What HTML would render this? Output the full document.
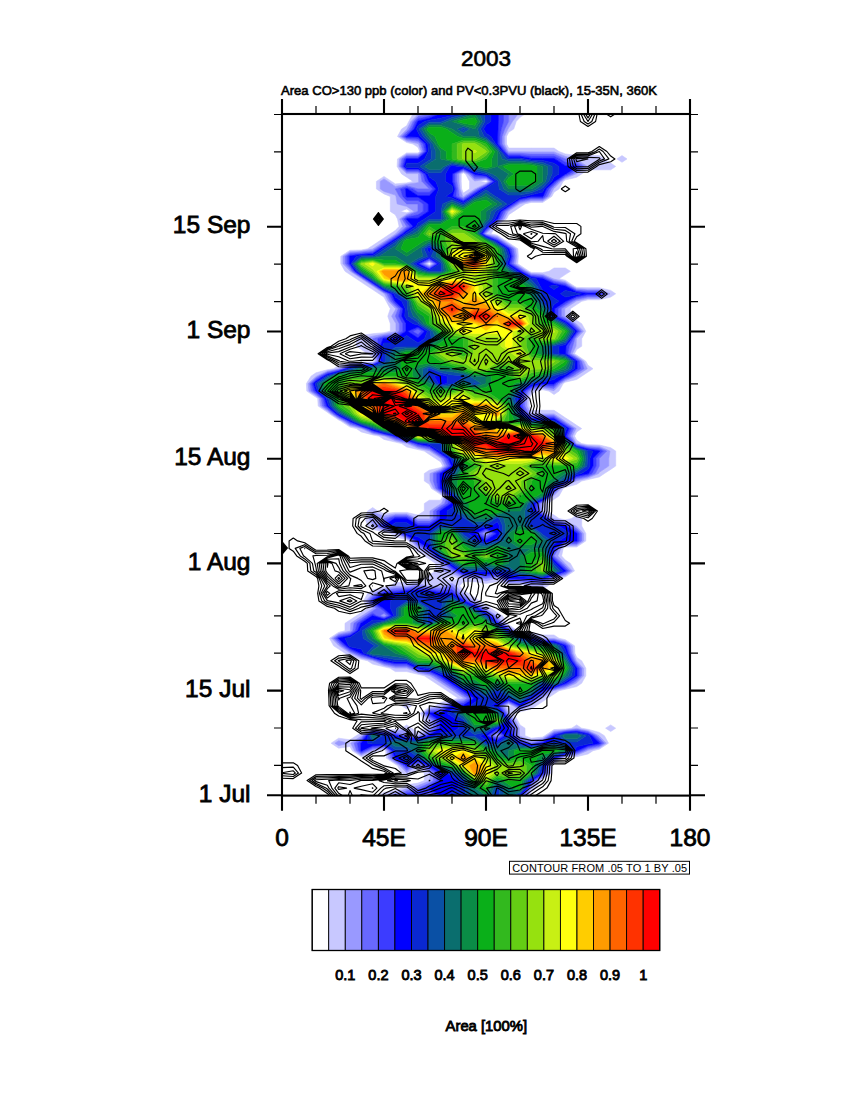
<!DOCTYPE html>
<html><head><meta charset="utf-8"><title>2003</title>
<style>
html,body{margin:0;padding:0;background:#fff;}
body{width:850px;height:1100px;overflow:hidden;font-family:"Liberation Sans",sans-serif;}
svg{display:block;}
text{font-family:"Liberation Sans",sans-serif;fill:#000;}
.big{font-size:24.5px;stroke:#000;stroke-width:0.8px;}
.ttl{font-size:22.5px;stroke:#000;stroke-width:0.65px;}
.sm{font-size:13px;stroke:#000;stroke-width:0.6px;}
.cb{font-size:14.5px;stroke:#000;stroke-width:0.85px;}
.cbt{font-size:14.8px;stroke:#000;stroke-width:0.85px;}
.info{font-size:11px;}
</style></head><body>
<svg width="850" height="1100" viewBox="0 0 850 1100">
<rect width="850" height="1100" fill="#fff"/>

<defs><clipPath id="c"><rect x="282" y="114" width="408" height="681.6"/></clipPath></defs>
<g clip-path="url(#c)">
<path fill="#c8c8ff" stroke="#c8c8ff" stroke-width="0.6" fill-rule="evenodd" d="M379 795.6L384 795.6L385.9 795.6L395.3 793.1L406.7 788.6L408.6 788.1L418 785.6L429.3 781.1L430 780.6L430 773.1L429.3 772.7L418.7 765.6L418 765.3L417.3 765.6L406.7 772.7L399.7 765.6L395.3 762.8L388.4 758.1L387.4 750.7L384 748.4L372.7 750.3L372 750.7L361.3 755.3L354.4 750.7L350.7 743.2L361.3 736.1L361.6 735.7L372.7 729.9L384 730.5L395.3 731.1L406.7 729.4L416.1 735.7L418 735.9L418.7 735.7L429.3 728.6L430 728.2L430 720.7L429.3 720.3L422.4 713.2L429.3 708.6L440.7 706.2L441.3 705.7L452 701.1L463.3 698.7L464 698.2L463.3 697.8L452.7 690.7L452 690.3L441.3 683.2L440.7 682.8L430 675.8L429.3 675.4L418 672.9L407.3 668.3L406.7 668L395.3 668L384 665.4L373.3 660.8L372.7 660.6L361.3 657.9L350.7 653.3L350 653L339.1 645.8L338.7 645.4L331.7 638.3L338.7 633.7L350 631.1L350.5 630.8L350.7 623.3L361.3 616.3L362 615.8L372.7 608.8L373.3 608.3L372.7 607.9L365.7 600.9L372.7 593.8L373.3 593.4L384 588.8L395.3 586.3L406.7 586.2L408.6 585.9L418 583.4L427.4 585.9L429.3 586.2L440.7 586.3L442.6 585.9L452 583.4L455.8 585.9L462.7 593.4L463.3 593.8L474 600.9L474.7 601.2L485.5 608.3L486 608.7L496.9 615.8L497.3 616.3L504.3 623.3L508.7 626.2L515.6 630.8L520 633.1L531.3 633.7L542 638.3L542.7 638.5L554 638.5L565.3 641.2L572.3 645.8L573.2 653.3L576.4 660.8L576.7 661.2L583.6 668.3L583.6 675.8L576.7 682.8L576 683.2L565.3 687.9L554 690.5L553.3 690.7L542.7 697.8L542 698.2L531.3 705.3L530.7 705.7L520 710.3L513 705.7L508.7 703.4L504.3 705.7L508.4 713.2L508.7 713.6L515.6 720.7L519.3 728.2L519.5 735.7L520 736.1L531.3 740.7L542.7 738.6L547 735.7L554 731.1L565.3 729.9L576.7 728.4L588 730.5L598.9 735.7L599.3 736.1L606.3 743.2L599.3 747.8L588 750.3L587.3 750.7L576.7 755.3L565.3 756.5L561 758.1L554 762.8L550.6 765.6L549.6 773.1L542.7 777.7L538.3 780.6L531.3 787.7L531.1 788.1L527 795.6L529.2 795.6L531.3 791.4L536.4 788.1L540.5 780.6L542.7 779.2L551.8 773.1L552.3 765.6L554 764.2L563.2 758.1L565.3 757.3L576.7 756.7L588 754L593 750.7L599.3 749.2L608.5 743.2L604.4 735.7L599.3 732.4L588 729.3L581.7 728.2L576.7 724.9L571.6 728.2L565.3 729L554 729.6L544.8 735.7L542.7 737.1L531.3 738.2L525 735.7L525 728.2L520 724.9L517.8 720.7L513.7 713.2L520 711.8L531.3 709L536.4 705.7L542.7 701.6L547.7 698.2L554 694.1L559 690.7L565.3 689.3L576.7 686.6L581.7 683.2L585.8 675.8L585.8 668.3L581.7 660.8L576.7 657.4L574.9 653.3L574.5 645.8L565.3 639.7L559 638.3L554 635L542.7 635L531.3 632.3L520 632L517.8 630.8L508.7 624.8L506.5 623.3L502.4 615.8L497.3 612.5L491 608.3L486 605L479.7 600.9L474.7 597.5L468.4 593.4L463.3 590L459.6 585.9L463.3 581.7L474.7 581.7L486 583.4L497.3 581.7L508.7 584.4L520 584.4L526.3 585.9L531.3 589.2L542.7 589.2L547.7 585.9L554 581.7L559 578.4L565.3 576.9L574.5 570.9L570.4 563.4L565.3 560.1L561.6 555.9L563.2 548.4L565.3 547L576.7 547L585.8 540.9L585.8 533.4L581.7 526L581.7 518.5L576.7 515.1L571.6 518.5L565.3 519.9L559 518.5L554 515.1L547.7 511L547.7 503.5L554 499.3L559 496L563.2 488.5L565.3 487.4L576.7 484.3L581.7 481L588 479.6L599.3 476.9L604.4 473.5L610.7 469.4L615.7 466L615.7 458.5L615.7 451.1L610.7 447.7L599.3 445L588 444.7L581.7 443.6L576.7 440.2L574.5 436.1L576.7 431.9L581.7 428.6L576.7 425.3L570.4 421.1L565.3 417.8L559 413.6L554 410.3L542.7 410.3L531.3 410.3L529.2 406.1L529.2 398.6L531.3 394.5L536.4 391.1L542.7 389.7L549 391.1L554 394.5L559 391.1L563.2 383.6L565.3 382.2L576.7 379.5L581.7 376.2L588 372L593 368.7L588 365.3L585.8 361.2L576.7 355.1L574.5 353.7L576.7 349.5L581.7 346.2L581.7 338.7L585.8 331.2L581.7 323.7L576.7 320.4L570.4 316.2L570.4 308.7L576.7 304.6L581.7 301.3L588 299.8L599.3 299.8L610.7 297.1L615.7 293.8L610.7 290.4L599.3 287.7L588 287.7L576.7 287.4L574.5 286.3L565.3 280.2L559 278.8L565.3 274.6L570.4 271.3L565.3 268L554 268L549 271.3L542.7 272.7L531.3 272.4L529.2 271.3L520 265.2L517.8 263.8L518.3 256.3L517.8 248.8L508.7 242.8L506.5 241.3L497.3 235.3L491 233.8L495.6 226.4L497.3 224.9L506.5 218.9L508.7 214.7L513.7 211.4L520 207.2L525 203.9L531.3 202.4L542.7 202.4L551.8 196.4L554 192.2L559 188.9L563.2 181.4L565.3 180L576.7 177.2L581.7 173.9L588 169.8L599.3 169.8L610.7 169.8L615.7 166.4L610.7 163.1L604.4 158.9L599.3 155.6L588 155.6L576.7 155.6L565.3 153.9L559 151.5L554 148.1L542.7 148.1L531.3 148.1L520 148.1L508.7 148.1L506.5 144L506.5 136.5L508.7 132.3L513.7 129L516.2 121.5L520 117.3L525 114L520 114L518.1 114L512.4 121.5L508.7 127.7L508 129L504.3 136.5L504.3 144L508.4 151.5L508.7 151.8L520 151.8L531.3 151.9L542.7 151.9L554 151.9L565.3 156.4L574.8 158.9L576.7 159.4L587.3 166.4L576.7 173.5L576 173.9L565.3 178.5L561 181.4L554 188.5L553.5 188.9L549.6 196.4L542.7 201L531.3 201L520 203.6L519.5 203.9L508.7 211.1L508.2 211.4L504.3 218.9L497.3 223.5L493.9 226.4L486 233.5L485.8 233.8L486 234L497.3 236.7L504.3 241.3L508.7 244.2L515.6 248.8L516.6 256.3L515.6 263.8L520 266.7L527 271.3L531.3 273.6L542.7 274.2L553.3 278.8L554 279.1L565.3 281.7L572.3 286.3L576.7 288.5L588 289.2L599.3 289.2L610 293.8L599.3 298.4L588 298.4L576.7 300.9L576 301.3L565.3 308.3L564.7 308.7L564.7 316.2L565.3 316.5L576.2 323.7L576.7 324.2L583.6 331.2L576.7 338.3L576.4 338.7L576 346.2L572.3 353.7L576.7 356.6L583.6 361.2L587.3 368.7L576.7 375.7L576 376.2L565.3 380.8L561 383.6L554 390.7L542.7 388.3L531.3 390.8L530.9 391.1L527 398.6L527 406.1L530.9 413.6L531.3 413.9L542.7 413.9L554 413.9L564.9 421.1L565.3 421.4L576.2 428.6L572.3 436.1L576.4 443.6L576.7 443.7L588 445.8L599.3 446.4L610 451.1L608.8 458.5L608.8 466L599.3 472.3L598.7 473.5L588 478.1L576.7 480.7L576.2 481L565.3 486.2L561 488.5L554 495.6L553.7 496L542.7 503.3L542.2 503.5L542.2 511L542.7 511.3L553.5 518.5L554 518.8L565.3 521.3L576 526L576.7 526.4L583.6 533.4L583.6 540.9L576.7 545.5L565.3 545.5L561 548.4L557.8 555.9L564.9 563.4L565.3 563.8L572.3 570.9L565.3 575.5L554 578.2L553.3 578.4L542.7 585.4L531.3 585.4L520 583L508.7 583L498 578.4L497.3 578.1L495.4 578.4L486 580.9L476.6 578.4L474.7 578.1L463.3 578.1L452 573.4L442.6 570.9L441.1 563.4L440.7 563.1L429.8 555.9L429.3 555.5L418.7 548.4L418 548L411 540.9L406.7 538.7L395.8 533.4L395.3 533.1L384 530.6L373.3 526L372.7 524.7L368.9 518.5L372.7 512.2L384 516L395.3 513.9L406.7 513.9L417.3 518.5L418 518.9L429.3 518.9L430 518.5L430 511L440.7 503.9L441.3 503.5L445 496L440.7 493.1L433.7 488.5L430 481L430 473.5L440.7 468.9L445 466L441.1 458.5L440.7 458.2L429.8 451.1L429.3 450.7L418 448.2L407.3 443.6L406.7 443.4L395.3 440.7L384.7 436.1L384 435.9L372.7 433.8L361.8 428.6L361.3 428.4L350 425.7L343 421.1L338.7 418.8L330.8 413.6L327.3 410.7L320.4 406.1L319.4 398.6L316 395.7L309 391.1L308.1 383.6L316 376.5L316.5 376.2L327.3 370.9L338.7 368.8L339.1 368.7L350 363.4L361.3 362.8L372.7 362.8L376.1 361.2L373.1 353.7L373.1 346.2L372.7 344.9L363.2 338.7L372.7 336.2L384 334.1L395.3 331.7L396 331.2L396 323.7L395.3 322.5L391.6 316.2L395.3 310L395.8 308.7L395.3 308.3L388.4 301.3L384.5 293.8L384 293.6L373 286.3L372.7 286.1L361.6 278.8L361.3 278.6L350.3 271.3L350 270.9L343 263.8L343 256.3L350 251.7L361.3 251.1L372.7 249.1L373.1 248.8L384 241.6L384.5 241.3L395.3 234.2L395.8 233.8L402.9 226.4L399.7 218.9L406.7 214.3L414.2 211.4L406.7 206.4L397.2 203.9L396 196.4L395.3 195.1L384 191.4L380.2 188.9L380.2 181.4L384 178.9L387.8 181.4L395.3 186.4L406.7 184.3L418 182.7L418.7 181.4L418.5 173.9L418 173.6L406.7 173.6L398.8 166.4L399.7 158.9L406.7 154.3L418 154.3L421.4 151.5L418.5 144L418 143.5L406.7 141.1L399.7 136.5L406.7 129.4L407.1 129L411 121.5L418 114.4L419.9 114L418 114L413 114L408.8 121.5L406.7 125.7L401.6 129L397.5 136.5L406.7 142.5L413 144L418 147.3L419.7 151.5L418 152.9L406.7 152.9L397.5 158.9L397.1 166.4L401.6 173.9L406.7 177.2L413 181.4L406.7 182.9L395.3 183.9L391.6 181.4L384 176.4L376.4 181.4L376.4 188.9L384 193.9L390.3 196.4L390.3 203.9L390.3 211.4L395.3 214.7L397.5 218.9L399.1 226.4L395.3 230.5L390.3 233.8L384 238L379 241.3L372.7 245.5L367.6 248.8L361.3 250L350 250.3L340.8 256.3L340.8 263.8L345 271.3L350 274.6L356.3 278.8L361.3 282.1L367.6 286.3L372.7 289.6L379 293.8L384 297.1L386.2 301.3L390.3 308.7L387.8 316.2L390.3 323.7L390.3 331.2L384 332.7L372.7 333.7L361.3 335.4L356.3 338.7L356.3 346.2L361.3 349.5L367.6 353.7L372.7 357L374.4 361.2L372.7 362L361.3 362L350 362.3L338.7 365.3L333.6 368.7L327.3 369.8L316 372.8L311 376.2L306.4 383.6L306.8 391.1L316 397.2L317.7 398.6L318.2 406.1L327.3 412.2L329.1 413.6L338.7 420L340.8 421.1L350 427.1L356.3 428.6L361.3 431.9L372.7 434.9L379 436.1L384 439.4L395.3 442.1L401.6 443.6L406.7 446.9L418 449.6L424.3 451.1L429.3 454.4L435.6 458.5L440.7 461.9L442.8 466L440.7 467.5L429.3 470.2L424.3 473.5L424.3 481L429.3 484.3L431.5 488.5L440.7 494.6L442.8 496L440.7 500.2L429.3 500.2L424.3 503.5L424.3 511L418 515.1L406.7 512.4L395.3 512.4L384 513.5L377.7 511L372.7 507.6L367.6 511L365.1 518.5L367.6 526L372.7 529.3L384 532L390.3 533.4L395.3 536.8L406.7 539.8L408.8 540.9L413 548.4L418 551.8L424.3 555.9L429.3 559.2L435.6 563.4L435.6 570.9L429.3 575.1L424.3 578.4L418 580.9L406.7 582.5L395.3 582.5L390.3 585.9L384 587.3L372.7 590L367.6 593.4L363.5 600.9L367.6 608.3L361.3 612.5L356.3 615.8L350 620L345 623.3L345 630.8L338.7 632.3L329.5 638.3L333.6 645.8L338.7 649.1L345 653.3L350 656.6L361.3 659.3L367.6 660.8L372.7 664.1L384 666.8L390.3 668.3L395.3 671.6L406.7 671.6L418 674.3L424.3 675.8L429.3 679.1L435.6 683.2L440.7 686.6L447 690.7L452 694.1L458.3 698.2L452 699.7L440.7 702.4L435.6 705.7L429.3 707.2L420.2 713.2L424.3 720.7L424.3 728.2L418 732.4L411.7 728.2L406.7 724.9L401.6 728.2L395.3 729.6L384 729.3L372.7 729L361.3 732.4L356.3 735.7L350 739.8L338.7 738.2L331.1 743.2L338.7 748.2L350 746.5L352.2 750.7L361.3 756.7L372.7 754L377.7 750.7L384 749.5L385.7 750.7L386.2 758.1L395.3 764.2L397.5 765.6L401.6 773.1L406.7 776.5L411.7 773.1L418 769L424.3 773.1L424.3 780.6L418 783.1L406.7 784.8L401.6 788.1L395.3 790.6L384 792.3ZM452 580.9L445.7 578.4L452 575.9L458.3 578.4ZM508.7 709.9L506.5 705.7L508.7 704.6L510.8 705.7ZM406.7 212.8L400.4 211.4L406.7 208.9L410.4 211.4ZM338.7 745.7L334.9 743.2L338.7 740.7L348.1 743.2ZM496.7 735.7L497.3 736L497.8 735.7L497.3 735.2ZM605.6 728.2L610.7 731.5L615.7 728.2L610.7 724.9ZM401.6 705.7L406.7 709L411.7 705.7L406.7 702.4ZM383.3 615.8L384 616L384.5 615.8L384 615.4ZM485.3 533.4L486 533.9L486.7 533.4L486 533.1ZM425 263.8L429.3 266.1L432.8 263.8L429.3 261.5ZM429.3 264.9L427.2 263.8L429.3 262.7L431.1 263.8ZM462.7 196.4L463.3 196.7L463.8 196.4L474.7 189.2L475.1 188.9L486 183.7L489.4 181.4L486 179.1L474.7 181L467.7 173.9L463.3 171.7L459 173.9L459 181.4L459.9 188.9ZM463.3 193.1L461.6 188.9L461.2 181.4L461.2 173.9L463.3 172.8L465.5 173.9L469.6 181.4L469.6 188.9ZM486 182.5L479.7 181.4L486 180.3L487.7 181.4ZM617 158.9L622 162.3L627 158.9L622 155.6Z"/>
<path fill="#9999ff" stroke="#9999ff" stroke-width="0.6" fill-rule="evenodd" d="M385.9 795.6L395.3 795.6L395.3 795.6L406.7 790.8L418 788.1L418 788.1L429.3 783.3L433.3 780.6L433.3 773.1L429.3 770.5L422 765.6L418 763.8L414 765.6L406.7 770.5L401.9 765.6L395.3 761.3L390.5 758.1L389.2 750.7L384 747.3L372.7 748.8L368.7 750.7L361.3 753.8L356.5 750.7L354 743.2L361.3 738.3L363.2 735.7L372.7 730.7L384 731.6L395.3 732.5L406.7 735.7L406.7 735.7L418 736.9L422 735.7L429.3 730.8L433.3 728.2L433.3 720.7L429.3 718.1L424.5 713.2L429.3 710L440.7 708.4L444.7 705.7L452 702.5L463.3 700.9L467.3 698.2L463.3 695.6L456 690.7L452 688.1L444.7 683.2L440.7 680.6L433.3 675.8L429.3 673.9L418 671.4L410.7 668.3L406.7 666.4L395.3 666.4L384 663.9L376.7 660.8L372.7 659.5L361.3 656.5L354 653.3L350 651.4L341.5 645.8L338.7 643.2L333.9 638.3L338.7 635.1L350 632.7L352.8 630.8L354 623.3L361.3 618.5L365.3 615.8L372.7 611L376.7 608.3L372.7 605.7L367.9 600.9L372.7 596L376.7 593.4L384 590.2L395.3 588.5L406.7 587.7L418 585.9L429.3 587.7L440.7 588.5L452 585.9L459.3 593.4L463.3 596L470.7 600.9L474.7 602.7L483.2 608.3L486 610.2L494.5 615.8L497.3 618.5L502.1 623.3L508.7 627.6L513.5 630.8L520 634.2L531.3 635.1L538.7 638.3L542.7 639.6L554 639.6L565.3 642.6L570.1 645.8L571.5 653.3L574.8 660.8L576.7 663.4L581.5 668.3L581.5 675.8L576.7 680.6L572.7 683.2L565.3 686.4L554 689.5L550 690.7L542.7 695.6L538.7 698.2L531.3 703.1L527.3 705.7L520 708.9L515.2 705.7L508.7 702.3L502.1 705.7L506.8 713.2L508.7 715.9L513.5 720.7L516 728.2L517.2 735.7L520 738.3L531.3 743.2L531.3 743.2L531.3 743.2L542.7 740L549.2 735.7L554 732.5L565.3 730.7L576.7 729.4L588 731.6L596.5 735.7L599.3 738.3L604.1 743.2L599.3 746.3L588 748.8L584 750.7L576.7 753.8L565.3 755.7L558.8 758.1L554 761.3L548.8 765.6L547.5 773.1L542.7 776.3L536.1 780.6L531.3 785.5L529.9 788.1L524.8 795.6L527 795.6L531.1 788.1L531.3 787.7L538.3 780.6L542.7 777.7L549.6 773.1L550.6 765.6L554 762.8L561 758.1L565.3 756.5L576.7 755.3L587.3 750.7L588 750.3L599.3 747.8L606.3 743.2L599.3 736.1L598.9 735.7L588 730.5L576.7 728.4L565.3 729.9L554 731.1L547 735.7L542.7 738.6L531.3 740.7L520 736.1L519.5 735.7L519.3 728.2L515.6 720.7L508.7 713.6L508.4 713.2L504.3 705.7L508.7 703.4L513 705.7L520 710.3L530.7 705.7L531.3 705.3L542 698.2L542.7 697.8L553.3 690.7L554 690.5L565.3 687.9L576 683.2L576.7 682.8L583.6 675.8L583.6 668.3L576.7 661.2L576.4 660.8L573.2 653.3L572.3 645.8L565.3 641.2L554 638.5L542.7 638.5L542 638.3L531.3 633.7L520 633.1L515.6 630.8L508.7 626.2L504.3 623.3L497.3 616.3L496.9 615.8L486 608.7L485.5 608.3L474.7 601.2L474 600.9L463.3 593.8L462.7 593.4L455.8 585.9L452 583.4L442.6 585.9L440.7 586.3L429.3 586.2L427.4 585.9L418 583.4L408.6 585.9L406.7 586.2L395.3 586.3L384 588.8L373.3 593.4L372.7 593.8L365.7 600.9L372.7 607.9L373.3 608.3L372.7 608.8L362 615.8L361.3 616.3L350.7 623.3L350.5 630.8L350 631.1L338.7 633.7L331.7 638.3L338.7 645.4L339.1 645.8L350 653L350.7 653.3L361.3 657.9L372.7 660.6L373.3 660.8L384 665.4L395.3 668L406.7 668L407.3 668.3L418 672.9L429.3 675.4L430 675.8L440.7 682.8L441.3 683.2L452 690.3L452.7 690.7L463.3 697.8L464 698.2L463.3 698.7L452 701.1L441.3 705.7L440.7 706.2L429.3 708.6L422.4 713.2L429.3 720.3L430 720.7L430 728.2L429.3 728.6L418.7 735.7L418 735.9L416.1 735.7L406.7 729.4L395.3 731.1L384 730.5L372.7 729.9L361.6 735.7L361.3 736.1L350.7 743.2L354.4 750.7L361.3 755.3L372 750.7L372.7 750.3L384 748.4L387.4 750.7L388.4 758.1L395.3 762.8L399.7 765.6L406.7 772.7L417.3 765.6L418 765.3L418.7 765.6L429.3 772.7L430 773.1L430 780.6L429.3 781.1L418 785.6L408.6 788.1L406.7 788.6L395.3 793.1ZM429.3 795.6L429.3 795.6L429.3 795.6L429.3 795.6ZM334.9 743.2L338.7 745.7L348.1 743.2L338.7 740.7ZM493.3 735.7L497.3 737.6L500.2 735.7L497.3 733ZM497.3 736L496.7 735.7L497.3 735.2L497.8 735.7ZM380 615.8L384 617.1L386.8 615.8L384 613.2ZM384 616L383.3 615.8L384 615.4L384.5 615.8ZM476.6 578.4L486 580.9L495.4 578.4L497.3 578.1L498 578.4L508.7 583L520 583L531.3 585.4L542.7 585.4L553.3 578.4L554 578.2L565.3 575.5L572.3 570.9L565.3 563.8L564.9 563.4L557.8 555.9L561 548.4L565.3 545.5L576.7 545.5L583.6 540.9L583.6 533.4L576.7 526.4L576 526L565.3 521.3L554 518.8L553.5 518.5L542.7 511.3L542.2 511L542.2 503.5L542.7 503.3L553.7 496L554 495.6L561 488.5L565.3 486.2L576.2 481L576.7 480.7L588 478.1L598.7 473.5L599.3 472.3L608.8 466L608.8 458.5L610 451.1L599.3 446.4L588 445.8L576.7 443.7L576.4 443.6L572.3 436.1L576.2 428.6L565.3 421.4L564.9 421.1L554 413.9L542.7 413.9L531.3 413.9L530.9 413.6L527 406.1L527 398.6L530.9 391.1L531.3 390.8L542.7 388.3L554 390.7L561 383.6L565.3 380.8L576 376.2L576.7 375.7L587.3 368.7L583.6 361.2L576.7 356.6L572.3 353.7L576 346.2L576.4 338.7L576.7 338.3L583.6 331.2L576.7 324.2L576.2 323.7L565.3 316.5L564.7 316.2L564.7 308.7L565.3 308.3L576 301.3L576.7 300.9L588 298.4L599.3 298.4L610 293.8L599.3 289.2L588 289.2L576.7 288.5L572.3 286.3L565.3 281.7L554 279.1L553.3 278.8L542.7 274.2L531.3 273.6L527 271.3L520 266.7L515.6 263.8L516.6 256.3L515.6 248.8L508.7 244.2L504.3 241.3L497.3 236.7L486 234L485.8 233.8L486 233.5L493.9 226.4L497.3 223.5L504.3 218.9L508.2 211.4L508.7 211.1L519.5 203.9L520 203.6L531.3 201L542.7 201L549.6 196.4L553.5 188.9L554 188.5L561 181.4L565.3 178.5L576 173.9L576.7 173.5L587.3 166.4L576.7 159.4L574.8 158.9L565.3 156.4L554 151.9L542.7 151.9L531.3 151.9L520 151.8L508.7 151.8L508.4 151.5L504.3 144L504.3 136.5L508 129L508.7 127.7L512.4 121.5L518.1 114L508.7 114L508.7 114L508.7 121.5L504.7 129L502.1 136.5L502.1 144L506.8 151.5L508.7 153.3L520 153.3L531.3 154.1L542.7 154.1L554 154.1L565.3 158.9L565.3 158.9L576.7 161.6L584 166.4L576.7 171.3L572.7 173.9L565.3 177.1L558.8 181.4L554 186.3L551.2 188.9L547.5 196.4L542.7 199.6L531.3 199.6L520 202L517.2 203.9L508.7 209.5L505.8 211.4L502.1 218.9L497.3 222L492.2 226.4L486 232L484.5 233.8L486 234.8L497.3 238.2L502.1 241.3L508.7 245.7L513.5 248.8L514.8 256.3L513.5 263.8L520 268.1L524.8 271.3L531.3 274.7L542.7 275.6L550 278.8L554 280.7L565.3 283.1L570.1 286.3L576.7 289.7L588 290.6L599.3 290.6L606.7 293.8L599.3 296.9L588 296.9L576.7 299.4L572.7 301.3L565.3 306.1L561.3 308.7L561.3 316.2L565.3 318.1L573.8 323.7L576.7 326.4L581.5 331.2L576.7 336.1L574.8 338.7L572.7 346.2L570.1 353.7L576.7 358L581.5 361.2L584 368.7L576.7 373.5L572.7 376.2L565.3 379.3L558.8 383.6L554 388.5L542.7 386.8L531.3 389.3L528.5 391.1L524.8 398.6L524.8 406.1L528.5 413.6L531.3 415.5L542.7 415.5L554 415.5L562.5 421.1L565.3 423L573.8 428.6L570.1 436.1L575.2 443.6L576.7 444.5L588 447L599.3 447.9L606.7 451.1L599.3 458.5L599.3 458.5L599.3 466L595.3 473.5L588 476.7L576.7 479.1L573.8 481L565.3 485.1L558.8 488.5L554 493.4L552.1 496L542.7 502.2L539.8 503.5L539.8 511L542.7 512.8L551.2 518.5L554 520.3L565.3 522.8L572.7 526L576.7 528.6L581.5 533.4L581.5 540.9L576.7 544.1L565.3 544.1L558.8 548.4L554 555.9L554 555.9L554 555.9L562.5 563.4L565.3 566.1L570.1 570.9L565.3 574.1L554 577.1L550 578.4L542.7 583.2L531.3 583.2L520 581.6L508.7 581.6L501.3 578.4L497.3 576.5L486 578.4L474.7 576.5L463.3 576.5L452 570.9L452 570.9L443.5 563.4L440.7 561.5L432.2 555.9L429.3 553.3L422 548.4L418 545.8L413.2 540.9L406.7 537.5L398.2 533.4L395.3 531.6L384 529.1L376.7 526L384 518.5L384 518.5L395.3 515.3L406.7 515.3L414 518.5L418 521.1L429.3 521.1L433.3 518.5L433.3 511L440.7 506.1L444.7 503.5L447.2 496L440.7 491.7L435.9 488.5L433.3 481L433.3 473.5L440.7 470.4L447.2 466L443.5 458.5L440.7 456.7L432.2 451.1L429.3 449.2L418 446.7L410.7 443.6L406.7 442.3L395.3 439.2L388 436.1L384 435.1L372.7 432.7L364.2 428.6L361.3 427.6L350 424.3L345.2 421.1L338.7 417.7L332.5 413.6L327.3 409.3L322.5 406.1L321.2 398.6L316 394.3L311.2 391.1L309.8 383.6L316 378L318.8 376.2L327.3 372.1L338.7 369.6L341.5 368.7L350 364.6L361.3 363.7L372.7 363.7L377.8 361.2L375.5 353.7L375.5 346.2L372.7 338.7L384 335.5L395.3 333.9L399.3 331.2L399.3 323.7L395.3 316.2L398.2 308.7L395.3 306.1L390.5 301.3L386.8 293.8L384 292.5L374.6 286.3L372.7 285L363.2 278.8L361.3 277.5L351.9 271.3L350 268.6L345.2 263.8L345.2 256.3L350 253.1L361.3 252.2L372.7 250.7L375.5 248.8L384 243.2L386.8 241.3L395.3 235.7L398.2 233.8L406.7 226.4L406.7 226.4L406.7 226.4L401.9 218.9L406.7 215.7L418 211.4L418 211.4L418 203.9L418 203.9L406.7 203.9L399.3 196.4L395.3 188.9L406.7 185.7L418 188.9L418 188.9L429.3 188.9L429.3 188.9L429.3 188.9L422 181.4L420.8 173.9L418 172L406.7 172L400.5 166.4L401.9 158.9L406.7 155.8L418 155.8L423.2 151.5L420.8 144L418 141.3L406.7 139.6L401.9 136.5L406.7 131.6L409.5 129L413.2 121.5L418 116.6L429.3 114L429.3 114L429.3 114L419.9 114L418 114.4L411 121.5L407.1 129L406.7 129.4L399.7 136.5L406.7 141.1L418 143.5L418.5 144L421.4 151.5L418 154.3L406.7 154.3L399.7 158.9L398.8 166.4L406.7 173.6L418 173.6L418.5 173.9L418.7 181.4L418 182.7L406.7 184.3L395.3 186.4L387.8 181.4L384 178.9L380.2 181.4L380.2 188.9L384 191.4L395.3 195.1L396 196.4L397.2 203.9L406.7 206.4L414.2 211.4L406.7 214.3L399.7 218.9L402.9 226.4L395.8 233.8L395.3 234.2L384.5 241.3L384 241.6L373.1 248.8L372.7 249.1L361.3 251.1L350 251.7L343 256.3L343 263.8L350 270.9L350.3 271.3L361.3 278.6L361.6 278.8L372.7 286.1L373 286.3L384 293.6L384.5 293.8L388.4 301.3L395.3 308.3L395.8 308.7L395.3 310L391.6 316.2L395.3 322.5L396 323.7L396 331.2L395.3 331.7L384 334.1L372.7 336.2L363.2 338.7L372.7 344.9L373.1 346.2L373.1 353.7L376.1 361.2L372.7 362.8L361.3 362.8L350 363.4L339.1 368.7L338.7 368.8L327.3 370.9L316.5 376.2L316 376.5L308.1 383.6L309 391.1L316 395.7L319.4 398.6L320.4 406.1L327.3 410.7L330.8 413.6L338.7 418.8L343 421.1L350 425.7L361.3 428.4L361.8 428.6L372.7 433.8L384 435.9L384.7 436.1L395.3 440.7L406.7 443.4L407.3 443.6L418 448.2L429.3 450.7L429.8 451.1L440.7 458.2L441.1 458.5L445 466L440.7 468.9L430 473.5L430 481L433.7 488.5L440.7 493.1L445 496L441.3 503.5L440.7 503.9L430 511L430 518.5L429.3 518.9L418 518.9L417.3 518.5L406.7 513.9L395.3 513.9L384 516L372.7 512.2L368.9 518.5L372.7 524.7L373.3 526L384 530.6L395.3 533.1L395.8 533.4L406.7 538.7L411 540.9L418 548L418.7 548.4L429.3 555.5L429.8 555.9L440.7 563.1L441.1 563.4L442.6 570.9L452 573.4L463.3 578.1L474.7 578.1ZM482 533.4L486 536.1L490 533.4L486 531.6ZM486 533.9L485.3 533.4L486 533.1L486.7 533.4ZM418 331.2L418 331.2L418 331.2L418 331.2ZM422.8 263.8L429.3 267.2L434.5 263.8L429.3 260.4ZM429.3 266.1L425 263.8L429.3 261.5L432.8 263.8ZM459.3 196.4L463.3 198.3L466.2 196.4L474.7 190.8L477.5 188.9L486 184.8L491.2 181.4L486 178L474.7 178.8L469.9 173.9L463.3 170.5L456.8 173.9L456.8 181.4L458.2 188.9ZM463.3 196.7L462.7 196.4L459.9 188.9L459 181.4L459 173.9L463.3 171.7L467.7 173.9L474.7 181L486 179.1L489.4 181.4L486 183.7L475.1 188.9L474.7 189.2L463.8 196.4Z"/>
<path fill="#6868ff" stroke="#6868ff" stroke-width="0.6" fill-rule="evenodd" d="M395.3 795.6L400.5 795.6L406.7 793L418 791.5L423.2 788.1L429.3 785.5L436.7 780.6L436.7 773.1L429.3 768.3L425.3 765.6L418 762.2L410.7 765.6L406.7 768.3L404.1 765.6L395.3 759.9L392.7 758.1L390.9 750.7L384 746.1L372.7 747.2L365.3 750.7L361.3 752.4L358.7 750.7L357.3 743.2L361.3 740.5L364.8 735.7L372.7 731.5L384 732.7L395.3 734L401.5 735.7L406.7 736.9L418 738L425.3 735.7L429.3 733L436.7 728.2L436.7 720.7L429.3 715.9L426.7 713.2L429.3 711.5L440.7 710.6L448 705.7L452 704L463.3 703.1L470.7 698.2L463.3 693.4L459.3 690.7L452 685.9L448 683.2L440.7 678.4L436.7 675.8L429.3 672.3L418 670L414 668.3L406.7 664.8L395.3 664.8L384 662.5L380 660.8L372.7 658.5L361.3 655L357.3 653.3L350 649.9L343.9 645.8L338.7 641L336.1 638.3L338.7 636.6L350 634.3L355.2 630.8L357.3 623.3L361.3 620.7L368.7 615.8L372.7 613.2L376.7 615.8L384 618.1L389.2 615.8L384 611L380 608.3L372.7 603.5L370.1 600.9L372.7 598.2L380 593.4L384 591.6L395.3 590.7L406.7 589.3L418 588L429.3 589.3L440.7 590.7L452 589.3L456 593.4L463.3 598.2L467.3 600.9L474.7 604.3L480.8 608.3L486 611.8L492.1 615.8L497.3 620.7L499.9 623.3L508.7 629.1L511.3 630.8L520 635.4L531.3 636.6L535.3 638.3L542.7 640.6L554 640.6L565.3 644.1L567.9 645.8L569.8 653.3L573.2 660.8L576.7 665.6L579.3 668.3L579.3 675.8L576.7 678.4L569.3 683.2L565.3 685L554 688.4L546.7 690.7L542.7 693.4L535.3 698.2L531.3 700.9L524 705.7L520 707.4L517.4 705.7L508.7 701.2L499.9 705.7L505.2 713.2L508.7 718.1L511.3 720.7L512.7 728.2L514.8 735.7L520 740.5L526.2 743.2L531.3 744.1L536.5 743.2L542.7 741.4L551.4 735.7L554 734L565.3 731.5L576.7 730.5L588 732.7L594.1 735.7L599.3 740.5L601.9 743.2L599.3 744.9L588 747.2L580.7 750.7L576.7 752.4L565.3 754.8L556.6 758.1L554 759.9L547.1 765.6L545.3 773.1L542.7 774.9L533.9 780.6L531.3 783.3L528.6 788.1L522.6 795.6L524.8 795.6L529.9 788.1L531.3 785.5L536.1 780.6L542.7 776.3L547.5 773.1L548.8 765.6L554 761.3L558.8 758.1L565.3 755.7L576.7 753.8L584 750.7L588 748.8L599.3 746.3L604.1 743.2L599.3 738.3L596.5 735.7L588 731.6L576.7 729.4L565.3 730.7L554 732.5L549.2 735.7L542.7 740L531.3 743.2L531.3 743.2L531.3 743.2L520 738.3L517.2 735.7L516 728.2L513.5 720.7L508.7 715.9L506.8 713.2L502.1 705.7L508.7 702.3L515.2 705.7L520 708.9L527.3 705.7L531.3 703.1L538.7 698.2L542.7 695.6L550 690.7L554 689.5L565.3 686.4L572.7 683.2L576.7 680.6L581.5 675.8L581.5 668.3L576.7 663.4L574.8 660.8L571.5 653.3L570.1 645.8L565.3 642.6L554 639.6L542.7 639.6L538.7 638.3L531.3 635.1L520 634.2L513.5 630.8L508.7 627.6L502.1 623.3L497.3 618.5L494.5 615.8L486 610.2L483.2 608.3L474.7 602.7L470.7 600.9L463.3 596L459.3 593.4L452 585.9L440.7 588.5L429.3 587.7L418 585.9L406.7 587.7L395.3 588.5L384 590.2L376.7 593.4L372.7 596L367.9 600.9L372.7 605.7L376.7 608.3L372.7 611L365.3 615.8L361.3 618.5L354 623.3L352.8 630.8L350 632.7L338.7 635.1L333.9 638.3L338.7 643.2L341.5 645.8L350 651.4L354 653.3L361.3 656.5L372.7 659.5L376.7 660.8L384 663.9L395.3 666.4L406.7 666.4L410.7 668.3L418 671.4L429.3 673.9L433.3 675.8L440.7 680.6L444.7 683.2L452 688.1L456 690.7L463.3 695.6L467.3 698.2L463.3 700.9L452 702.5L444.7 705.7L440.7 708.4L429.3 710L424.5 713.2L429.3 718.1L433.3 720.7L433.3 728.2L429.3 730.8L422 735.7L418 736.9L406.7 735.7L406.7 735.7L395.3 732.5L384 731.6L372.7 730.7L363.2 735.7L361.3 738.3L354 743.2L356.5 750.7L361.3 753.8L368.7 750.7L372.7 748.8L384 747.3L389.2 750.7L390.5 758.1L395.3 761.3L401.9 765.6L406.7 770.5L414 765.6L418 763.8L422 765.6L429.3 770.5L433.3 773.1L433.3 780.6L429.3 783.3L418 788.1L418 788.1L406.7 790.8ZM384 617.1L380 615.8L384 613.2L386.8 615.8ZM424.2 795.6L429.3 795.6L429.3 795.6L429.3 795.6L434.5 795.6L429.3 792.2ZM490 735.7L497.3 739.1L502.5 735.7L497.3 730.8ZM497.3 737.6L493.3 735.7L497.3 733L500.2 735.7ZM501.3 578.4L508.7 581.6L520 581.6L531.3 583.2L542.7 583.2L550 578.4L554 577.1L565.3 574.1L570.1 570.9L565.3 566.1L562.5 563.4L554 555.9L554 555.9L554 555.9L558.8 548.4L565.3 544.1L576.7 544.1L581.5 540.9L581.5 533.4L576.7 528.6L572.7 526L565.3 522.8L554 520.3L551.2 518.5L542.7 512.8L539.8 511L539.8 503.5L542.7 502.2L552.1 496L554 493.4L558.8 488.5L565.3 485.1L573.8 481L576.7 479.1L588 476.7L595.3 473.5L599.3 466L599.3 458.5L599.3 458.5L606.7 451.1L599.3 447.9L588 447L576.7 444.5L575.2 443.6L570.1 436.1L573.8 428.6L565.3 423L562.5 421.1L554 415.5L542.7 415.5L531.3 415.5L528.5 413.6L524.8 406.1L524.8 398.6L528.5 391.1L531.3 389.3L542.7 386.8L554 388.5L558.8 383.6L565.3 379.3L572.7 376.2L576.7 373.5L584 368.7L581.5 361.2L576.7 358L570.1 353.7L572.7 346.2L574.8 338.7L576.7 336.1L581.5 331.2L576.7 326.4L573.8 323.7L565.3 318.1L561.3 316.2L561.3 308.7L565.3 306.1L572.7 301.3L576.7 299.4L588 296.9L599.3 296.9L606.7 293.8L599.3 290.6L588 290.6L576.7 289.7L570.1 286.3L565.3 283.1L554 280.7L550 278.8L542.7 275.6L531.3 274.7L524.8 271.3L520 268.1L513.5 263.8L514.8 256.3L513.5 248.8L508.7 245.7L502.1 241.3L497.3 238.2L486 234.8L484.5 233.8L486 232L492.2 226.4L497.3 222L502.1 218.9L505.8 211.4L508.7 209.5L517.2 203.9L520 202L531.3 199.6L542.7 199.6L547.5 196.4L551.2 188.9L554 186.3L558.8 181.4L565.3 177.1L572.7 173.9L576.7 171.3L584 166.4L576.7 161.6L565.3 158.9L565.3 158.9L554 154.1L542.7 154.1L531.3 154.1L520 153.3L508.7 153.3L506.8 151.5L502.1 144L502.1 136.5L504.7 129L508.7 121.5L508.7 114L503.5 114L503.5 121.5L501.3 129L499.9 136.5L499.9 144L505.2 151.5L508.7 154.9L520 154.9L531.3 156.3L542.7 156.3L554 156.3L560.2 158.9L565.3 162.3L576.7 163.8L580.7 166.4L576.7 169.1L569.3 173.9L565.3 175.6L556.6 181.4L554 184.1L548.8 188.9L545.3 196.4L542.7 198.1L531.3 198.1L520 200.4L514.8 203.9L508.7 207.9L503.5 211.4L499.9 218.9L497.3 220.6L490.5 226.4L486 230.4L483.3 233.8L486 235.6L497.3 239.6L499.9 241.3L508.7 247.1L511.3 248.8L513.1 256.3L511.3 263.8L520 269.6L522.6 271.3L531.3 275.8L542.7 277.1L546.7 278.8L554 282.2L565.3 284.5L567.9 286.3L576.7 290.8L588 292L599.3 292L603.3 293.8L599.3 295.5L588 295.5L576.7 297.8L569.3 301.3L565.3 303.9L558 308.7L558 316.2L565.3 319.7L571.5 323.7L576.7 328.6L579.3 331.2L576.7 333.9L573.2 338.7L569.3 346.2L567.9 353.7L576.7 359.4L579.3 361.2L580.7 368.7L576.7 371.3L569.3 376.2L565.3 377.9L556.6 383.6L554 386.3L542.7 385.4L531.3 387.7L526.1 391.1L522.6 398.6L522.6 406.1L526.1 413.6L531.3 417L542.7 417L554 417L560.1 421.1L565.3 424.5L571.5 428.6L567.9 436.1L574 443.6L576.7 445.4L588 448.1L599.3 449.3L603.3 451.1L599.3 455.1L596.2 458.5L596.2 466L592 473.5L588 475.3L576.7 477.6L571.5 481L565.3 484L556.6 488.5L554 491.1L550.5 496L542.7 501.2L537.5 503.5L537.5 511L542.7 514.4L548.8 518.5L554 521.9L565.3 524.2L569.3 526L576.7 530.8L579.3 533.4L579.3 540.9L576.7 542.7L565.3 542.7L556.6 548.4L554 552.5L552.6 555.9L554 558L560.1 563.4L565.3 568.3L567.9 570.9L565.3 572.6L554 576.1L546.7 578.4L542.7 581L531.3 581L520 580.1L508.7 580.1L504.7 578.4L497.3 575L486 576.3L474.7 575L463.3 575L455.1 570.9L452 568.8L445.9 563.4L440.7 560L434.5 555.9L429.3 551.1L425.3 548.4L418 543.6L415.4 540.9L406.7 536.4L400.5 533.4L395.3 530L384 527.7L380 526L384 521.9L389.2 518.5L395.3 516.7L406.7 516.7L410.7 518.5L418 523.3L429.3 523.3L436.7 518.5L436.7 511L440.7 508.3L448 503.5L449.4 496L440.7 490.2L438.1 488.5L436.7 481L436.7 473.5L440.7 471.8L449.4 466L445.9 458.5L440.7 455.1L434.5 451.1L429.3 447.6L418 445.3L414 443.6L406.7 441.3L395.3 437.8L391.3 436.1L384 434.3L372.7 431.5L366.5 428.6L361.3 426.8L350 422.8L347.4 421.1L338.7 416.6L334.2 413.6L327.3 407.8L324.7 406.1L322.9 398.6L316 392.9L313.4 391.1L311.5 383.6L316 379.6L321.2 376.2L327.3 373.2L338.7 370.5L343.9 368.7L350 365.7L361.3 364.5L372.7 364.5L379.5 361.2L377.9 353.7L377.9 346.2L377.8 338.7L384 337L395.3 336.1L402.7 331.2L402.7 323.7L398.5 316.2L400.5 308.7L395.3 303.9L392.7 301.3L389.2 293.8L384 291.5L376.1 286.3L372.7 284L364.8 278.8L361.3 276.5L353.5 271.3L350 266.4L347.4 263.8L347.4 256.3L350 254.6L361.3 253.4L372.7 252.3L377.9 248.8L384 244.8L389.2 241.3L395.3 237.3L400.5 233.8L406.7 228.4L409.8 226.4L406.7 222.9L404.1 218.9L406.7 217.1L418 214.8L423.2 211.4L423.2 203.9L418 200.5L406.7 200.5L402.7 196.4L400.5 188.9L406.7 187.2L412.8 188.9L418 192.3L429.3 192.3L432.5 188.9L429.3 185.5L425.3 181.4L423.2 173.9L418 170.5L406.7 170.5L402.2 166.4L404.1 158.9L406.7 157.2L418 157.2L424.9 151.5L423.2 144L418 139.1L406.7 138.2L404.1 136.5L406.7 133.8L411.9 129L415.4 121.5L418 118.8L429.3 116.1L434.5 114L429.3 114L429.3 114L418 116.6L413.2 121.5L409.5 129L406.7 131.6L401.9 136.5L406.7 139.6L418 141.3L420.8 144L423.2 151.5L418 155.8L406.7 155.8L401.9 158.9L400.5 166.4L406.7 172L418 172L420.8 173.9L422 181.4L429.3 188.9L429.3 188.9L429.3 188.9L418 188.9L418 188.9L406.7 185.7L395.3 188.9L399.3 196.4L406.7 203.9L418 203.9L418 203.9L418 211.4L418 211.4L406.7 215.7L401.9 218.9L406.7 226.4L406.7 226.4L406.7 226.4L398.2 233.8L395.3 235.7L386.8 241.3L384 243.2L375.5 248.8L372.7 250.7L361.3 252.2L350 253.1L345.2 256.3L345.2 263.8L350 268.6L351.9 271.3L361.3 277.5L363.2 278.8L372.7 285L374.6 286.3L384 292.5L386.8 293.8L390.5 301.3L395.3 306.1L398.2 308.7L395.3 316.2L399.3 323.7L399.3 331.2L395.3 333.9L384 335.5L372.7 338.7L375.5 346.2L375.5 353.7L377.8 361.2L372.7 363.7L361.3 363.7L350 364.6L341.5 368.7L338.7 369.6L327.3 372.1L318.8 376.2L316 378L309.8 383.6L311.2 391.1L316 394.3L321.2 398.6L322.5 406.1L327.3 409.3L332.5 413.6L338.7 417.7L345.2 421.1L350 424.3L361.3 427.6L364.2 428.6L372.7 432.7L384 435.1L388 436.1L395.3 439.2L406.7 442.3L410.7 443.6L418 446.7L429.3 449.2L432.2 451.1L440.7 456.7L443.5 458.5L447.2 466L440.7 470.4L433.3 473.5L433.3 481L435.9 488.5L440.7 491.7L447.2 496L444.7 503.5L440.7 506.1L433.3 511L433.3 518.5L429.3 521.1L418 521.1L414 518.5L406.7 515.3L395.3 515.3L384 518.5L384 518.5L376.7 526L384 529.1L395.3 531.6L398.2 533.4L406.7 537.5L413.2 540.9L418 545.8L422 548.4L429.3 553.3L432.2 555.9L440.7 561.5L443.5 563.4L452 570.9L452 570.9L463.3 576.5L474.7 576.5L486 578.4L497.3 576.5ZM478.7 533.4L486 538.3L493.3 533.4L486 530ZM486 536.1L482 533.4L486 531.6L490 533.4ZM412.8 331.2L418 334.6L421.1 331.2L418 329.1ZM418 331.2L418 331.2L418 331.2L418 331.2ZM420.6 263.8L429.3 268.3L436.2 263.8L429.3 259.3ZM429.3 267.2L422.8 263.8L429.3 260.4L434.5 263.8ZM456 196.4L463.3 199.8L468.5 196.4L474.7 192.3L479.9 188.9L486 186L492.9 181.4L486 176.9L474.7 176.6L472.1 173.9L463.3 169.4L454.6 173.9L454.6 181.4L456.5 188.9ZM463.3 198.3L459.3 196.4L458.2 188.9L456.8 181.4L456.8 173.9L463.3 170.5L469.9 173.9L474.7 178.8L486 178L491.2 181.4L486 184.8L477.5 188.9L474.7 190.8L466.2 196.4Z"/>
<path fill="#3c3cff" stroke="#3c3cff" stroke-width="0.6" fill-rule="evenodd" d="M400.5 795.6L405.6 795.6L406.7 795.2L418 794.9L419 795.6L424.2 795.6L429.3 792.2L434.5 795.6L439.6 795.6L429.3 788.8L428.3 788.1L429.3 787.7L440 780.6L440 773.1L429.3 766.1L428.7 765.6L418 760.6L407.3 765.6L406.7 766.1L406.2 765.6L395.3 758.4L394.9 758.1L392.6 750.7L384 745L372.7 745.7L362 750.7L361.3 750.9L360.9 750.7L360.7 743.2L361.3 742.7L366.4 735.7L372.7 732.4L384 733.9L395.3 735.4L396.4 735.7L406.7 738.2L418 739L428.7 735.7L429.3 735.2L440 728.2L440 720.7L429.3 713.6L428.9 713.2L429.3 712.9L440.7 712.8L451.3 705.7L452 705.4L463.3 705.3L474 698.2L463.3 691.2L462.7 690.7L452 683.7L451.3 683.2L440.7 676.2L440 675.8L429.3 670.8L418 668.6L417.3 668.3L406.7 663.3L395.3 663.3L384 661.1L383.3 660.8L372.7 657.4L361.3 653.6L360.7 653.3L350 648.3L346.2 645.8L338.7 638.7L338.2 638.3L338.7 638L350 635.8L357.6 630.8L360.7 623.3L361.3 622.9L372 615.8L372.7 615.4L373.3 615.8L384 619.2L391.6 615.8L384 608.8L383.3 608.3L372.7 601.3L372.2 600.9L372.7 600.4L383.3 593.4L384 593.1L395.3 592.9L406.7 590.9L418 590L429.3 590.9L440.7 592.9L452 592.7L452.7 593.4L463.3 600.4L464 600.9L474.7 605.9L478.4 608.3L486 613.3L489.8 615.8L497.3 622.9L497.8 623.3L508.7 630.5L509.1 630.8L520 636.5L531.3 638L532 638.3L542.7 641.6L554 641.6L565.3 645.5L565.8 645.8L568.1 653.3L571.6 660.8L576.7 667.8L577.1 668.3L577.1 675.8L576.7 676.2L566 683.2L565.3 683.5L554 687.4L543.3 690.7L542.7 691.2L532 698.2L531.3 698.7L520.7 705.7L520 706L519.6 705.7L508.7 700L497.8 705.7L503.6 713.2L508.7 720.3L509.1 720.7L509.3 728.2L512.4 735.7L520 742.7L521 743.2L531.3 745L541.6 743.2L542.7 742.9L553.6 735.7L554 735.4L565.3 732.4L576.7 731.5L588 733.9L591.8 735.7L599.3 742.7L599.8 743.2L599.3 743.5L588 745.7L577.3 750.7L576.7 750.9L565.3 754L554.4 758.1L554 758.4L545.4 765.6L543.1 773.1L542.7 773.4L531.8 780.6L531.3 781.1L527.4 788.1L520.4 795.6L522.6 795.6L528.6 788.1L531.3 783.3L533.9 780.6L542.7 774.9L545.3 773.1L547.1 765.6L554 759.9L556.6 758.1L565.3 754.8L576.7 752.4L580.7 750.7L588 747.2L599.3 744.9L601.9 743.2L599.3 740.5L594.1 735.7L588 732.7L576.7 730.5L565.3 731.5L554 734L551.4 735.7L542.7 741.4L536.5 743.2L531.3 744.1L526.2 743.2L520 740.5L514.8 735.7L512.7 728.2L511.3 720.7L508.7 718.1L505.2 713.2L499.9 705.7L508.7 701.2L517.4 705.7L520 707.4L524 705.7L531.3 700.9L535.3 698.2L542.7 693.4L546.7 690.7L554 688.4L565.3 685L569.3 683.2L576.7 678.4L579.3 675.8L579.3 668.3L576.7 665.6L573.2 660.8L569.8 653.3L567.9 645.8L565.3 644.1L554 640.6L542.7 640.6L535.3 638.3L531.3 636.6L520 635.4L511.3 630.8L508.7 629.1L499.9 623.3L497.3 620.7L492.1 615.8L486 611.8L480.8 608.3L474.7 604.3L467.3 600.9L463.3 598.2L456 593.4L452 589.3L440.7 590.7L429.3 589.3L418 588L406.7 589.3L395.3 590.7L384 591.6L380 593.4L372.7 598.2L370.1 600.9L372.7 603.5L380 608.3L384 611L389.2 615.8L384 618.1L376.7 615.8L372.7 613.2L368.7 615.8L361.3 620.7L357.3 623.3L355.2 630.8L350 634.3L338.7 636.6L336.1 638.3L338.7 641L343.9 645.8L350 649.9L357.3 653.3L361.3 655L372.7 658.5L380 660.8L384 662.5L395.3 664.8L406.7 664.8L414 668.3L418 670L429.3 672.3L436.7 675.8L440.7 678.4L448 683.2L452 685.9L459.3 690.7L463.3 693.4L470.7 698.2L463.3 703.1L452 704L448 705.7L440.7 710.6L429.3 711.5L426.7 713.2L429.3 715.9L436.7 720.7L436.7 728.2L429.3 733L425.3 735.7L418 738L406.7 736.9L401.5 735.7L395.3 734L384 732.7L372.7 731.5L364.8 735.7L361.3 740.5L357.3 743.2L358.7 750.7L361.3 752.4L365.3 750.7L372.7 747.2L384 746.1L390.9 750.7L392.7 758.1L395.3 759.9L404.1 765.6L406.7 768.3L410.7 765.6L418 762.2L425.3 765.6L429.3 768.3L436.7 773.1L436.7 780.6L429.3 785.5L423.2 788.1L418 791.5L406.7 793ZM486.7 735.7L497.3 740.7L504.9 735.7L497.3 728.6ZM497.3 739.1L490 735.7L497.3 730.8L502.5 735.7ZM504.7 578.4L508.7 580.1L520 580.1L531.3 581L542.7 581L546.7 578.4L554 576.1L565.3 572.6L567.9 570.9L565.3 568.3L560.1 563.4L554 558L552.6 555.9L554 552.5L556.6 548.4L565.3 542.7L576.7 542.7L579.3 540.9L579.3 533.4L576.7 530.8L569.3 526L565.3 524.2L554 521.9L548.8 518.5L542.7 514.4L537.5 511L537.5 503.5L542.7 501.2L550.5 496L554 491.1L556.6 488.5L565.3 484L571.5 481L576.7 477.6L588 475.3L592 473.5L596.2 466L596.2 458.5L599.3 455.1L603.3 451.1L599.3 449.3L588 448.1L576.7 445.4L574 443.6L567.9 436.1L571.5 428.6L565.3 424.5L560.1 421.1L554 417L542.7 417L531.3 417L526.1 413.6L522.6 406.1L522.6 398.6L526.1 391.1L531.3 387.7L542.7 385.4L554 386.3L556.6 383.6L565.3 377.9L569.3 376.2L576.7 371.3L580.7 368.7L579.3 361.2L576.7 359.4L567.9 353.7L569.3 346.2L573.2 338.7L576.7 333.9L579.3 331.2L576.7 328.6L571.5 323.7L565.3 319.7L558 316.2L558 308.7L565.3 303.9L569.3 301.3L576.7 297.8L588 295.5L599.3 295.5L603.3 293.8L599.3 292L588 292L576.7 290.8L567.9 286.3L565.3 284.5L554 282.2L546.7 278.8L542.7 277.1L531.3 275.8L522.6 271.3L520 269.6L511.3 263.8L513.1 256.3L511.3 248.8L508.7 247.1L499.9 241.3L497.3 239.6L486 235.6L483.3 233.8L486 230.4L490.5 226.4L497.3 220.6L499.9 218.9L503.5 211.4L508.7 207.9L514.8 203.9L520 200.4L531.3 198.1L542.7 198.1L545.3 196.4L548.8 188.9L554 184.1L556.6 181.4L565.3 175.6L569.3 173.9L576.7 169.1L580.7 166.4L576.7 163.8L565.3 162.3L560.2 158.9L554 156.3L542.7 156.3L531.3 156.3L520 154.9L508.7 154.9L505.2 151.5L499.9 144L499.9 136.5L501.3 129L503.5 121.5L503.5 114L498.4 114L498.4 121.5L498 129L497.8 136.5L497.8 144L503.6 151.5L508.7 156.4L520 156.4L531.3 158.5L542.7 158.5L554 158.5L555 158.9L565.3 165.7L576.7 166L577.3 166.4L576.7 166.9L566 173.9L565.3 174.2L554.4 181.4L554 181.9L546.4 188.9L543.1 196.4L542.7 196.7L531.3 196.7L520 198.9L512.4 203.9L508.7 206.4L501.1 211.4L497.8 218.9L497.3 219.1L488.7 226.4L486 228.8L482.1 233.8L486 236.4L497.3 241L497.8 241.3L508.7 248.5L509.1 248.8L511.4 256.3L509.1 263.8L520 271L520.4 271.3L531.3 277L542.7 278.5L543.3 278.8L554 283.8L565.3 286L565.8 286.3L576.7 291.9L588 293.5L599.3 293.5L600 293.8L599.3 294.1L588 294.1L576.7 296.3L566 301.3L565.3 301.7L554.7 308.7L554.7 316.2L565.3 321.2L569.1 323.7L576.7 330.8L577.1 331.2L576.7 331.7L571.6 338.7L566 346.2L565.8 353.7L576.7 360.9L577.1 361.2L577.3 368.7L576.7 369.1L566 376.2L565.3 376.4L554.4 383.6L554 384.1L542.7 383.9L531.3 386.1L523.8 391.1L520.4 398.6L520.4 406.1L523.8 413.6L531.3 418.6L542.7 418.6L554 418.6L557.8 421.1L565.3 426.1L569.1 428.6L565.8 436.1L572.7 443.6L576.7 446.2L588 449.2L599.3 450.8L600 451.1L599.3 451.7L593 458.5L593 466L588.7 473.5L588 473.8L576.7 476L569.1 481L565.3 482.8L554.4 488.5L554 488.9L549 496L542.7 500.2L535.1 503.5L535.1 511L542.7 516L546.4 518.5L554 523.5L565.3 525.7L566 526L576.7 533L577.1 533.4L577.1 540.9L576.7 541.2L565.3 541.2L554.4 548.4L554 549.1L551.2 555.9L554 560.1L557.8 563.4L565.3 570.5L565.8 570.9L565.3 571.2L554 575.1L543.3 578.4L542.7 578.8L531.3 578.8L520 578.7L508.7 578.7L508 578.4L497.3 573.4L486 574.2L474.7 573.4L463.3 573.4L458.3 570.9L452 566.7L448.2 563.4L440.7 558.4L436.9 555.9L429.3 548.9L428.7 548.4L418 541.4L417.6 540.9L406.7 535.3L402.9 533.4L395.3 528.5L384 526.2L383.3 526L384 525.3L394.3 518.5L395.3 518.2L406.7 518.2L407.3 518.5L418 525.5L429.3 525.5L440 518.5L440 511L440.7 510.5L451.3 503.5L451.6 496L440.7 488.8L440.2 488.5L440 481L440 473.5L440.7 473.2L451.6 466L448.2 458.5L440.7 453.6L436.9 451.1L429.3 446.1L418 443.9L417.3 443.6L406.7 440.2L395.3 436.4L394.7 436.1L384 433.5L372.7 430.4L368.9 428.6L361.3 426L350 421.4L349.6 421.1L338.7 415.4L335.9 413.6L327.3 406.4L326.9 406.1L324.6 398.6L316 391.4L315.6 391.1L313.3 383.6L316 381.1L323.6 376.2L327.3 374.3L338.7 371.3L346.2 368.7L350 366.8L361.3 365.3L372.7 365.3L381.3 361.2L380.2 353.7L380.2 346.2L383 338.7L384 338.4L395.3 338.3L406 331.2L406 323.7L401.6 316.2L402.9 308.7L395.3 301.7L394.9 301.3L391.6 293.8L384 290.4L377.7 286.3L372.7 282.9L366.4 278.8L361.3 275.5L355 271.3L350 264.2L349.6 263.8L349.6 256.3L350 256L361.3 254.5L372.7 253.8L380.2 248.8L384 246.3L391.6 241.3L395.3 238.8L402.9 233.8L406.7 230.5L413 226.4L406.7 219.5L406.2 218.9L406.7 218.6L418 218.2L428.3 211.4L428.3 203.9L418 197.1L406.7 197.1L406 196.4L405.6 188.9L406.7 188.6L407.7 188.9L418 195.7L429.3 195.7L435.6 188.9L429.3 182.1L428.7 181.4L425.6 173.9L418 168.9L406.7 168.9L403.9 166.4L406.2 158.9L406.7 158.7L418 158.7L426.6 151.5L425.6 144L418 136.9L406.7 136.8L406.2 136.5L406.7 136L414.2 129L417.6 121.5L418 121L429.3 118.2L439.6 114L434.5 114L429.3 116.1L418 118.8L415.4 121.5L411.9 129L406.7 133.8L404.1 136.5L406.7 138.2L418 139.1L423.2 144L424.9 151.5L418 157.2L406.7 157.2L404.1 158.9L402.2 166.4L406.7 170.5L418 170.5L423.2 173.9L425.3 181.4L429.3 185.5L432.5 188.9L429.3 192.3L418 192.3L412.8 188.9L406.7 187.2L400.5 188.9L402.7 196.4L406.7 200.5L418 200.5L423.2 203.9L423.2 211.4L418 214.8L406.7 217.1L404.1 218.9L406.7 222.9L409.8 226.4L406.7 228.4L400.5 233.8L395.3 237.3L389.2 241.3L384 244.8L377.9 248.8L372.7 252.3L361.3 253.4L350 254.6L347.4 256.3L347.4 263.8L350 266.4L353.5 271.3L361.3 276.5L364.8 278.8L372.7 284L376.1 286.3L384 291.5L389.2 293.8L392.7 301.3L395.3 303.9L400.5 308.7L398.5 316.2L402.7 323.7L402.7 331.2L395.3 336.1L384 337L377.8 338.7L377.9 346.2L377.9 353.7L379.5 361.2L372.7 364.5L361.3 364.5L350 365.7L343.9 368.7L338.7 370.5L327.3 373.2L321.2 376.2L316 379.6L311.5 383.6L313.4 391.1L316 392.9L322.9 398.6L324.7 406.1L327.3 407.8L334.2 413.6L338.7 416.6L347.4 421.1L350 422.8L361.3 426.8L366.5 428.6L372.7 431.5L384 434.3L391.3 436.1L395.3 437.8L406.7 441.3L414 443.6L418 445.3L429.3 447.6L434.5 451.1L440.7 455.1L445.9 458.5L449.4 466L440.7 471.8L436.7 473.5L436.7 481L438.1 488.5L440.7 490.2L449.4 496L448 503.5L440.7 508.3L436.7 511L436.7 518.5L429.3 523.3L418 523.3L410.7 518.5L406.7 516.7L395.3 516.7L389.2 518.5L384 521.9L380 526L384 527.7L395.3 530L400.5 533.4L406.7 536.4L415.4 540.9L418 543.6L425.3 548.4L429.3 551.1L434.5 555.9L440.7 560L445.9 563.4L452 568.8L455.1 570.9L463.3 575L474.7 575L486 576.3L497.3 575ZM475.3 533.4L486 540.5L496.7 533.4L486 528.5ZM486 538.3L478.7 533.4L486 530L493.3 533.4ZM407.7 331.2L418 338L424.3 331.2L418 327.1ZM418 334.6L412.8 331.2L418 329.1L421.1 331.2ZM418.4 263.8L429.3 269.5L437.9 263.8L429.3 258.1ZM429.3 268.3L420.6 263.8L429.3 259.3L436.2 263.8ZM452.7 196.4L463.3 201.4L470.9 196.4L474.7 193.9L482.2 188.9L486 187.1L494.6 181.4L486 175.7L474.7 174.4L474.2 173.9L463.3 168.2L452.4 173.9L452.4 181.4L454.7 188.9ZM463.3 199.8L456 196.4L456.5 188.9L454.6 181.4L454.6 173.9L463.3 169.4L472.1 173.9L474.7 176.6L486 176.9L492.9 181.4L486 186L479.9 188.9L474.7 192.3L468.5 196.4Z"/>
<path fill="#0000ff" stroke="#0000ff" stroke-width="0.6" fill-rule="evenodd" d="M405.6 795.6L406.7 795.6L418 795.6L419 795.6L418 794.9L406.7 795.2ZM428.3 788.1L429.3 788.8L439.6 795.6L440.7 795.6L447.1 795.6L452 792.4L458.5 788.1L458.5 780.6L452 776.3L447.1 773.1L440.7 771.6L431.7 765.6L429.3 764.6L418 759.1L406.7 761.4L401.8 758.1L395.3 753.9L394.3 750.7L384 743.9L372.7 744.1L367.8 743.2L367.9 735.7L372.7 733.2L384 735L388.9 735.7L395.3 737.3L406.7 739.4L418 740L429.3 736.7L435.8 735.7L440.7 732.5L452 732.5L458.5 728.2L458.5 720.7L452 716.4L447.1 713.2L452 710L463.3 707.3L469.8 705.7L474.7 702.5L481.1 698.2L474.7 693.9L469.8 690.7L463.3 689.2L454.4 683.2L452 679L447.1 675.8L440.7 674.2L429.3 669.2L424.5 668.3L418 667.2L406.7 661.7L395.3 661.7L390.5 660.8L384 659.2L372.7 656.4L363.7 653.3L361.3 649L350 646.7L348.6 645.8L345.1 638.3L350 637.4L359.9 630.8L361.3 627.6L367.8 623.3L372.7 620.1L384 620.2L393.9 615.8L390.5 608.3L390.5 600.9L395.3 597.6L401.8 593.4L406.7 592.4L418 592.1L429.3 592.4L434.2 593.4L440.7 597.6L452 594.9L460.9 600.9L463.3 601.9L474.7 607.4L476.1 608.3L486 614.9L487.4 615.8L495.8 623.3L497.3 624.4L507.1 630.8L508.7 631.9L520 637.6L524.9 638.3L531.3 639.9L542.7 642.7L554 642.7L562.9 645.8L565.3 650.1L566.4 653.3L570.1 660.8L575.1 668.3L574.3 675.8L565.3 681.7L562.9 683.2L554 686.4L542.7 686.5L540.3 690.7L531.3 696.7L528.9 698.2L520 704.1L508.7 698.9L497.3 701.4L490.9 705.7L497.3 707.3L502.1 713.2L507.5 720.7L497.3 727.4L494.9 728.2L486 734.1L479.5 735.7L486 740L497.3 742.2L507.3 735.7L508.7 732.5L510.1 735.7L517.6 743.2L520 744.2L531.3 746L542.7 744.2L549.1 743.2L554 740L556.4 735.7L565.3 733.2L576.7 732.6L588 735L589.4 735.7L592.9 743.2L588 744.1L576.7 746.4L574.3 750.7L565.3 753.2L554 757.1L551.6 758.1L543.7 765.6L542.7 768.8L541.1 773.1L531.3 779.6L529.8 780.6L526.2 788.1L520 794.6L517.6 795.6L520 795.6L520.4 795.6L527.4 788.1L531.3 781.1L531.8 780.6L542.7 773.4L543.1 773.1L545.4 765.6L554 758.4L554.4 758.1L565.3 754L576.7 750.9L577.3 750.7L588 745.7L599.3 743.5L599.8 743.2L599.3 742.7L591.8 735.7L588 733.9L576.7 731.5L565.3 732.4L554 735.4L553.6 735.7L542.7 742.9L541.6 743.2L531.3 745L521 743.2L520 742.7L512.4 735.7L509.3 728.2L509.1 720.7L508.7 720.3L503.6 713.2L497.8 705.7L508.7 700L519.6 705.7L520 706L520.7 705.7L531.3 698.7L532 698.2L542.7 691.2L543.3 690.7L554 687.4L565.3 683.5L566 683.2L576.7 676.2L577.1 675.8L577.1 668.3L576.7 667.8L571.6 660.8L568.1 653.3L565.8 645.8L565.3 645.5L554 641.6L542.7 641.6L532 638.3L531.3 638L520 636.5L509.1 630.8L508.7 630.5L497.8 623.3L497.3 622.9L489.8 615.8L486 613.3L478.4 608.3L474.7 605.9L464 600.9L463.3 600.4L452.7 593.4L452 592.7L440.7 592.9L429.3 590.9L418 590L406.7 590.9L395.3 592.9L384 593.1L383.3 593.4L372.7 600.4L372.2 600.9L372.7 601.3L383.3 608.3L384 608.8L391.6 615.8L384 619.2L373.3 615.8L372.7 615.4L372 615.8L361.3 622.9L360.7 623.3L357.6 630.8L350 635.8L338.7 638L338.2 638.3L338.7 638.7L346.2 645.8L350 648.3L360.7 653.3L361.3 653.6L372.7 657.4L383.3 660.8L384 661.1L395.3 663.3L406.7 663.3L417.3 668.3L418 668.6L429.3 670.8L440 675.8L440.7 676.2L451.3 683.2L452 683.7L462.7 690.7L463.3 691.2L474 698.2L463.3 705.3L452 705.4L451.3 705.7L440.7 712.8L429.3 712.9L428.9 713.2L429.3 713.6L440 720.7L440 728.2L429.3 735.2L428.7 735.7L418 739L406.7 738.2L396.4 735.7L395.3 735.4L384 733.9L372.7 732.4L366.4 735.7L361.3 742.7L360.7 743.2L360.9 750.7L361.3 750.9L362 750.7L372.7 745.7L384 745L392.6 750.7L394.9 758.1L395.3 758.4L406.2 765.6L406.7 766.1L407.3 765.6L418 760.6L428.7 765.6L429.3 766.1L440 773.1L440 780.6L429.3 787.7ZM497.3 740.7L486.7 735.7L497.3 728.6L504.9 735.7ZM508 578.4L508.7 578.7L520 578.7L531.3 578.8L542.7 578.8L543.3 578.4L554 575.1L565.3 571.2L565.8 570.9L565.3 570.5L557.8 563.4L554 560.1L551.2 555.9L554 549.1L554.4 548.4L565.3 541.2L576.7 541.2L577.1 540.9L577.1 533.4L576.7 533L566 526L565.3 525.7L554 523.5L546.4 518.5L542.7 516L535.1 511L535.1 503.5L542.7 500.2L549 496L554 488.9L554.4 488.5L565.3 482.8L569.1 481L576.7 476L588 473.8L588.7 473.5L593 466L593 458.5L599.3 451.7L600 451.1L599.3 450.8L588 449.2L576.7 446.2L572.7 443.6L565.8 436.1L569.1 428.6L565.3 426.1L557.8 421.1L554 418.6L542.7 418.6L531.3 418.6L523.8 413.6L520.4 406.1L520.4 398.6L523.8 391.1L531.3 386.1L542.7 383.9L554 384.1L554.4 383.6L565.3 376.4L566 376.2L576.7 369.1L577.3 368.7L577.1 361.2L576.7 360.9L565.8 353.7L566 346.2L571.6 338.7L576.7 331.7L577.1 331.2L576.7 330.8L569.1 323.7L565.3 321.2L554.7 316.2L554.7 308.7L565.3 301.7L566 301.3L576.7 296.3L588 294.1L599.3 294.1L600 293.8L599.3 293.5L588 293.5L576.7 291.9L565.8 286.3L565.3 286L554 283.8L543.3 278.8L542.7 278.5L531.3 277L520.4 271.3L520 271L509.1 263.8L511.4 256.3L509.1 248.8L508.7 248.5L497.8 241.3L497.3 241L486 236.4L482.1 233.8L486 228.8L488.7 226.4L497.3 219.1L497.8 218.9L501.1 211.4L508.7 206.4L512.4 203.9L520 198.9L531.3 196.7L542.7 196.7L543.1 196.4L546.4 188.9L554 181.9L554.4 181.4L565.3 174.2L566 173.9L576.7 166.9L577.3 166.4L576.7 166L565.3 165.7L555 158.9L554 158.5L542.7 158.5L531.3 158.5L520 156.4L508.7 156.4L503.6 151.5L497.8 144L497.8 136.5L498 129L498.4 121.5L498.4 114L497.3 114L490.9 114L490.9 121.5L486 124.7L483.6 129L486 133.3L490.9 136.5L495.8 144L497.3 145.5L502.1 151.5L508.7 158L520 158L524.9 158.9L531.3 160L542.7 160.5L554 163.2L558.9 166.4L558.9 173.9L554 177.1L551.6 181.4L544.1 188.9L542.7 192.1L531.3 194.8L524.9 196.4L520 197.3L510.1 203.9L508.7 204.8L498.8 211.4L497.3 214.6L494.9 218.9L487 226.4L486 227.3L480.8 233.8L486 237.3L495.8 241.3L497.3 242.4L507.1 248.8L508.7 253.1L509.7 256.3L508.7 259.5L507.1 263.8L508.7 265.4L517.6 271.3L520 272.9L531.3 278.1L536.2 278.8L540.3 286.3L542.7 290.6L547.5 293.8L554 298L558.9 301.3L554 304.5L551.6 308.7L552.4 316.2L554 317.3L565.3 322.8L566.8 323.7L575.1 331.2L570.1 338.7L565.3 344.6L558.9 346.2L558.9 353.7L565.3 354.7L575.1 361.2L574.3 368.7L565.3 374.6L558.9 376.2L554 379.4L542.7 382.1L536.2 383.6L531.3 384.6L521.4 391.1L520 394.3L517.6 398.6L518.4 406.1L520 410.4L521.4 413.6L531.3 420.2L542.7 420.2L554 420.2L555.4 421.1L565.3 427.6L566.8 428.6L565.3 431.8L564.2 436.1L565.3 437.1L571.5 443.6L576.7 447L588 450.4L592.9 451.1L589.9 458.5L589.9 466L588 469.2L581.5 473.5L576.7 474.5L566.8 481L565.3 481.7L554 486.9L552.4 488.5L547.4 496L542.7 499.1L532.8 503.5L532.8 511L542.7 517.5L544.1 518.5L554 525L558.9 526L565.3 530.2L570.2 533.4L565.3 536.7L558.9 540.9L554 544.1L551.6 548.4L549.8 555.9L554 562.2L555.4 563.4L562.9 570.9L554 574L542.7 577.6L531.3 577.4L520 576.8L508.7 574.1L497.3 571.8L486 572.1L474.7 571.8L463.3 571.8L461.4 570.9L452 564.7L450.6 563.4L440.7 556.9L439.2 555.9L430.9 548.4L429.3 544.1L424.5 540.9L418 536.7L406.7 534.1L405.2 533.4L395.3 526.9L390.5 526L395.3 522.7L406.7 522.7L411.5 526L418 530.2L429.3 530.2L435.8 526L440.7 522.7L447.1 518.5L447.1 511L452 507.8L454.4 503.5L453.6 496L452 494.4L443.1 488.5L443.1 481L447.1 473.5L452 470.3L454.4 466L452 461.8L450.6 458.5L440.7 452L439.2 451.1L429.3 444.5L424.5 443.6L418 443L406.7 439.2L397.7 436.1L395.3 435.3L384 432.7L372.7 429.3L371.2 428.6L361.3 425.2L351.6 421.1L350 420.1L338.7 414.3L337.6 413.6L328.9 406.1L327.3 401.8L326.3 398.6L317.6 391.1L316 386.9L315 383.6L316 382.7L325.9 376.2L327.3 375.5L338.7 372.1L348.6 368.7L350 368L361.3 366.2L372.7 366.2L383 361.2L382.6 353.7L382.6 346.2L384 343L395.3 343L401.8 338.7L406.7 335.5L411.5 338.7L418 343L424.5 338.7L427.4 331.2L418 325L413.1 323.7L406.7 319.4L404.8 316.2L405.2 308.7L401.8 301.3L395.3 297L393.9 293.8L384 289.4L379.3 286.3L372.7 281.9L367.9 278.8L361.3 274.4L356.6 271.3L351.1 263.8L356.5 256.3L361.3 255.6L372.7 255.4L382.6 248.8L384 247.9L393.9 241.3L395.3 240.4L405.2 233.8L406.7 232.6L416.1 226.4L418 223.1L424.5 218.9L429.3 215.7L435.8 211.4L435.8 203.9L435.8 196.4L438.8 188.9L435.8 181.4L429.3 177.1L427.9 173.9L418 167.4L406.7 167.4L405.6 166.4L406.7 163.2L418 163.2L424.5 158.9L428.3 151.5L427.9 144L420.4 136.5L418 132.2L416.6 129L418 125.8L424.5 121.5L429.3 120.2L440.7 118.3L452 115.6L458.5 114L452 114L440.7 114L439.6 114L429.3 118.2L418 121L417.6 121.5L414.2 129L406.7 136L406.2 136.5L406.7 136.8L418 136.9L425.6 144L426.6 151.5L418 158.7L406.7 158.7L406.2 158.9L403.9 166.4L406.7 168.9L418 168.9L425.6 173.9L428.7 181.4L429.3 182.1L435.6 188.9L429.3 195.7L418 195.7L407.7 188.9L406.7 188.6L405.6 188.9L406 196.4L406.7 197.1L418 197.1L428.3 203.9L428.3 211.4L418 218.2L406.7 218.6L406.2 218.9L406.7 219.5L413 226.4L406.7 230.5L402.9 233.8L395.3 238.8L391.6 241.3L384 246.3L380.2 248.8L372.7 253.8L361.3 254.5L350 256L349.6 256.3L349.6 263.8L350 264.2L355 271.3L361.3 275.5L366.4 278.8L372.7 282.9L377.7 286.3L384 290.4L391.6 293.8L394.9 301.3L395.3 301.7L402.9 308.7L401.6 316.2L406 323.7L406 331.2L395.3 338.3L384 338.4L383 338.7L380.2 346.2L380.2 353.7L381.3 361.2L372.7 365.3L361.3 365.3L350 366.8L346.2 368.7L338.7 371.3L327.3 374.3L323.6 376.2L316 381.1L313.3 383.6L315.6 391.1L316 391.4L324.6 398.6L326.9 406.1L327.3 406.4L335.9 413.6L338.7 415.4L349.6 421.1L350 421.4L361.3 426L368.9 428.6L372.7 430.4L384 433.5L394.7 436.1L395.3 436.4L406.7 440.2L417.3 443.6L418 443.9L429.3 446.1L436.9 451.1L440.7 453.6L448.2 458.5L451.6 466L440.7 473.2L440 473.5L440 481L440.2 488.5L440.7 488.8L451.6 496L451.3 503.5L440.7 510.5L440 511L440 518.5L429.3 525.5L418 525.5L407.3 518.5L406.7 518.2L395.3 518.2L394.3 518.5L384 525.3L383.3 526L384 526.2L395.3 528.5L402.9 533.4L406.7 535.3L417.6 540.9L418 541.4L428.7 548.4L429.3 548.9L436.9 555.9L440.7 558.4L448.2 563.4L452 566.7L458.3 570.9L463.3 573.4L474.7 573.4L486 574.2L497.3 573.4ZM565.3 297L560.5 293.8L565.3 290.6L576.7 293.1L581.5 293.8L576.7 294.7ZM554 289.5L549.1 286.3L554 285.3L558.9 286.3ZM418 338L407.7 331.2L418 327.1L424.3 331.2ZM479.5 540.9L486 542.5L492.5 540.9L497.3 537.7L499.7 533.4L499.7 526L497.3 521.7L490.9 526L486 526.9L474.7 529.2L468.2 533.4L474.7 537.7ZM486 540.5L475.3 533.4L486 528.5L496.7 533.4ZM438.3 383.6L440.7 384.7L447.1 383.6L447.1 376.2L440.7 374.6L434.2 376.2ZM415.6 263.8L418 265.4L429.3 270.6L439.6 263.8L429.3 257L418 262.2ZM429.3 269.5L418.4 263.8L429.3 258.1L437.9 263.8ZM426.9 248.8L429.3 253.1L431.7 248.8L429.3 247.2ZM445.5 196.4L452 198L463.3 202.9L473.3 196.4L474.7 195.5L484.6 188.9L486 188.2L496.3 181.4L486 174.6L481.1 173.9L474.7 172.3L463.3 167.1L458.5 166.4L452 165.4L449.6 166.4L445.5 173.9L445.5 181.4L452 185.7L453 188.9L452 192.1ZM463.3 201.4L452.7 196.4L454.7 188.9L452.4 181.4L452.4 173.9L463.3 168.2L474.2 173.9L474.7 174.4L486 175.7L494.6 181.4L486 187.1L482.2 188.9L474.7 193.9L470.9 196.4Z"/>
<path fill="#0a28d2" stroke="#0a28d2" stroke-width="0.6" fill-rule="evenodd" d="M447.1 795.6L452 795.6L463.3 795.6L465.2 795.6L465.2 788.1L464.4 780.6L463.3 779.4L453.9 773.1L452 772.4L440.7 769.6L434.7 765.6L429.3 763.3L419 758.1L418 756.9L408.6 750.7L406.7 749.4L395.3 749.4L385.9 743.2L395.3 739.2L406.7 740.7L418 741.1L429.3 738L440.7 736.4L452 736.4L463.3 736.4L474.7 736.4L485 743.2L486 743.9L497.3 744.4L499.2 743.2L508.7 736.9L514.6 743.2L520 745.5L531.3 746.9L542.7 745.5L554 743.9L565.3 744.4L571.3 750.7L565.3 752.3L554 755.8L548.6 758.1L542.7 764.4L541.6 765.6L539.1 773.1L531.3 778.3L527.8 780.6L524.9 788.1L520 793.3L514.6 795.6L517.6 795.6L520 794.6L526.2 788.1L529.8 780.6L531.3 779.6L541.1 773.1L542.7 768.8L543.7 765.6L551.6 758.1L554 757.1L565.3 753.2L574.3 750.7L576.7 746.4L588 744.1L592.9 743.2L589.4 735.7L588 735L576.7 732.6L565.3 733.2L556.4 735.7L554 740L549.1 743.2L542.7 744.2L531.3 746L520 744.2L517.6 743.2L510.1 735.7L508.7 732.5L507.3 735.7L497.3 742.2L486 740L479.5 735.7L486 734.1L494.9 728.2L497.3 727.4L507.5 720.7L502.1 713.2L497.3 707.3L490.9 705.7L497.3 701.4L508.7 698.9L520 704.1L528.9 698.2L531.3 696.7L540.3 690.7L542.7 686.5L554 686.4L562.9 683.2L565.3 681.7L574.3 675.8L575.1 668.3L570.1 660.8L566.4 653.3L565.3 650.1L562.9 645.8L554 642.7L542.7 642.7L531.3 639.9L524.9 638.3L520 637.6L508.7 631.9L507.1 630.8L497.3 624.4L495.8 623.3L487.4 615.8L486 614.9L476.1 608.3L474.7 607.4L463.3 601.9L460.9 600.9L452 594.9L440.7 597.6L434.2 593.4L429.3 592.4L418 592.1L406.7 592.4L401.8 593.4L395.3 597.6L390.5 600.9L390.5 608.3L393.9 615.8L384 620.2L372.7 620.1L367.8 623.3L361.3 627.6L359.9 630.8L350 637.4L345.1 638.3L348.6 645.8L350 646.7L361.3 649L363.7 653.3L372.7 656.4L384 659.2L390.5 660.8L395.3 661.7L406.7 661.7L418 667.2L424.5 668.3L429.3 669.2L440.7 674.2L447.1 675.8L452 679L454.4 683.2L463.3 689.2L469.8 690.7L474.7 693.9L481.1 698.2L474.7 702.5L469.8 705.7L463.3 707.3L452 710L447.1 713.2L452 716.4L458.5 720.7L458.5 728.2L452 732.5L440.7 732.5L435.8 735.7L429.3 736.7L418 740L406.7 739.4L395.3 737.3L388.9 735.7L384 735L372.7 733.2L367.9 735.7L367.8 743.2L372.7 744.1L384 743.9L394.3 750.7L395.3 753.9L401.8 758.1L406.7 761.4L418 759.1L429.3 764.6L431.7 765.6L440.7 771.6L447.1 773.1L452 776.3L458.5 780.6L458.5 788.1L452 792.4ZM474.7 734.4L465.2 728.2L464.4 720.7L463.3 719.5L453.9 713.2L463.3 709.3L474.7 706.4L486 706.4L497.3 709.3L500.5 713.2L506.1 720.7L497.3 726.5L492 728.2L486 732.1ZM565.3 741.9L559.4 735.7L565.3 734L576.7 733.6L586.1 735.7L576.7 741.9ZM520 702.2L510.6 698.2L508.7 697L499.2 690.7L497.3 689.5L495.4 690.7L486 697L476.6 690.7L474.7 689.5L463.3 687.2L457.4 683.2L453 675.8L452 675.1L440.7 672.2L431.2 668.3L429.3 667.6L418 665.9L407.7 660.8L406.7 660.1L395.3 659.5L384 657.2L372.7 655.4L366.7 653.3L372.7 647L374.6 645.8L372.7 644.5L363.2 638.3L362.4 630.8L372.7 624L374.6 623.3L384 621.2L395.3 616.5L396.4 615.8L396.4 608.3L406.7 601.5L418 601.5L428.3 608.3L427.4 615.8L427.4 623.3L429.3 623.7L430.4 623.3L440.7 616.5L442.6 615.8L441.7 608.3L442.6 600.9L452 596.9L458 600.9L463.3 603.2L473.6 608.3L474.7 609L485 615.8L486 616.5L493.8 623.3L497.3 625.7L505.1 630.8L508.7 633.1L519 638.3L520 639L531.3 641.9L542.7 643.7L554 643.7L560 645.8L564.3 653.3L565.3 654.5L568.5 660.8L573.1 668.3L571.3 675.8L565.3 679.7L560 683.2L554 685.3L544.6 683.2L542.7 682.8L541.6 683.2L537.3 690.7L531.3 694.7L526 698.2ZM372.7 741.9L369.5 735.7L372.7 734L382.1 735.7ZM495.4 795.6L497.3 795.6L499.2 795.6L499.2 788.1L497.3 786.9L496.3 788.1ZM461.4 570.9L463.3 571.8L474.7 571.8L486 572.1L497.3 571.8L508.7 574.1L520 576.8L531.3 577.4L542.7 577.6L554 574L562.9 570.9L555.4 563.4L554 562.2L549.8 555.9L551.6 548.4L554 544.1L558.9 540.9L565.3 536.7L570.2 533.4L565.3 530.2L558.9 526L554 525L544.1 518.5L542.7 517.5L532.8 511L532.8 503.5L542.7 499.1L547.4 496L552.4 488.5L554 486.9L565.3 481.7L566.8 481L576.7 474.5L581.5 473.5L588 469.2L589.9 466L589.9 458.5L592.9 451.1L588 450.4L576.7 447L571.5 443.6L565.3 437.1L564.2 436.1L565.3 431.8L566.8 428.6L565.3 427.6L555.4 421.1L554 420.2L542.7 420.2L531.3 420.2L521.4 413.6L520 410.4L518.4 406.1L517.6 398.6L520 394.3L521.4 391.1L531.3 384.6L536.2 383.6L542.7 382.1L554 379.4L558.9 376.2L565.3 374.6L574.3 368.7L575.1 361.2L565.3 354.7L558.9 353.7L558.9 346.2L565.3 344.6L570.1 338.7L575.1 331.2L566.8 323.7L565.3 322.8L554 317.3L552.4 316.2L551.6 308.7L554 304.5L558.9 301.3L554 298L547.5 293.8L542.7 290.6L540.3 286.3L536.2 278.8L531.3 278.1L520 272.9L517.6 271.3L508.7 265.4L507.1 263.8L508.7 259.5L509.7 256.3L508.7 253.1L507.1 248.8L497.3 242.4L495.8 241.3L486 237.3L480.8 233.8L486 227.3L487 226.4L494.9 218.9L497.3 214.6L498.8 211.4L508.7 204.8L510.1 203.9L520 197.3L524.9 196.4L531.3 194.8L542.7 192.1L544.1 188.9L551.6 181.4L554 177.1L558.9 173.9L558.9 166.4L554 163.2L542.7 160.5L531.3 160L524.9 158.9L520 158L508.7 158L502.1 151.5L497.3 145.5L495.8 144L490.9 136.5L486 133.3L483.6 129L486 124.7L490.9 121.5L490.9 114L486 114L484.1 114L485 121.5L480.6 129L484.1 136.5L486 137.2L493.8 144L497.3 147.5L500.5 151.5L506.8 158.9L508.7 159.6L520 159.6L531.3 161.3L542.7 162.5L552.1 166.4L552.1 173.9L548.6 181.4L542.7 187.7L540.8 188.9L531.3 192.8L520 195.1L508.7 195.1L499.2 188.9L498.4 181.4L497.3 180.2L487.9 173.9L486 173.2L474.7 170.4L465.2 166.4L463.3 166L452 164.1L446.6 166.4L440.7 172.7L429.3 172.7L419.9 166.4L429.3 160.2L431.2 158.9L431.2 151.5L430.4 144L429.3 142.7L423.4 136.5L419 129L429.3 122.2L440.7 122.2L442.6 121.5L452 117.5L463.3 114.7L465.2 114L463.3 114L458.5 114L452 115.6L440.7 118.3L429.3 120.2L424.5 121.5L418 125.8L416.6 129L418 132.2L420.4 136.5L427.9 144L428.3 151.5L424.5 158.9L418 163.2L406.7 163.2L405.6 166.4L406.7 167.4L418 167.4L427.9 173.9L429.3 177.1L435.8 181.4L438.8 188.9L435.8 196.4L435.8 203.9L435.8 211.4L429.3 215.7L424.5 218.9L418 223.1L416.1 226.4L406.7 232.6L405.2 233.8L395.3 240.4L393.9 241.3L384 247.9L382.6 248.8L372.7 255.4L361.3 255.6L356.5 256.3L351.1 263.8L356.6 271.3L361.3 274.4L367.9 278.8L372.7 281.9L379.3 286.3L384 289.4L393.9 293.8L395.3 297L401.8 301.3L405.2 308.7L404.8 316.2L406.7 319.4L413.1 323.7L418 325L427.4 331.2L424.5 338.7L418 343L411.5 338.7L406.7 335.5L401.8 338.7L395.3 343L384 343L382.6 346.2L382.6 353.7L383 361.2L372.7 366.2L361.3 366.2L350 368L348.6 368.7L338.7 372.1L327.3 375.5L325.9 376.2L316 382.7L315 383.6L316 386.9L317.6 391.1L326.3 398.6L327.3 401.8L328.9 406.1L337.6 413.6L338.7 414.3L350 420.1L351.6 421.1L361.3 425.2L371.2 428.6L372.7 429.3L384 432.7L395.3 435.3L397.7 436.1L406.7 439.2L418 443L424.5 443.6L429.3 444.5L439.2 451.1L440.7 452L450.6 458.5L452 461.8L454.4 466L452 470.3L447.1 473.5L443.1 481L443.1 488.5L452 494.4L453.6 496L454.4 503.5L452 507.8L447.1 511L447.1 518.5L440.7 522.7L435.8 526L429.3 530.2L418 530.2L411.5 526L406.7 522.7L395.3 522.7L390.5 526L395.3 526.9L405.2 533.4L406.7 534.1L418 536.7L424.5 540.9L429.3 544.1L430.9 548.4L439.2 555.9L440.7 556.9L450.6 563.4L452 564.7ZM520 574.8L510.6 570.9L508.7 569.6L497.3 570.2L486 569.6L474.7 570.2L463.3 570.2L453 563.4L452 563L441.4 555.9L440.7 555.2L432.9 548.4L430.4 540.9L430.4 533.4L440.7 526.6L452 526.6L462.3 533.4L463.3 534.7L472.8 540.9L474.7 542.2L486 544.5L497.3 541.6L499.2 540.9L502.7 533.4L502.7 526L499.2 518.5L497.3 517.8L495.4 518.5L486 524.7L474.7 524.7L465.2 518.5L463.3 517.2L453.9 511L457.4 503.5L455.5 496L452 492.4L446 488.5L446 481L452 474.8L453 473.5L457.4 466L453 458.5L452 457.9L441.7 451.1L441.4 443.6L440.7 443.3L429.3 443.2L418 442.3L406.7 438.2L400.7 436.1L395.3 434.4L384 431.8L373.7 428.6L372.7 428.1L361.3 424.4L353.5 421.1L350 418.8L339.7 413.6L338.7 412.9L330.9 406.1L328.4 398.6L327.3 397.9L319.5 391.1L317 383.6L327.3 376.8L328.4 376.2L338.7 372.9L350 369.3L351.9 368.7L361.3 367L372.7 367L384 362.4L385.9 361.2L385.9 353.7L395.3 347.4L406.7 346.9L418 346.9L419.9 346.2L429.3 340L431.2 338.7L430.4 331.2L429.3 330.5L419 323.7L418 322.5L408.6 316.2L407.7 308.7L407.4 301.3L406.7 300.6L396.4 293.8L395.3 293.1L384 288.4L380.9 286.3L372.7 280.9L369.5 278.8L361.3 273.4L358.2 271.3L352.5 263.8L361.3 256.8L372.7 256.6L374.6 256.3L384 250.1L385.9 248.8L395.3 242.6L396.4 241.3L406.7 234.5L408.6 233.8L418 227.6L419 226.4L429.3 219.5L440.7 219.5L441.7 218.9L441.2 211.4L442.6 203.9L452 199.9L461.4 203.9L463.3 204.6L464.4 203.9L474.7 197.1L476.6 196.4L486 190.1L495.4 196.4L497.3 197.6L506.8 203.9L497.3 210.1L495.4 211.4L492 218.9L486 225.1L485 226.4L479.6 233.8L486 238.1L493.8 241.3L497.3 243.7L505.1 248.8L507.6 256.3L505.1 263.8L508.7 267.4L514.6 271.3L520 274.8L529.4 278.8L531.3 280L537.3 286.3L540.8 293.8L541.6 301.3L542.7 302.5L548.6 308.7L550.5 316.2L554 318.6L564.3 323.7L565.3 324.4L573.1 331.2L568.5 338.7L565.3 342.6L554 345.7L552.1 346.2L552.1 353.7L554 354.1L565.3 356L573.1 361.2L571.3 368.7L565.3 372.6L554 375.5L552.1 376.2L542.7 380.1L531.3 383L529.4 383.6L520 389.9L519 391.1L514.6 398.6L516.5 406.1L519 413.6L520 414.9L529.4 421.1L531.3 421.5L542.7 421.5L554 421.8L564.3 428.6L562.8 436.1L565.3 438.4L570.3 443.6L576.7 447.8L587 451.1L587.3 458.5L587 466L576.7 472.8L574.8 473.5L565.3 479.8L563.4 481L554 485L550.5 488.5L545.8 496L542.7 498.1L531.3 502.8L530.3 503.5L529.4 511L529.4 518.5L529.4 526L531.3 526.6L541.6 533.4L542.7 534.7L552.1 540.9L548.6 548.4L548.3 555.9L553.3 563.4L554 564.7L560 570.9L554 573L542.7 576.7L531.3 576.1ZM486 542.5L479.5 540.9L474.7 537.7L468.2 533.4L474.7 529.2L486 526.9L490.9 526L497.3 521.7L499.7 526L499.7 533.4L497.3 537.7L492.5 540.9ZM452 198L445.5 196.4L452 192.1L453 188.9L452 185.7L445.5 181.4L445.5 173.9L449.6 166.4L452 165.4L458.5 166.4L463.3 167.1L474.7 172.3L481.1 173.9L486 174.6L496.3 181.4L486 188.2L484.6 188.9L474.7 195.5L473.3 196.4L463.3 202.9ZM435.3 383.6L440.7 386L452 384.3L453.9 383.6L463.3 377.4L465.2 376.2L463.3 375.5L452 374.9L440.7 372.6L431.2 368.7L429.3 368L427.4 368.7L427.4 376.2L429.3 377.4ZM440.7 384.7L438.3 383.6L434.2 376.2L440.7 374.6L447.1 376.2L447.1 383.6ZM472.8 383.6L474.7 384.3L476.6 383.6L474.7 382.4ZM560.5 293.8L565.3 297L576.7 294.7L581.5 293.8L576.7 293.1L565.3 290.6ZM549.1 286.3L554 289.5L558.9 286.3L554 285.3ZM427.4 271.3L429.3 271.7L440.7 271.7L441.7 271.3L441.4 263.8L440.7 262.6L431.2 256.3L434.7 248.8L429.3 245.3L424 248.8L427.4 256.3L418 260.3L412.6 263.8L418 267.4ZM418 265.4L415.6 263.8L418 262.2L429.3 257L439.6 263.8L429.3 270.6ZM429.3 253.1L426.9 248.8L429.3 247.2L431.7 248.8ZM461.4 129L463.3 130.2L465.2 129L463.3 128.3Z"/>
<path fill="#0a50a5" stroke="#0a50a5" stroke-width="0.6" fill-rule="evenodd" d="M465.2 795.6L469.9 795.6L469.9 788.1L466.9 780.6L463.3 776.3L458.6 773.1L452 770.7L440.7 767.6L437.7 765.6L429.3 762L421.6 758.1L418 753.8L413.3 750.7L406.7 746.3L395.3 746.3L390.6 743.2L395.3 741.2L406.7 741.9L418 742.1L429.3 739.3L440.7 738.1L452 738.1L463.3 738.1L474.7 738.1L482.4 743.2L486 745.6L497.3 747.5L503.9 743.2L508.7 740L511.6 743.2L520 746.8L531.3 747.9L542.7 746.8L554 745.6L565.3 747.5L568.3 750.7L565.3 751.5L554 754.5L545.6 758.1L542.7 761.3L539.1 765.6L537.2 773.1L531.3 777L525.9 780.6L523.7 788.1L520 792L511.6 795.6L514.6 795.6L520 793.3L524.9 788.1L527.8 780.6L531.3 778.3L539.1 773.1L541.6 765.6L542.7 764.4L548.6 758.1L554 755.8L565.3 752.3L571.3 750.7L565.3 744.4L554 743.9L542.7 745.5L531.3 746.9L520 745.5L514.6 743.2L508.7 736.9L499.2 743.2L497.3 744.4L486 743.9L485 743.2L474.7 736.4L463.3 736.4L452 736.4L440.7 736.4L429.3 738L418 741.1L406.7 740.7L395.3 739.2L385.9 743.2L395.3 749.4L406.7 749.4L408.6 750.7L418 756.9L419 758.1L429.3 763.3L434.7 765.6L440.7 769.6L452 772.4L453.9 773.1L463.3 779.4L464.4 780.6L465.2 788.1ZM490.7 795.6L495.4 795.6L496.3 788.1L497.3 786.9L499.2 788.1L499.2 795.6L503.9 795.6L503.9 788.1L497.3 783.7L493.7 788.1ZM369.5 735.7L372.7 741.9L382.1 735.7L372.7 734ZM372.7 738.8L371.1 735.7L372.7 734.8L377.4 735.7ZM559.4 735.7L565.3 741.9L576.7 741.9L586.1 735.7L576.7 733.6L565.3 734ZM565.3 738.8L562.4 735.7L565.3 734.8L576.7 734.6L581.4 735.7L576.7 738.8ZM465.2 728.2L474.7 734.4L486 732.1L492 728.2L497.3 726.5L506.1 720.7L500.5 713.2L497.3 709.3L486 706.4L474.7 706.4L463.3 709.3L453.9 713.2L463.3 719.5L464.4 720.7ZM474.7 731.3L469.9 728.2L466.9 720.7L463.3 716.3L458.6 713.2L463.3 711.2L474.7 708.1L486 708.1L497.3 711.2L498.9 713.2L504.7 720.7L497.3 725.6L489 728.2L486 730.2ZM510.6 698.2L520 702.2L526 698.2L531.3 694.7L537.3 690.7L541.6 683.2L542.7 682.8L544.6 683.2L554 685.3L560 683.2L565.3 679.7L571.3 675.8L573.1 668.3L568.5 660.8L565.3 654.5L564.3 653.3L560 645.8L554 643.7L542.7 643.7L531.3 641.9L520 639L519 638.3L508.7 633.1L505.1 630.8L497.3 625.7L493.8 623.3L486 616.5L485 615.8L474.7 609L473.6 608.3L463.3 603.2L458 600.9L452 596.9L442.6 600.9L441.7 608.3L442.6 615.8L440.7 616.5L430.4 623.3L429.3 623.7L427.4 623.3L427.4 615.8L428.3 608.3L418 601.5L406.7 601.5L396.4 608.3L396.4 615.8L395.3 616.5L384 621.2L374.6 623.3L372.7 624L362.4 630.8L363.2 638.3L372.7 644.5L374.6 645.8L372.7 647L366.7 653.3L372.7 655.4L384 657.2L395.3 659.5L406.7 660.1L407.7 660.8L418 665.9L429.3 667.6L431.2 668.3L440.7 672.2L452 675.1L453 675.8L457.4 683.2L463.3 687.2L474.7 689.5L476.6 690.7L486 697L495.4 690.7L497.3 689.5L499.2 690.7L508.7 697ZM520 700.2L515.3 698.2L508.7 693.9L503.9 690.7L497.3 686.4L490.7 690.7L486 693.9L481.3 690.7L474.7 686.4L463.3 685.2L460.4 683.2L455.6 675.8L452 673.4L440.7 670.2L435.9 668.3L429.3 665.9L418 664.7L410.3 660.8L406.7 658.4L395.3 656.4L384 655.3L372.7 654.3L369.7 653.3L372.7 650.2L379.3 645.8L372.7 641.4L367.9 638.3L364.9 630.8L372.7 625.7L379.3 623.3L384 622.3L395.3 618.2L398.9 615.8L398.9 608.3L406.7 603.2L418 603.2L425.7 608.3L422.7 615.8L422.7 623.3L429.3 624.5L432.9 623.3L440.7 618.2L447.3 615.8L444.3 608.3L447.3 600.9L452 598.9L455 600.9L463.3 604.5L471.1 608.3L474.7 610.7L482.4 615.8L486 618.2L491.9 623.3L497.3 626.9L503.2 630.8L508.7 634.4L516.4 638.3L520 640.7L531.3 643.8L542.7 644.8L554 644.8L557 645.8L561.7 653.3L565.3 657.7L566.9 660.8L571.2 668.3L568.3 675.8L565.3 677.7L557 683.2L554 684.3L549.3 683.2L542.7 681.7L539.1 683.2L534.3 690.7L531.3 692.7L523 698.2ZM510.6 570.9L520 574.8L531.3 576.1L542.7 576.7L554 573L560 570.9L554 564.7L553.3 563.4L548.3 555.9L548.6 548.4L552.1 540.9L542.7 534.7L541.6 533.4L531.3 526.6L529.4 526L529.4 518.5L529.4 511L530.3 503.5L531.3 502.8L542.7 498.1L545.8 496L550.5 488.5L554 485L563.4 481L565.3 479.8L574.8 473.5L576.7 472.8L587 466L587.3 458.5L587 451.1L576.7 447.8L570.3 443.6L565.3 438.4L562.8 436.1L564.3 428.6L554 421.8L542.7 421.5L531.3 421.5L529.4 421.1L520 414.9L519 413.6L516.5 406.1L514.6 398.6L519 391.1L520 389.9L529.4 383.6L531.3 383L542.7 380.1L552.1 376.2L554 375.5L565.3 372.6L571.3 368.7L573.1 361.2L565.3 356L554 354.1L552.1 353.7L552.1 346.2L554 345.7L565.3 342.6L568.5 338.7L573.1 331.2L565.3 324.4L564.3 323.7L554 318.6L550.5 316.2L548.6 308.7L542.7 302.5L541.6 301.3L540.8 293.8L537.3 286.3L531.3 280L529.4 278.8L520 274.8L514.6 271.3L508.7 267.4L505.1 263.8L507.6 256.3L505.1 248.8L497.3 243.7L493.8 241.3L486 238.1L479.6 233.8L485 226.4L486 225.1L492 218.9L495.4 211.4L497.3 210.1L506.8 203.9L497.3 197.6L495.4 196.4L486 190.1L476.6 196.4L474.7 197.1L464.4 203.9L463.3 204.6L461.4 203.9L452 199.9L442.6 203.9L441.2 211.4L441.7 218.9L440.7 219.5L429.3 219.5L419 226.4L418 227.6L408.6 233.8L406.7 234.5L396.4 241.3L395.3 242.6L385.9 248.8L384 250.1L374.6 256.3L372.7 256.6L361.3 256.8L352.5 263.8L358.2 271.3L361.3 273.4L369.5 278.8L372.7 280.9L380.9 286.3L384 288.4L395.3 293.1L396.4 293.8L406.7 300.6L407.4 301.3L407.7 308.7L408.6 316.2L418 322.5L419 323.7L429.3 330.5L430.4 331.2L431.2 338.7L429.3 340L419.9 346.2L418 346.9L406.7 346.9L395.3 347.4L385.9 353.7L385.9 361.2L384 362.4L372.7 367L361.3 367L351.9 368.7L350 369.3L338.7 372.9L328.4 376.2L327.3 376.8L317 383.6L319.5 391.1L327.3 397.9L328.4 398.6L330.9 406.1L338.7 412.9L339.7 413.6L350 418.8L353.5 421.1L361.3 424.4L372.7 428.1L373.7 428.6L384 431.8L395.3 434.4L400.7 436.1L406.7 438.2L418 442.3L429.3 443.2L440.7 443.3L441.4 443.6L441.7 451.1L452 457.9L453 458.5L457.4 466L453 473.5L452 474.8L446 481L446 488.5L452 492.4L455.5 496L457.4 503.5L453.9 511L463.3 517.2L465.2 518.5L474.7 524.7L486 524.7L495.4 518.5L497.3 517.8L499.2 518.5L502.7 526L502.7 533.4L499.2 540.9L497.3 541.6L486 544.5L474.7 542.2L472.8 540.9L463.3 534.7L462.3 533.4L452 526.6L440.7 526.6L430.4 533.4L430.4 540.9L432.9 548.4L440.7 555.2L441.4 555.9L452 563L453 563.4L463.3 570.2L474.7 570.2L486 569.6L497.3 570.2L508.7 569.6ZM520 572.9L515.3 570.9L508.7 566.5L497.3 568.5L486 566.5L474.7 568.5L463.3 568.5L455.6 563.4L452 561.8L443.1 555.9L440.7 553.5L434.8 548.4L432.9 540.9L432.9 533.4L440.7 528.3L452 528.3L459.7 533.4L463.3 537.8L468.1 540.9L474.7 545.3L486 546.5L497.3 543.3L503.9 540.9L505.7 533.4L505.7 526L503.9 518.5L497.3 516.1L490.7 518.5L486 521.6L474.7 521.6L469.9 518.5L463.3 514.1L458.6 511L460.4 503.5L457.5 496L452 490.5L449 488.5L449 481L452 477.9L455.6 473.5L460.4 466L455.6 458.5L452 456.2L444.3 451.1L443.1 443.6L440.7 442.6L429.3 442.4L418 441.6L406.7 437.1L403.7 436.1L395.3 433.5L384 431L376.3 428.6L372.7 427L361.3 423.5L355.5 421.1L350 417.5L342.3 413.6L338.7 411.2L332.8 406.1L330.9 398.6L327.3 396.2L321.5 391.1L319.6 383.6L327.3 378.5L330.9 376.2L338.7 373.7L350 371L356.6 368.7L361.3 367.8L372.7 367.8L384 365.5L390.6 361.2L390.6 353.7L395.3 350.6L406.7 348.6L418 348.6L424.6 346.2L429.3 343.1L435.9 338.7L432.9 331.2L429.3 328.8L421.6 323.7L418 319.4L413.3 316.2L410.3 308.7L409.1 301.3L406.7 298.9L398.9 293.8L395.3 291.4L384 287.3L382.4 286.3L372.7 279.8L371.1 278.8L361.3 272.3L359.8 271.3L354 263.8L361.3 257.9L372.7 257.5L379.3 256.3L384 253.2L390.6 248.8L395.3 245.7L398.9 241.3L406.7 236.2L413.3 233.8L418 230.7L421.6 226.4L429.3 221.2L440.7 221.2L444.3 218.9L442.4 211.4L447.3 203.9L452 201.9L456.7 203.9L463.3 206.3L466.9 203.9L474.7 198.8L481.3 196.4L486 193.3L490.7 196.4L497.3 200.8L502.1 203.9L497.3 207L490.7 211.4L489 218.9L486 222L482.4 226.4L478.4 233.8L486 238.9L491.9 241.3L497.3 244.9L503.2 248.8L505.1 256.3L503.2 263.8L508.7 269.3L511.6 271.3L520 276.8L524.7 278.8L531.3 283.2L534.3 286.3L536.1 293.8L539.1 301.3L542.7 305.6L545.6 308.7L548.5 316.2L554 319.8L561.7 323.7L565.3 326.1L571.2 331.2L566.9 338.7L565.3 340.7L554 344.6L547.4 346.2L547.4 353.7L554 355.3L565.3 357.3L571.2 361.2L568.3 368.7L565.3 370.6L554 373.8L547.4 376.2L542.7 378.1L531.3 381.3L524.7 383.6L520 386.8L516.4 391.1L511.6 398.6L514.5 406.1L516.4 413.6L520 418L524.7 421.1L531.3 422.7L542.7 422.7L554 423.5L561.7 428.6L561.4 436.1L565.3 439.7L569 443.6L576.7 448.6L584.4 451.1L585.6 458.5L584.4 466L576.7 471.1L570.1 473.5L565.3 476.6L558.7 481L554 483L548.5 488.5L544.2 496L542.7 497L531.3 501.1L527.7 503.5L524.7 511L524.7 518.5L524.7 526L531.3 528.3L539.1 533.4L542.7 537.8L547.4 540.9L545.6 548.4L546.9 555.9L551.6 563.4L554 567.8L557 570.9L554 571.9L542.7 575.8L531.3 574.8ZM432.3 383.6L440.7 387.3L452 386L458.6 383.6L463.3 380.5L468.1 383.6L474.7 386L481.3 383.6L474.7 379.3L469.9 376.2L463.3 373.8L452 371.8L440.7 370.6L435.9 368.7L429.3 366.3L422.7 368.7L422.7 376.2L429.3 380.5ZM440.7 386L435.3 383.6L429.3 377.4L427.4 376.2L427.4 368.7L429.3 368L431.2 368.7L440.7 372.6L452 374.9L463.3 375.5L465.2 376.2L463.3 377.4L453.9 383.6L452 384.3ZM474.7 384.3L472.8 383.6L474.7 382.4L476.6 383.6ZM422.7 271.3L429.3 272.7L440.7 272.7L444.3 271.3L443.1 263.8L440.7 259.4L435.9 256.3L437.7 248.8L429.3 243.3L421 248.8L422.7 256.3L418 258.3L409.6 263.8L418 269.3ZM429.3 271.7L427.4 271.3L418 267.4L412.6 263.8L418 260.3L427.4 256.3L424 248.8L429.3 245.3L434.7 248.8L431.2 256.3L440.7 262.6L441.4 263.8L441.7 271.3L440.7 271.7ZM499.2 188.9L508.7 195.1L520 195.1L531.3 192.8L540.8 188.9L542.7 187.7L548.6 181.4L552.1 173.9L552.1 166.4L542.7 162.5L531.3 161.3L520 159.6L508.7 159.6L506.8 158.9L500.5 151.5L497.3 147.5L493.8 144L486 137.2L484.1 136.5L480.6 129L485 121.5L484.1 114L479.4 114L482.4 121.5L477.6 129L479.4 136.5L486 138.9L491.9 144L497.3 149.5L498.9 151.5L502.1 158.9L508.7 161.3L520 161.3L531.3 162.6L542.7 164.5L547.4 166.4L547.4 173.9L545.6 181.4L542.7 184.5L536.1 188.9L531.3 190.9L520 192L508.7 192L503.9 188.9L500.9 181.4L497.3 177L492.6 173.9L486 171.5L474.7 168.4L469.9 166.4L463.3 164.8L452 162.8L443.6 166.4L440.7 169.6L429.3 169.6L424.6 166.4L429.3 163.3L435.9 158.9L435.9 151.5L432.9 144L429.3 139.6L426.4 136.5L421.6 129L429.3 123.9L440.7 123.9L447.3 121.5L452 119.5L463.3 116.4L469.9 114L465.2 114L463.3 114.7L452 117.5L442.6 121.5L440.7 122.2L429.3 122.2L419 129L423.4 136.5L429.3 142.7L430.4 144L431.2 151.5L431.2 158.9L429.3 160.2L419.9 166.4L429.3 172.7L440.7 172.7L446.6 166.4L452 164.1L463.3 166L465.2 166.4L474.7 170.4L486 173.2L487.9 173.9L497.3 180.2L498.4 181.4ZM456.7 129L463.3 133.3L469.9 129L463.3 126.6ZM463.3 130.2L461.4 129L463.3 128.3L465.2 129Z"/>
<path fill="#0a6e6e" stroke="#0a6e6e" stroke-width="0.6" fill-rule="evenodd" d="M469.9 795.6L474.7 795.6L486 795.6L490.7 795.6L493.7 788.1L497.3 783.7L503.9 788.1L503.9 795.6L508.7 795.6L511.6 795.6L520 792L523.7 788.1L525.9 780.6L531.3 777L537.2 773.1L539.1 765.6L542.7 761.3L545.6 758.1L554 754.5L565.3 751.5L568.3 750.7L565.3 747.5L554 745.6L542.7 746.8L531.3 747.9L520 746.8L511.6 743.2L508.7 740L503.9 743.2L497.3 747.5L486 745.6L482.4 743.2L474.7 738.1L463.3 738.1L452 738.1L440.7 738.1L429.3 739.3L418 742.1L406.7 741.9L395.3 741.2L390.6 743.2L395.3 746.3L406.7 746.3L413.3 750.7L418 753.8L421.6 758.1L429.3 762L437.7 765.6L440.7 767.6L452 770.7L458.6 773.1L463.3 776.3L466.9 780.6L469.9 788.1ZM486 795.6L474.7 788.1L474.7 788.1L469.5 780.6L463.3 773.1L463.3 773.1L452 769L440.7 765.6L440.7 765.6L429.3 760.7L424.2 758.1L418 750.7L418 743.2L429.3 740.6L440.7 739.8L452 739.8L463.3 739.8L474.7 739.8L479.8 743.2L486 747.3L497.3 750.7L497.3 750.7L508.7 758.1L508.7 758.1L508.7 758.1L508.7 750.7L520 748.1L531.3 748.8L542.7 748.1L554 747.3L565.3 750.7L554 753.2L542.7 758.1L542.7 758.1L536.5 765.6L535.2 773.1L531.3 775.7L523.9 780.6L522.5 788.1L520 790.7L508.7 788.1L508.7 788.1L497.3 780.6L497.3 780.6L497.3 780.6L491.2 788.1ZM371.1 735.7L372.7 738.8L377.4 735.7L372.7 734.8ZM562.4 735.7L565.3 738.8L576.7 738.8L581.4 735.7L576.7 734.6L565.3 734.8ZM469.9 728.2L474.7 731.3L486 730.2L489 728.2L497.3 725.6L504.7 720.7L498.9 713.2L497.3 711.2L486 708.1L474.7 708.1L463.3 711.2L458.6 713.2L463.3 716.3L466.9 720.7ZM474.7 728.2L469.5 720.7L463.3 713.2L474.7 709.8L486 709.8L497.3 713.2L497.3 713.2L503.3 720.7L497.3 724.6L486 728.2ZM515.3 698.2L520 700.2L523 698.2L531.3 692.7L534.3 690.7L539.1 683.2L542.7 681.7L549.3 683.2L554 684.3L557 683.2L565.3 677.7L568.3 675.8L571.2 668.3L566.9 660.8L565.3 657.7L561.7 653.3L557 645.8L554 644.8L542.7 644.8L531.3 643.8L520 640.7L516.4 638.3L508.7 634.4L503.2 630.8L497.3 626.9L491.9 623.3L486 618.2L482.4 615.8L474.7 610.7L471.1 608.3L463.3 604.5L455 600.9L452 598.9L447.3 600.9L444.3 608.3L447.3 615.8L440.7 618.2L432.9 623.3L429.3 624.5L422.7 623.3L422.7 615.8L425.7 608.3L418 603.2L406.7 603.2L398.9 608.3L398.9 615.8L395.3 618.2L384 622.3L379.3 623.3L372.7 625.7L364.9 630.8L367.9 638.3L372.7 641.4L379.3 645.8L372.7 650.2L369.7 653.3L372.7 654.3L384 655.3L395.3 656.4L406.7 658.4L410.3 660.8L418 664.7L429.3 665.9L435.9 668.3L440.7 670.2L452 673.4L455.6 675.8L460.4 683.2L463.3 685.2L474.7 686.4L481.3 690.7L486 693.9L490.7 690.7L497.3 686.4L503.9 690.7L508.7 693.9ZM520 698.2L508.7 690.7L508.7 690.7L497.3 683.2L497.3 683.2L497.3 683.2L486 690.7L474.7 683.2L474.7 683.2L463.3 683.2L458.2 675.8L452 671.7L440.7 668.3L440.7 668.3L429.3 664.2L418 663.4L412.8 660.8L406.7 656.7L395.3 653.3L395.3 653.3L384 645.8L384 645.8L372.7 638.3L372.7 638.3L367.5 630.8L372.7 627.4L384 623.3L384 623.3L395.3 619.9L401.5 615.8L401.5 608.3L406.7 604.9L418 604.9L423.2 608.3L418 615.8L418 615.8L418 623.3L418 623.3L429.3 625.3L435.5 623.3L440.7 619.9L452 615.8L452 615.8L452 615.8L446.8 608.3L452 600.9L463.3 605.8L468.5 608.3L474.7 612.4L479.8 615.8L486 619.9L489.9 623.3L497.3 628.2L501.2 630.8L508.7 635.7L513.8 638.3L520 642.4L531.3 645.8L531.3 645.8L542.7 645.8L554 645.8L559.2 653.3L565.3 660.8L565.3 660.8L569.2 668.3L565.3 675.8L565.3 675.8L554 683.2L542.7 680.5L536.5 683.2L531.3 690.7L531.3 690.7ZM515.3 570.9L520 572.9L531.3 574.8L542.7 575.8L554 571.9L557 570.9L554 567.8L551.6 563.4L546.9 555.9L545.6 548.4L547.4 540.9L542.7 537.8L539.1 533.4L531.3 528.3L524.7 526L524.7 518.5L524.7 511L527.7 503.5L531.3 501.1L542.7 497L544.2 496L548.5 488.5L554 483L558.7 481L565.3 476.6L570.1 473.5L576.7 471.1L584.4 466L585.6 458.5L584.4 451.1L576.7 448.6L569 443.6L565.3 439.7L561.4 436.1L561.7 428.6L554 423.5L542.7 422.7L531.3 422.7L524.7 421.1L520 418L516.4 413.6L514.5 406.1L511.6 398.6L516.4 391.1L520 386.8L524.7 383.6L531.3 381.3L542.7 378.1L547.4 376.2L554 373.8L565.3 370.6L568.3 368.7L571.2 361.2L565.3 357.3L554 355.3L547.4 353.7L547.4 346.2L554 344.6L565.3 340.7L566.9 338.7L571.2 331.2L565.3 326.1L561.7 323.7L554 319.8L548.5 316.2L545.6 308.7L542.7 305.6L539.1 301.3L536.1 293.8L534.3 286.3L531.3 283.2L524.7 278.8L520 276.8L511.6 271.3L508.7 269.3L503.2 263.8L505.1 256.3L503.2 248.8L497.3 244.9L491.9 241.3L486 238.9L478.4 233.8L482.4 226.4L486 222L489 218.9L490.7 211.4L497.3 207L502.1 203.9L497.3 200.8L490.7 196.4L486 193.3L481.3 196.4L474.7 198.8L466.9 203.9L463.3 206.3L456.7 203.9L452 201.9L447.3 203.9L442.4 211.4L444.3 218.9L440.7 221.2L429.3 221.2L421.6 226.4L418 230.7L413.3 233.8L406.7 236.2L398.9 241.3L395.3 245.7L390.6 248.8L384 253.2L379.3 256.3L372.7 257.5L361.3 257.9L354 263.8L359.8 271.3L361.3 272.3L371.1 278.8L372.7 279.8L382.4 286.3L384 287.3L395.3 291.4L398.9 293.8L406.7 298.9L409.1 301.3L410.3 308.7L413.3 316.2L418 319.4L421.6 323.7L429.3 328.8L432.9 331.2L435.9 338.7L429.3 343.1L424.6 346.2L418 348.6L406.7 348.6L395.3 350.6L390.6 353.7L390.6 361.2L384 365.5L372.7 367.8L361.3 367.8L356.6 368.7L350 371L338.7 373.7L330.9 376.2L327.3 378.5L319.6 383.6L321.5 391.1L327.3 396.2L330.9 398.6L332.8 406.1L338.7 411.2L342.3 413.6L350 417.5L355.5 421.1L361.3 423.5L372.7 427L376.3 428.6L384 431L395.3 433.5L403.7 436.1L406.7 437.1L418 441.6L429.3 442.4L440.7 442.6L443.1 443.6L444.3 451.1L452 456.2L455.6 458.5L460.4 466L455.6 473.5L452 477.9L449 481L449 488.5L452 490.5L457.5 496L460.4 503.5L458.6 511L463.3 514.1L469.9 518.5L474.7 521.6L486 521.6L490.7 518.5L497.3 516.1L503.9 518.5L505.7 526L505.7 533.4L503.9 540.9L497.3 543.3L486 546.5L474.7 545.3L468.1 540.9L463.3 537.8L459.7 533.4L452 528.3L440.7 528.3L432.9 533.4L432.9 540.9L434.8 548.4L440.7 553.5L443.1 555.9L452 561.8L455.6 563.4L463.3 568.5L474.7 568.5L486 566.5L497.3 568.5L508.7 566.5ZM520 548.4L508.7 540.9L508.7 533.4L520 526L531.3 530L536.5 533.4L542.7 540.9L531.3 548.4ZM531.3 573.5L520 570.9L520 563.4L520 555.9L531.3 548.4L542.7 548.4L545.5 555.9L549.9 563.4L554 570.9L542.7 574.8ZM474.7 518.5L463.3 511L463.3 503.5L463.3 503.5L459.4 496L452 488.5L452 481L458.2 473.5L463.3 466L463.3 466L463.3 466L458.2 458.5L452 454.5L446.8 451.1L444.8 443.6L440.7 442L429.3 441.6L418 440.9L406.7 436.1L406.7 436.1L395.3 432.5L384 430.2L378.8 428.6L372.7 425.9L361.3 422.7L357.4 421.1L350 416.2L344.8 413.6L338.7 409.5L334.8 406.1L333.5 398.6L327.3 394.5L323.4 391.1L322.2 383.6L327.3 380.2L333.5 376.2L338.7 374.5L350 372.7L361.3 368.7L372.7 368.7L384 368.7L395.3 368.7L395.3 368.7L395.3 361.2L395.3 353.7L406.7 350.3L418 350.3L429.3 346.2L429.3 346.2L440.7 338.7L440.7 338.7L440.7 338.7L435.5 331.2L429.3 327.1L424.2 323.7L418 316.2L418 316.2L412.8 308.7L410.8 301.3L406.7 297.2L401.5 293.8L395.3 289.7L384 286.3L384 286.3L372.7 278.8L372.7 278.8L361.3 271.3L361.3 271.3L355.4 263.8L361.3 259L372.7 258.3L384 256.3L395.3 256.3L406.7 263.8L406.7 263.8L418 271.3L418 271.3L429.3 273.7L440.7 273.7L446.8 271.3L444.8 263.8L440.7 256.3L440.7 248.8L440.7 248.8L429.3 241.3L429.3 241.3L429.3 241.3L418 248.8L418 248.8L406.7 256.3L395.3 248.8L401.5 241.3L406.7 237.9L418 233.8L418 233.8L424.2 226.4L429.3 222.9L440.7 222.9L446.8 218.9L443.6 211.4L452 203.9L463.3 208L469.5 203.9L474.7 200.5L486 196.4L497.3 203.9L486 211.4L486 211.4L486 218.9L479.8 226.4L477.1 233.8L486 239.7L489.9 241.3L497.3 246.2L501.2 248.8L502.5 256.3L501.2 263.8L508.7 271.3L508.7 271.3L520 278.8L520 278.8L531.3 286.3L531.3 293.8L531.3 293.8L536.5 301.3L542.7 308.7L542.7 308.7L546.6 316.2L554 321.1L559.2 323.7L565.3 327.8L569.2 331.2L565.3 338.7L565.3 338.7L554 343.5L542.7 346.2L542.7 346.2L542.7 353.7L542.7 353.7L554 356.4L565.3 358.6L569.2 361.2L565.3 368.7L565.3 368.7L554 372.1L542.7 376.2L542.7 376.2L531.3 379.6L520 383.6L520 383.6L513.8 391.1L508.7 398.6L508.7 398.6L508.7 398.6L512.6 406.1L513.8 413.6L520 421.1L520 421.1L531.3 423.8L542.7 423.8L554 425.2L559.2 428.6L560 436.1L565.3 441L567.8 443.6L576.7 449.4L581.8 451.1L583.9 458.5L581.8 466L576.7 469.4L565.3 473.5L565.3 473.5L554 481L554 481L546.6 488.5L542.7 496L542.7 496L531.3 499.4L525.2 503.5L520 511L508.7 511L508.7 511L497.3 514.4L486 518.5ZM463.3 566.8L458.2 563.4L452 560.7L444.8 555.9L440.7 551.8L436.8 548.4L435.5 540.9L435.5 533.4L440.7 530L452 530L457.2 533.4L463.3 540.9L463.3 540.9L474.7 548.4L474.7 548.4L486 548.4L486 548.4L497.3 545L508.7 548.4L508.7 555.9L508.7 563.4L497.3 566.8L486 563.4L486 563.4L486 563.4L474.7 566.8ZM429.3 272.7L422.7 271.3L418 269.3L409.6 263.8L418 258.3L422.7 256.3L421 248.8L429.3 243.3L437.7 248.8L435.9 256.3L440.7 259.4L443.1 263.8L444.3 271.3L440.7 272.7ZM429.3 383.6L429.3 383.6L440.7 388.6L452 387.7L463.3 383.6L474.7 387.7L486 383.6L486 383.6L486 376.2L486 376.2L474.7 376.2L463.3 372.1L452 368.7L452 368.7L440.7 368.7L429.3 364.6L418 368.7L418 368.7L418 376.2L418 376.2ZM440.7 387.3L432.3 383.6L429.3 380.5L422.7 376.2L422.7 368.7L429.3 366.3L435.9 368.7L440.7 370.6L452 371.8L463.3 373.8L469.9 376.2L474.7 379.3L481.3 383.6L474.7 386L468.1 383.6L463.3 380.5L458.6 383.6L452 386ZM503.9 188.9L508.7 192L520 192L531.3 190.9L536.1 188.9L542.7 184.5L545.6 181.4L547.4 173.9L547.4 166.4L542.7 164.5L531.3 162.6L520 161.3L508.7 161.3L502.1 158.9L498.9 151.5L497.3 149.5L491.9 144L486 138.9L479.4 136.5L477.6 129L482.4 121.5L479.4 114L474.7 114L469.9 114L463.3 116.4L452 119.5L447.3 121.5L440.7 123.9L429.3 123.9L421.6 129L426.4 136.5L429.3 139.6L432.9 144L435.9 151.5L435.9 158.9L429.3 163.3L424.6 166.4L429.3 169.6L440.7 169.6L443.6 166.4L452 162.8L463.3 164.8L469.9 166.4L474.7 168.4L486 171.5L492.6 173.9L497.3 177L500.9 181.4ZM508.7 188.9L503.5 181.4L508.7 173.9L508.7 173.9L508.7 173.9L497.3 166.4L508.7 163L520 163L531.3 163.8L542.7 166.4L542.7 173.9L542.7 181.4L531.3 188.9L520 188.9ZM486 169.8L474.7 166.4L474.7 166.4L463.3 163.7L452 161.5L440.7 158.9L440.7 151.5L440.7 151.5L435.5 144L429.3 136.5L429.3 136.5L424.2 129L429.3 125.6L440.7 125.6L452 129L452 129L463.3 136.5L463.3 136.5L474.7 136.5L486 140.6L489.9 144L497.3 151.5L497.3 158.9L497.3 166.4ZM463.3 133.3L456.7 129L463.3 126.6L469.9 129ZM463.3 124.9L452 121.5L463.3 118.1L474.7 114L479.8 121.5L474.7 129Z"/>
<path fill="#0a8c46" stroke="#0a8c46" stroke-width="0.6" fill-rule="evenodd" d="M474.7 788.1L486 795.6L491.2 788.1L497.3 780.6L497.3 780.6L497.3 780.6L508.7 788.1L508.7 788.1L520 790.7L522.5 788.1L523.9 780.6L531.3 775.7L535.2 773.1L536.5 765.6L542.7 758.1L542.7 758.1L554 753.2L565.3 750.7L554 747.3L542.7 748.1L531.3 748.8L520 748.1L508.7 750.7L508.7 758.1L508.7 758.1L508.7 758.1L497.3 750.7L497.3 750.7L486 747.3L479.8 743.2L474.7 739.8L463.3 739.8L452 739.8L440.7 739.8L429.3 740.6L418 743.2L418 750.7L424.2 758.1L429.3 760.7L440.7 765.6L440.7 765.6L452 769L463.3 773.1L463.3 773.1L469.5 780.6L474.7 788.1ZM486 791.9L480.3 788.1L474.7 784.4L472.1 780.6L464.6 773.1L463.3 772L452 767.3L446.3 765.6L440.7 763.9L429.3 759.4L426.8 758.1L420.7 750.7L423.7 743.2L429.3 741.9L440.7 741.5L452 741.5L463.3 741.5L474.7 741.5L477.2 743.2L486 749L491.7 750.7L497.3 754.4L503 758.1L508.7 759.9L514.3 758.1L514.3 750.7L520 749.4L531.3 749.7L542.7 749.4L554 749L559.7 750.7L554 752L542.7 754.4L537 758.1L533.9 765.6L533.3 773.1L531.3 774.4L522 780.6L521.2 788.1L520 789.4L514.3 788.1L508.7 784.4L503 780.6L497.3 778.8L494.6 780.6L488.6 788.1ZM469.5 720.7L474.7 728.2L486 728.2L497.3 724.6L503.3 720.7L497.3 713.2L497.3 713.2L486 709.8L474.7 709.8L463.3 713.2ZM474.7 724.4L472.1 720.7L469 713.2L474.7 711.5L486 711.5L491.7 713.2L497.3 715L501.9 720.7L497.3 723.7L486 724.4ZM508.7 690.7L520 698.2L531.3 690.7L531.3 690.7L536.5 683.2L542.7 680.5L554 683.2L565.3 675.8L565.3 675.8L569.2 668.3L565.3 660.8L565.3 660.8L559.2 653.3L554 645.8L542.7 645.8L531.3 645.8L531.3 645.8L520 642.4L513.8 638.3L508.7 635.7L501.2 630.8L497.3 628.2L489.9 623.3L486 619.9L479.8 615.8L474.7 612.4L468.5 608.3L463.3 605.8L452 600.9L446.8 608.3L452 615.8L452 615.8L452 615.8L440.7 619.9L435.5 623.3L429.3 625.3L418 623.3L418 623.3L418 615.8L418 615.8L423.2 608.3L418 604.9L406.7 604.9L401.5 608.3L401.5 615.8L395.3 619.9L384 623.3L384 623.3L372.7 627.4L367.5 630.8L372.7 638.3L372.7 638.3L384 645.8L384 645.8L395.3 653.3L395.3 653.3L406.7 656.7L412.8 660.8L418 663.4L429.3 664.2L440.7 668.3L440.7 668.3L452 671.7L458.2 675.8L463.3 683.2L474.7 683.2L474.7 683.2L486 690.7L497.3 683.2L497.3 683.2L497.3 683.2L508.7 690.7ZM520 694.5L514.3 690.7L508.7 687L503 683.2L497.3 681.5L491.7 683.2L486 687L480.3 683.2L474.7 679.5L463.3 679.5L460.8 675.8L452 670L446.3 668.3L440.7 666.5L429.3 662.5L418 662.1L415.4 660.8L406.7 655L401 653.3L395.3 649.5L389.7 645.8L384 644.7L374.3 638.3L372.7 634.6L370.1 630.8L372.7 629.1L384 624.2L389.7 623.3L395.3 621.6L404.1 615.8L404.1 608.3L406.7 606.6L418 606.6L420.6 608.3L418 612.1L412.3 615.8L412.3 623.3L418 624.4L429.3 626.1L438.1 623.3L440.7 621.6L452 619.6L457.7 615.8L452 612.1L449.4 608.3L452 604.6L463.3 607.1L465.9 608.3L474.7 614.1L477.2 615.8L486 621.6L488 623.3L497.3 629.5L499.3 630.8L508.7 637L511.2 638.3L520 644.1L525.7 645.8L531.3 646.9L542.7 647.6L554 649.5L556.6 653.3L563.7 660.8L565.3 664.5L567.3 668.3L565.3 672L562.6 675.8L554 681.5L542.7 679.4L533.9 683.2L531.3 687L525.7 690.7ZM520 570.9L531.3 573.5L542.7 574.8L554 570.9L549.9 563.4L545.5 555.9L542.7 548.4L531.3 548.4L520 555.9L520 563.4ZM531.3 572.2L525.7 570.9L525.7 563.4L525.7 555.9L531.3 552.2L542.7 552.2L544.1 555.9L548.2 563.4L551.3 570.9L542.7 573.9ZM458.2 563.4L463.3 566.8L474.7 566.8L486 563.4L486 563.4L486 563.4L497.3 566.8L508.7 563.4L508.7 555.9L508.7 548.4L497.3 545L486 548.4L486 548.4L474.7 548.4L474.7 548.4L463.3 540.9L463.3 540.9L457.2 533.4L452 530L440.7 530L435.5 533.4L435.5 540.9L436.8 548.4L440.7 551.8L444.8 555.9L452 560.7ZM463.3 565.1L460.8 563.4L452 559.5L446.5 555.9L440.7 550.1L438.7 548.4L438.1 540.9L438.1 533.4L440.7 531.7L452 531.7L454.6 533.4L460.6 540.9L463.3 544.7L469 548.4L474.7 552.2L486 550.2L491.7 548.4L497.3 546.7L503 548.4L503 555.9L503 563.4L497.3 565.1L491.7 563.4L486 561.6L480.3 563.4L474.7 565.1ZM508.7 540.9L520 548.4L531.3 548.4L542.7 540.9L536.5 533.4L531.3 530L520 526L508.7 533.4ZM520 544.7L514.3 540.9L514.3 533.4L520 529.7L531.3 531.7L533.9 533.4L537 540.9L531.3 544.7ZM463.3 511L474.7 518.5L486 518.5L497.3 514.4L508.7 511L508.7 511L520 511L525.2 503.5L531.3 499.4L542.7 496L542.7 496L546.6 488.5L554 481L554 481L565.3 473.5L565.3 473.5L576.7 469.4L581.8 466L583.9 458.5L581.8 451.1L576.7 449.4L567.8 443.6L565.3 441L560 436.1L559.2 428.6L554 425.2L542.7 423.8L531.3 423.8L520 421.1L520 421.1L513.8 413.6L512.6 406.1L508.7 398.6L508.7 398.6L508.7 398.6L513.8 391.1L520 383.6L520 383.6L531.3 379.6L542.7 376.2L542.7 376.2L554 372.1L565.3 368.7L565.3 368.7L569.2 361.2L565.3 358.6L554 356.4L542.7 353.7L542.7 353.7L542.7 346.2L542.7 346.2L554 343.5L565.3 338.7L565.3 338.7L569.2 331.2L565.3 327.8L559.2 323.7L554 321.1L546.6 316.2L542.7 308.7L542.7 308.7L536.5 301.3L531.3 293.8L531.3 293.8L531.3 286.3L520 278.8L520 278.8L508.7 271.3L508.7 271.3L501.2 263.8L502.5 256.3L501.2 248.8L497.3 246.2L489.9 241.3L486 239.7L477.1 233.8L479.8 226.4L486 218.9L486 211.4L486 211.4L497.3 203.9L486 196.4L474.7 200.5L469.5 203.9L463.3 208L452 203.9L443.6 211.4L446.8 218.9L440.7 222.9L429.3 222.9L424.2 226.4L418 233.8L418 233.8L406.7 237.9L401.5 241.3L395.3 248.8L406.7 256.3L418 248.8L418 248.8L429.3 241.3L429.3 241.3L429.3 241.3L440.7 248.8L440.7 248.8L440.7 256.3L444.8 263.8L446.8 271.3L440.7 273.7L429.3 273.7L418 271.3L418 271.3L406.7 263.8L406.7 263.8L395.3 256.3L384 256.3L372.7 258.3L361.3 259L355.4 263.8L361.3 271.3L361.3 271.3L372.7 278.8L372.7 278.8L384 286.3L384 286.3L395.3 289.7L401.5 293.8L406.7 297.2L410.8 301.3L412.8 308.7L418 316.2L418 316.2L424.2 323.7L429.3 327.1L435.5 331.2L440.7 338.7L440.7 338.7L440.7 338.7L429.3 346.2L429.3 346.2L418 350.3L406.7 350.3L395.3 353.7L395.3 361.2L395.3 368.7L395.3 368.7L384 368.7L372.7 368.7L361.3 368.7L350 372.7L338.7 374.5L333.5 376.2L327.3 380.2L322.2 383.6L323.4 391.1L327.3 394.5L333.5 398.6L334.8 406.1L338.7 409.5L344.8 413.6L350 416.2L357.4 421.1L361.3 422.7L372.7 425.9L378.8 428.6L384 430.2L395.3 432.5L406.7 436.1L406.7 436.1L418 440.9L429.3 441.6L440.7 442L444.8 443.6L446.8 451.1L452 454.5L458.2 458.5L463.3 466L463.3 466L463.3 466L458.2 473.5L452 481L452 488.5L459.4 496L463.3 503.5L463.3 503.5ZM474.7 514.7L469 511L469 503.5L463.3 499.7L461.4 496L457.7 488.5L457.7 481L460.8 473.5L463.3 469.8L469 466L463.3 462.3L460.8 458.5L452 452.8L449.4 451.1L446.5 443.6L440.7 441.3L429.3 440.8L418 440.2L408.3 436.1L406.7 435L395.3 431.6L384 429.4L381.4 428.6L372.7 424.7L361.3 421.9L359.4 421.1L350 414.9L347.4 413.6L338.7 407.8L336.7 406.1L336.1 398.6L327.3 392.8L325.4 391.1L324.8 383.6L327.3 381.9L336.1 376.2L338.7 375.3L350 374.5L361.3 372.4L372.7 372.4L384 372.4L395.3 372.4L401 368.7L401 361.2L401 353.7L406.7 352L418 352L429.3 349.9L435 346.2L440.7 342.4L446.3 338.7L440.7 335L438.1 331.2L429.3 325.4L426.8 323.7L423.7 316.2L418 312.5L415.4 308.7L412.5 301.3L406.7 295.5L404.1 293.8L395.3 288L389.7 286.3L384 285.2L374.3 278.8L372.7 277L364 271.3L361.3 269.5L356.8 263.8L361.3 260.2L372.7 259.1L384 260.1L395.3 260.1L401 263.8L406.7 264.6L416.7 271.3L418 272.7L429.3 274.6L440.7 274.6L449.4 271.3L446.5 263.8L442.3 256.3L443.4 248.8L440.7 245.1L435 241.3L429.3 239.5L423.7 241.3L418 245.1L412.3 248.8L406.7 252.6L401 248.8L404.1 241.3L406.7 239.6L418 237.6L420.7 233.8L426.8 226.4L429.3 224.6L440.7 224.6L449.4 218.9L444.9 211.4L452 205L463.3 209.7L472.1 203.9L474.7 202.2L486 200.1L491.7 203.9L486 207.6L480.3 211.4L480.3 218.9L477.2 226.4L475.9 233.8L486 240.5L488 241.3L497.3 247.5L499.3 248.8L499.9 256.3L499.3 263.8L503 271.3L508.7 275L514.3 278.8L520 282.5L525.7 286.3L525.7 293.8L531.3 297.5L533.9 301.3L537 308.7L542.7 312.5L544.6 316.2L554 322.4L556.6 323.7L565.3 329.5L567.3 331.2L565.3 335L562.6 338.7L554 342.3L542.7 344.4L537 346.2L537 353.7L542.7 355.5L554 357.5L565.3 359.9L567.3 361.2L565.3 364.9L559.7 368.7L554 370.4L542.7 374.4L537 376.2L531.3 377.9L520 381.9L514.3 383.6L511.2 391.1L508.7 394.9L503 398.6L508.7 402.4L510.6 406.1L511.2 413.6L514.3 421.1L520 422.2L531.3 425L542.7 425L554 426.9L556.6 428.6L558.5 436.1L565.3 442.3L566.6 443.6L576.7 450.2L579.2 451.1L582.2 458.5L579.2 466L576.7 467.7L565.3 469.8L559.7 473.5L554 477.3L548.3 481L544.6 488.5L542.7 492.3L537 496L531.3 497.7L522.6 503.5L520 507.2L508.7 507.2L503 511L497.3 512.7L486 514.7ZM423.7 383.6L429.3 387.4L440.7 389.8L452 389.4L463.3 385.4L474.7 389.4L486 387.4L491.7 383.6L491.7 376.2L486 374.4L474.7 374.4L463.3 370.4L457.7 368.7L452 366.9L440.7 364.9L429.3 362.9L418 364.9L412.3 368.7L412.3 376.2L418 379.9ZM429.3 383.6L429.3 383.6L418 376.2L418 376.2L418 368.7L418 368.7L429.3 364.6L440.7 368.7L452 368.7L452 368.7L463.3 372.1L474.7 376.2L486 376.2L486 376.2L486 383.6L486 383.6L474.7 387.7L463.3 383.6L452 387.7L440.7 388.6ZM503.5 181.4L508.7 188.9L520 188.9L531.3 188.9L542.7 181.4L542.7 173.9L542.7 166.4L531.3 163.8L520 163L508.7 163L497.3 166.4L508.7 173.9L508.7 173.9L508.7 173.9ZM508.7 185.2L506.1 181.4L508.7 177.7L514.3 173.9L508.7 170.2L503 166.4L508.7 164.7L520 164.7L531.3 165.1L537 166.4L537 173.9L537 181.4L531.3 185.2L520 185.2ZM474.7 166.4L486 169.8L497.3 166.4L497.3 158.9L497.3 151.5L489.9 144L486 140.6L474.7 136.5L463.3 136.5L463.3 136.5L452 129L452 129L440.7 125.6L429.3 125.6L424.2 129L429.3 136.5L429.3 136.5L435.5 144L440.7 151.5L440.7 151.5L440.7 158.9L452 161.5L463.3 163.7L474.7 166.4ZM486 168.1L480.3 166.4L474.7 164.6L463.3 162.6L452 160.2L446.3 158.9L446.3 151.5L440.7 147.7L438.1 144L435 136.5L429.3 132.7L426.8 129L429.3 127.3L440.7 127.3L446.3 129L452 132.7L457.7 136.5L463.3 138.3L474.7 138.3L486 142.3L488 144L494.6 151.5L491.7 158.9L491.7 166.4ZM452 121.5L463.3 124.9L474.7 129L479.8 121.5L474.7 114L463.3 118.1ZM463.3 123.2L457.7 121.5L463.3 119.8L474.7 117.7L477.2 121.5L474.7 125.2Z"/>
<path fill="#0aaf19" stroke="#0aaf19" stroke-width="0.6" fill-rule="evenodd" d="M480.3 788.1L486 791.9L488.6 788.1L494.6 780.6L497.3 778.8L503 780.6L508.7 784.4L514.3 788.1L520 789.4L521.2 788.1L522 780.6L531.3 774.4L533.3 773.1L533.9 765.6L537 758.1L542.7 754.4L554 752L559.7 750.7L554 749L542.7 749.4L531.3 749.7L520 749.4L514.3 750.7L514.3 758.1L508.7 759.9L503 758.1L497.3 754.4L491.7 750.7L486 749L477.2 743.2L474.7 741.5L463.3 741.5L452 741.5L440.7 741.5L429.3 741.9L423.7 743.2L420.7 750.7L426.8 758.1L429.3 759.4L440.7 763.9L446.3 765.6L452 767.3L463.3 772L464.6 773.1L472.1 780.6L474.7 784.4ZM486 788.1L474.7 780.6L474.7 780.6L465.9 773.1L463.3 770.9L452 765.6L452 765.6L440.7 762.1L429.3 758.1L429.3 758.1L423.4 750.7L429.3 743.2L440.7 743.2L452 743.2L463.3 743.2L474.7 743.2L486 750.7L486 750.7L497.3 758.1L497.3 758.1L508.7 761.7L520 758.1L531.3 765.6L531.3 773.1L520 780.6L508.7 780.6L497.3 777.1L491.9 780.6ZM472.1 720.7L474.7 724.4L486 724.4L497.3 723.7L501.9 720.7L497.3 715L491.7 713.2L486 711.5L474.7 711.5L469 713.2ZM497.3 722.8L486 720.7L497.3 716.8L500.5 720.7ZM514.3 690.7L520 694.5L525.7 690.7L531.3 687L533.9 683.2L542.7 679.4L554 681.5L562.6 675.8L565.3 672L567.3 668.3L565.3 664.5L563.7 660.8L556.6 653.3L554 649.5L542.7 647.6L531.3 646.9L525.7 645.8L520 644.1L511.2 638.3L508.7 637L499.3 630.8L497.3 629.5L488 623.3L486 621.6L477.2 615.8L474.7 614.1L465.9 608.3L463.3 607.1L452 604.6L449.4 608.3L452 612.1L457.7 615.8L452 619.6L440.7 621.6L438.1 623.3L429.3 626.1L418 624.4L412.3 623.3L412.3 615.8L418 612.1L420.6 608.3L418 606.6L406.7 606.6L404.1 608.3L404.1 615.8L395.3 621.6L389.7 623.3L384 624.2L372.7 629.1L370.1 630.8L372.7 634.6L374.3 638.3L384 644.7L389.7 645.8L395.3 649.5L401 653.3L406.7 655L415.4 660.8L418 662.1L429.3 662.5L440.7 666.5L446.3 668.3L452 670L460.8 675.8L463.3 679.5L474.7 679.5L480.3 683.2L486 687L491.7 683.2L497.3 681.5L503 683.2L508.7 687ZM497.3 679.7L486 675.8L486 675.8L474.7 675.8L463.3 675.8L452 668.3L452 668.3L440.7 664.7L429.3 660.8L429.3 660.8L418 660.8L406.7 653.3L406.7 653.3L395.3 645.8L395.3 645.8L384 643.6L376 638.3L372.7 630.8L384 625L395.3 623.3L406.7 623.3L418 625.5L429.3 626.9L440.7 623.3L452 623.3L463.3 623.3L474.7 623.3L486 623.3L497.3 630.8L497.3 630.8L508.7 638.3L508.7 638.3L520 645.8L520 645.8L531.3 648L542.7 649.4L554 653.3L554 653.3L562 660.8L565.3 668.3L559.9 675.8L554 679.7L542.7 678.3L531.3 683.2L520 683.2L508.7 683.2ZM525.7 570.9L531.3 572.2L542.7 573.9L551.3 570.9L548.2 563.4L544.1 555.9L542.7 552.2L531.3 552.2L525.7 555.9L525.7 563.4ZM542.7 573L531.3 570.9L531.3 563.4L542.7 555.9L546.4 563.4L548.6 570.9ZM460.8 563.4L463.3 565.1L474.7 565.1L480.3 563.4L486 561.6L491.7 563.4L497.3 565.1L503 563.4L503 555.9L503 548.4L497.3 546.7L491.7 548.4L486 550.2L474.7 552.2L469 548.4L463.3 544.7L460.6 540.9L454.6 533.4L452 531.7L440.7 531.7L438.1 533.4L438.1 540.9L438.7 548.4L440.7 550.1L446.5 555.9L452 559.5ZM486 559.8L474.7 555.9L486 552L497.3 555.9ZM452 558.4L448.2 555.9L440.7 548.4L440.7 540.9L452 533.4L457.9 540.9L463.3 548.4L463.3 548.4L474.7 555.9L463.3 563.4ZM514.3 540.9L520 544.7L531.3 544.7L537 540.9L533.9 533.4L531.3 531.7L520 529.7L514.3 533.4ZM469 511L474.7 514.7L486 514.7L497.3 512.7L503 511L508.7 507.2L520 507.2L522.6 503.5L531.3 497.7L537 496L542.7 492.3L544.6 488.5L548.3 481L554 477.3L559.7 473.5L565.3 469.8L576.7 467.7L579.2 466L582.2 458.5L579.2 451.1L576.7 450.2L566.6 443.6L565.3 442.3L558.5 436.1L556.6 428.6L554 426.9L542.7 425L531.3 425L520 422.2L514.3 421.1L511.2 413.6L510.6 406.1L508.7 402.4L503 398.6L508.7 394.9L511.2 391.1L514.3 383.6L520 381.9L531.3 377.9L537 376.2L542.7 374.4L554 370.4L559.7 368.7L565.3 364.9L567.3 361.2L565.3 359.9L554 357.5L542.7 355.5L537 353.7L537 346.2L542.7 344.4L554 342.3L562.6 338.7L565.3 335L567.3 331.2L565.3 329.5L556.6 323.7L554 322.4L544.6 316.2L542.7 312.5L537 308.7L533.9 301.3L531.3 297.5L525.7 293.8L525.7 286.3L520 282.5L514.3 278.8L508.7 275L503 271.3L499.3 263.8L499.9 256.3L499.3 248.8L497.3 247.5L488 241.3L486 240.5L475.9 233.8L477.2 226.4L480.3 218.9L480.3 211.4L486 207.6L491.7 203.9L486 200.1L474.7 202.2L472.1 203.9L463.3 209.7L452 205L444.9 211.4L449.4 218.9L440.7 224.6L429.3 224.6L426.8 226.4L420.7 233.8L418 237.6L406.7 239.6L404.1 241.3L401 248.8L406.7 252.6L412.3 248.8L418 245.1L423.7 241.3L429.3 239.5L435 241.3L440.7 245.1L443.4 248.8L442.3 256.3L446.5 263.8L449.4 271.3L440.7 274.6L429.3 274.6L418 272.7L416.7 271.3L406.7 264.6L401 263.8L395.3 260.1L384 260.1L372.7 259.1L361.3 260.2L356.8 263.8L361.3 269.5L364 271.3L372.7 277L374.3 278.8L384 285.2L389.7 286.3L395.3 288L404.1 293.8L406.7 295.5L412.5 301.3L415.4 308.7L418 312.5L423.7 316.2L426.8 323.7L429.3 325.4L438.1 331.2L440.7 335L446.3 338.7L440.7 342.4L435 346.2L429.3 349.9L418 352L406.7 352L401 353.7L401 361.2L401 368.7L395.3 372.4L384 372.4L372.7 372.4L361.3 372.4L350 374.5L338.7 375.3L336.1 376.2L327.3 381.9L324.8 383.6L325.4 391.1L327.3 392.8L336.1 398.6L336.7 406.1L338.7 407.8L347.4 413.6L350 414.9L359.4 421.1L361.3 421.9L372.7 424.7L381.4 428.6L384 429.4L395.3 431.6L406.7 435L408.3 436.1L418 440.2L429.3 440.8L440.7 441.3L446.5 443.6L449.4 451.1L452 452.8L460.8 458.5L463.3 462.3L469 466L463.3 469.8L460.8 473.5L457.7 481L457.7 488.5L461.4 496L463.3 499.7L469 503.5ZM497.3 503.5L486 496L486 496L474.7 488.5L474.7 481L474.7 481L463.3 473.5L474.7 466L474.7 466L474.7 466L463.3 458.5L463.3 458.5L452 451.1L452 451.1L448.2 443.6L440.7 440.7L429.3 440L418 439.5L410 436.1L406.7 433.9L395.3 430.6L384 428.6L384 428.6L372.7 423.6L361.3 421.1L361.3 421.1L350 413.6L350 413.6L338.7 406.1L338.7 398.6L338.7 391.1L338.7 383.6L350 376.2L361.3 376.2L372.7 376.2L384 376.2L395.3 376.2L406.7 376.2L418 383.6L418 383.6L429.3 391.1L429.3 391.1L440.7 391.1L452 391.1L452 391.1L463.3 387.2L474.7 391.1L474.7 391.1L486 391.1L497.3 398.6L497.3 398.6L508.7 406.1L508.7 413.6L508.7 421.1L508.7 421.1L520 423.3L531.3 426.1L542.7 426.1L554 428.6L554 428.6L557.1 436.1L565.3 443.6L565.3 443.6L576.7 451.1L576.7 451.1L580.4 458.5L576.7 466L565.3 466L554 466L542.7 466L531.3 466L531.3 466L531.3 466L542.7 473.5L531.3 481L531.3 481L531.3 488.5L520 496L520 496L508.7 503.5ZM520 380.1L508.7 376.2L508.7 368.7L508.7 368.7L497.3 368.7L497.3 368.7L486 372.6L474.7 372.6L463.3 368.7L463.3 368.7L452 365.1L440.7 361.2L440.7 361.2L429.3 353.7L440.7 346.2L452 346.2L463.3 353.7L463.3 353.7L463.3 353.7L463.3 346.2L463.3 338.7L463.3 338.7L452 338.7L440.7 331.2L440.7 331.2L429.3 323.7L429.3 316.2L429.3 316.2L418 308.7L418 308.7L414.2 301.3L406.7 293.8L406.7 293.8L395.3 286.3L395.3 286.3L384 284.1L376 278.8L372.7 275.2L366.7 271.3L361.3 267.7L358.2 263.8L361.3 261.3L372.7 259.9L384 263.8L384 263.8L395.3 263.8L406.7 265.5L415.5 271.3L418 274.2L429.3 275.6L440.7 275.6L452 271.3L452 271.3L452 271.3L448.2 263.8L444 256.3L446.1 248.8L440.7 241.3L440.7 233.8L452 226.4L463.3 226.4L474.7 233.8L474.7 233.8L486 241.3L486 241.3L497.3 248.8L497.3 256.3L497.3 263.8L497.3 271.3L497.3 278.8L497.3 286.3L497.3 293.8L497.3 293.8L508.7 301.3L508.7 301.3L520 301.3L531.3 308.7L531.3 308.7L542.7 316.2L542.7 323.7L542.7 323.7L554 323.7L565.3 331.2L559.9 338.7L554 341.2L542.7 342.6L531.3 338.7L531.3 338.7L531.3 338.7L531.3 346.2L531.3 353.7L531.3 353.7L542.7 357.3L554 358.7L565.3 361.2L554 368.7L554 368.7L542.7 372.6L531.3 376.2L531.3 376.2ZM429.3 237.8L423.4 233.8L429.3 226.4L440.7 233.8ZM429.3 387.4L423.7 383.6L418 379.9L412.3 376.2L412.3 368.7L418 364.9L429.3 362.9L440.7 364.9L452 366.9L457.7 368.7L463.3 370.4L474.7 374.4L486 374.4L491.7 376.2L491.7 383.6L486 387.4L474.7 389.4L463.3 385.4L452 389.4L440.7 389.8ZM452 218.9L446.1 211.4L452 206.1L463.3 211.4ZM506.1 181.4L508.7 185.2L520 185.2L531.3 185.2L537 181.4L537 173.9L537 166.4L531.3 165.1L520 164.7L508.7 164.7L503 166.4L508.7 170.2L514.3 173.9L508.7 177.7ZM480.3 166.4L486 168.1L491.7 166.4L491.7 158.9L494.6 151.5L488 144L486 142.3L474.7 138.3L463.3 138.3L457.7 136.5L452 132.7L446.3 129L440.7 127.3L429.3 127.3L426.8 129L429.3 132.7L435 136.5L438.1 144L440.7 147.7L446.3 151.5L446.3 158.9L452 160.2L463.3 162.6L474.7 164.6ZM463.3 161.4L452 158.9L452 151.5L452 144L463.3 140L474.7 140L486 144L486 144L491.9 151.5L486 158.9L486 158.9L474.7 162.9ZM457.7 121.5L463.3 123.2L474.7 125.2L477.2 121.5L474.7 117.7L463.3 119.8Z"/>
<path fill="#32b91e" stroke="#32b91e" stroke-width="0.6" fill-rule="evenodd" d="M474.7 780.6L486 788.1L491.9 780.6L497.3 777.1L508.7 780.6L520 780.6L531.3 773.1L531.3 765.6L520 758.1L508.7 761.7L497.3 758.1L497.3 758.1L486 750.7L486 750.7L474.7 743.2L463.3 743.2L452 743.2L440.7 743.2L429.3 743.2L423.4 750.7L429.3 758.1L429.3 758.1L440.7 762.1L452 765.6L452 765.6L463.3 770.9L465.9 773.1L474.7 780.6ZM486 784.7L479.8 780.6L474.7 779.5L467.1 773.1L463.3 769.8L454.4 765.6L452 764.1L440.7 760.3L434.5 758.1L429.3 754.7L426.1 750.7L429.3 746.6L440.7 744.7L452 744.7L463.3 744.7L474.7 746.6L480.8 750.7L486 754.1L492.2 758.1L497.3 761.6L508.7 763.5L520 761.6L526.2 765.6L526.2 773.1L520 777.2L508.7 777.2L497.3 775.3L489.2 780.6ZM486 720.7L497.3 722.8L500.5 720.7L497.3 716.8ZM497.3 721.8L491.2 720.7L497.3 718.6L499 720.7ZM486 675.8L497.3 679.7L508.7 683.2L520 683.2L531.3 683.2L542.7 678.3L554 679.7L559.9 675.8L565.3 668.3L562 660.8L554 653.3L554 653.3L542.7 649.4L531.3 648L520 645.8L520 645.8L508.7 638.3L508.7 638.3L497.3 630.8L497.3 630.8L486 623.3L474.7 623.3L463.3 623.3L452 623.3L440.7 623.3L429.3 626.9L418 625.5L406.7 623.3L395.3 623.3L384 625L372.7 630.8L376 638.3L384 643.6L395.3 645.8L395.3 645.8L406.7 653.3L406.7 653.3L418 660.8L429.3 660.8L429.3 660.8L440.7 664.7L452 668.3L452 668.3L463.3 675.8L474.7 675.8L486 675.8ZM497.3 677.9L491.2 675.8L486 674.2L474.7 672.4L463.3 674.2L454.4 668.3L452 667.2L440.7 662.9L434.5 660.8L429.3 659.2L418 657.4L411.8 653.3L406.7 649.9L400.5 645.8L395.3 644.7L384 642.5L377.7 638.3L374.3 630.8L384 625.8L395.3 624.1L406.7 624.1L418 626.6L429.3 627.7L440.7 624.4L452 624.9L463.3 626.7L474.7 624.9L486 626.7L492.2 630.8L497.3 634.2L503.5 638.3L508.7 641.7L514.8 645.8L520 646.9L531.3 649.1L542.7 651.1L548.8 653.3L554 654.8L560.3 660.8L563 668.3L557.2 675.8L554 677.9L542.7 677.1L531.3 681.7L520 681.7L508.7 681.7ZM531.3 570.9L542.7 573L548.6 570.9L546.4 563.4L542.7 555.9L531.3 563.4ZM542.7 572L536.5 570.9L536.5 563.4L542.7 559.3L544.7 563.4L545.9 570.9ZM448.2 555.9L452 558.4L463.3 563.4L474.7 555.9L463.3 548.4L463.3 548.4L457.9 540.9L452 533.4L440.7 540.9L440.7 548.4ZM452 557.3L449.9 555.9L445.8 548.4L445.8 540.9L452 536.9L455.2 540.9L458.2 548.4L463.3 551.8L469.5 555.9L463.3 560ZM474.7 555.9L486 559.8L497.3 555.9L486 552ZM486 558.1L479.8 555.9L486 553.8L492.2 555.9ZM486 496L497.3 503.5L508.7 503.5L520 496L520 496L531.3 488.5L531.3 481L531.3 481L542.7 473.5L531.3 466L531.3 466L531.3 466L542.7 466L554 466L565.3 466L576.7 466L580.4 458.5L576.7 451.1L576.7 451.1L565.3 443.6L565.3 443.6L557.1 436.1L554 428.6L554 428.6L542.7 426.1L531.3 426.1L520 423.3L508.7 421.1L508.7 421.1L508.7 413.6L508.7 406.1L497.3 398.6L497.3 398.6L486 391.1L474.7 391.1L474.7 391.1L463.3 387.2L452 391.1L452 391.1L440.7 391.1L429.3 391.1L429.3 391.1L418 383.6L418 383.6L406.7 376.2L395.3 376.2L384 376.2L372.7 376.2L361.3 376.2L350 376.2L338.7 383.6L338.7 391.1L338.7 398.6L338.7 406.1L350 413.6L350 413.6L361.3 421.1L361.3 421.1L372.7 423.6L384 428.6L384 428.6L395.3 430.6L406.7 433.9L410 436.1L418 439.5L429.3 440L440.7 440.7L448.2 443.6L452 451.1L452 451.1L463.3 458.5L463.3 458.5L474.7 466L474.7 466L474.7 466L463.3 473.5L474.7 481L474.7 481L474.7 488.5L486 496ZM497.3 500.1L491.2 496L486 492.6L479.8 488.5L479.8 481L474.7 477.6L468.5 473.5L474.7 469.4L479.8 466L474.7 462.6L468.5 458.5L463.3 457L454.4 451.1L452 447.7L449.9 443.6L440.7 440L429.3 439.2L418 438.8L411.7 436.1L406.7 432.8L395.3 429.7L389.2 428.6L384 427L372.7 422.5L366.5 421.1L361.3 419.5L352.4 413.6L350 410.2L343.8 406.1L343.8 398.6L341 391.1L343.8 383.6L350 379.6L361.3 379.6L372.7 377.7L384 377.2L395.3 377.7L406.7 379.6L412.8 383.6L418 387L424.2 391.1L429.3 394.5L440.7 394.5L452 392.7L457.2 391.1L463.3 389L469.5 391.1L474.7 394.5L486 394.5L492.2 398.6L497.3 400.2L506.3 406.1L507 413.6L503.5 421.1L508.7 424.5L520 424.4L531.3 427.2L542.7 427.2L548.8 428.6L554 432L555.7 436.1L563.7 443.6L565.3 447L571.5 451.1L576.7 454.5L578.7 458.5L576.7 462.6L565.3 464.5L554 464.5L542.7 462.6L531.3 464.5L526.2 466L531.3 469.4L537.5 473.5L531.3 477.6L526.2 481L526.2 488.5L520 492.6L514.8 496L508.7 500.1ZM508.7 376.2L520 380.1L531.3 376.2L531.3 376.2L542.7 372.6L554 368.7L554 368.7L565.3 361.2L554 358.7L542.7 357.3L531.3 353.7L531.3 353.7L531.3 346.2L531.3 338.7L531.3 338.7L531.3 338.7L542.7 342.6L554 341.2L559.9 338.7L565.3 331.2L554 323.7L542.7 323.7L542.7 323.7L542.7 316.2L531.3 308.7L531.3 308.7L520 301.3L508.7 301.3L508.7 301.3L497.3 293.8L497.3 293.8L497.3 286.3L497.3 278.8L497.3 271.3L497.3 263.8L497.3 256.3L497.3 248.8L486 241.3L486 241.3L474.7 233.8L474.7 233.8L463.3 226.4L452 226.4L440.7 233.8L440.7 241.3L446.1 248.8L444 256.3L448.2 263.8L452 271.3L452 271.3L452 271.3L440.7 275.6L429.3 275.6L418 274.2L415.5 271.3L406.7 265.5L395.3 263.8L384 263.8L384 263.8L372.7 259.9L361.3 261.3L358.2 263.8L361.3 267.7L366.7 271.3L372.7 275.2L376 278.8L384 284.1L395.3 286.3L395.3 286.3L406.7 293.8L406.7 293.8L414.2 301.3L418 308.7L418 308.7L429.3 316.2L429.3 316.2L429.3 323.7L440.7 331.2L440.7 331.2L452 338.7L463.3 338.7L463.3 338.7L463.3 346.2L463.3 353.7L463.3 353.7L463.3 353.7L452 346.2L440.7 346.2L429.3 353.7L440.7 361.2L440.7 361.2L452 365.1L463.3 368.7L463.3 368.7L474.7 372.6L486 372.6L497.3 368.7L497.3 368.7L508.7 368.7L508.7 368.7ZM520 378.3L513.8 376.2L513.8 368.7L508.7 365.3L497.3 365.3L492.2 368.7L486 370.8L474.7 370.8L468.5 368.7L463.3 365.3L452 363.3L445.8 361.2L440.7 357.8L434.5 353.7L440.7 349.6L452 349.6L458.2 353.7L463.3 357.1L468.5 353.7L468.5 346.2L468.5 338.7L463.3 337.1L452 335.3L445.8 331.2L440.7 327.8L434.5 323.7L431.7 316.2L429.3 312.8L423.2 308.7L418 305.3L415.9 301.3L409 293.8L406.7 290.4L400.5 286.3L395.3 285.2L384 283L377.7 278.8L372.7 273.4L369.4 271.3L361.3 265.9L359.6 263.8L361.3 262.4L372.7 260.7L381.6 263.8L384 264.9L395.3 264.9L406.7 266.3L414.2 271.3L418 275.6L429.3 276.6L440.7 276.6L452 273.6L457.2 271.3L452 267.9L449.9 263.8L445.7 256.3L448.8 248.8L445.8 241.3L445.8 233.8L452 229.8L463.3 229.8L469.5 233.8L474.7 237.2L480.8 241.3L486 244.7L492.2 248.8L495 256.3L495 263.8L492.2 271.3L492.2 278.8L492.2 286.3L492.2 293.8L497.3 297.2L503.5 301.3L508.7 304.7L520 304.7L526.2 308.7L531.3 312.1L537.5 316.2L537.5 323.7L542.7 327.1L554 326.1L561.8 331.2L557.2 338.7L554 340.1L542.7 340.8L536.5 338.7L531.3 335.3L526.2 338.7L526.2 346.2L529 353.7L531.3 357.1L542.7 359L554 359.8L560.2 361.2L554 365.3L548.8 368.7L542.7 370.8L531.3 372.7L526.2 376.2ZM423.4 233.8L429.3 237.8L440.7 233.8L429.3 226.4ZM429.3 236L426.1 233.8L429.3 229.8L435.5 233.8ZM446.1 211.4L452 218.9L463.3 211.4L452 206.1ZM452 217.3L447.3 211.4L452 207.2L461 211.4ZM452 158.9L463.3 161.4L474.7 162.9L486 158.9L486 158.9L491.9 151.5L486 144L486 144L474.7 140L463.3 140L452 144L452 151.5ZM463.3 160.3L457.2 158.9L457.2 151.5L457.2 144L463.3 141.8L474.7 141.8L480.8 144L486 147.4L489.2 151.5L486 155.5L480.8 158.9L474.7 161.1Z"/>
<path fill="#64cd14" stroke="#64cd14" stroke-width="0.6" fill-rule="evenodd" d="M479.8 780.6L486 784.7L489.2 780.6L497.3 775.3L508.7 777.2L520 777.2L526.2 773.1L526.2 765.6L520 761.6L508.7 763.5L497.3 761.6L492.2 758.1L486 754.1L480.8 750.7L474.7 746.6L463.3 744.7L452 744.7L440.7 744.7L429.3 746.6L426.1 750.7L429.3 754.7L434.5 758.1L440.7 760.3L452 764.1L454.4 765.6L463.3 769.8L467.1 773.1L474.7 779.5ZM486 781.3L485 780.6L474.7 778.5L468.4 773.1L463.3 768.7L456.7 765.6L452 762.5L440.7 758.5L439.6 758.1L429.3 751.3L428.8 750.7L429.3 750L440.7 746.3L452 746.3L463.3 746.3L474.7 750L475.7 750.7L486 757.5L487 758.1L497.3 765L508.7 765.3L520 765L521 765.6L521 773.1L520 773.8L508.7 773.8L497.3 773.5L486.5 780.6ZM491.2 720.7L497.3 721.8L499 720.7L497.3 718.6ZM497.3 720.9L496.3 720.7L497.3 720.3L497.6 720.7ZM491.2 675.8L497.3 677.9L508.7 681.7L520 681.7L531.3 681.7L542.7 677.1L554 677.9L557.2 675.8L563 668.3L560.3 660.8L554 654.8L548.8 653.3L542.7 651.1L531.3 649.1L520 646.9L514.8 645.8L508.7 641.7L503.5 638.3L497.3 634.2L492.2 630.8L486 626.7L474.7 624.9L463.3 626.7L452 624.9L440.7 624.4L429.3 627.7L418 626.6L406.7 624.1L395.3 624.1L384 625.8L374.3 630.8L377.7 638.3L384 642.5L395.3 644.7L400.5 645.8L406.7 649.9L411.8 653.3L418 657.4L429.3 659.2L434.5 660.8L440.7 662.9L452 667.2L454.4 668.3L463.3 674.2L474.7 672.4L486 674.2ZM497.3 676.1L496.3 675.8L486 672.6L474.7 668.9L463.3 672.6L456.7 668.3L452 666.1L440.7 661.1L439.6 660.8L429.3 657.7L418 654L417 653.3L406.7 646.5L405.6 645.8L395.3 643.7L384 641.4L379.3 638.3L375.9 630.8L384 626.7L395.3 624.9L406.7 624.9L418 627.7L429.3 628.5L440.7 625.5L452 626.4L463.3 630.1L474.7 626.4L486 630.1L487 630.8L497.3 637.6L498.4 638.3L508.7 645.1L509.7 645.8L520 647.9L531.3 650.2L542.7 652.9L543.7 653.3L554 656.4L558.7 660.8L560.6 668.3L554.5 675.8L554 676.1L542.7 676L531.3 680.1L520 680.1L508.7 680.1ZM536.5 570.9L542.7 572L545.9 570.9L544.7 563.4L542.7 559.3L536.5 563.4ZM542.7 571.1L541.6 570.9L541.6 563.4L542.7 562.7L543 563.4L543.2 570.9ZM449.9 555.9L452 557.3L463.3 560L469.5 555.9L463.3 551.8L458.2 548.4L455.2 540.9L452 536.9L445.8 540.9L445.8 548.4ZM452 556.1L451.7 555.9L451 548.4L451 540.9L452 540.3L452.5 540.9L453 548.4L463.3 555.2L464.4 555.9L463.3 556.6ZM479.8 555.9L486 558.1L492.2 555.9L486 553.8ZM486 556.3L485 555.9L486 555.6L487 555.9ZM491.2 496L497.3 500.1L508.7 500.1L514.8 496L520 492.6L526.2 488.5L526.2 481L531.3 477.6L537.5 473.5L531.3 469.4L526.2 466L531.3 464.5L542.7 462.6L554 464.5L565.3 464.5L576.7 462.6L578.7 458.5L576.7 454.5L571.5 451.1L565.3 447L563.7 443.6L555.7 436.1L554 432L548.8 428.6L542.7 427.2L531.3 427.2L520 424.4L508.7 424.5L503.5 421.1L507 413.6L506.3 406.1L497.3 400.2L492.2 398.6L486 394.5L474.7 394.5L469.5 391.1L463.3 389L457.2 391.1L452 392.7L440.7 394.5L429.3 394.5L424.2 391.1L418 387L412.8 383.6L406.7 379.6L395.3 377.7L384 377.2L372.7 377.7L361.3 379.6L350 379.6L343.8 383.6L341 391.1L343.8 398.6L343.8 406.1L350 410.2L352.4 413.6L361.3 419.5L366.5 421.1L372.7 422.5L384 427L389.2 428.6L395.3 429.7L406.7 432.8L411.7 436.1L418 438.8L429.3 439.2L440.7 440L449.9 443.6L452 447.7L454.4 451.1L463.3 457L468.5 458.5L474.7 462.6L479.8 466L474.7 469.4L468.5 473.5L474.7 477.6L479.8 481L479.8 488.5L486 492.6ZM497.3 496.7L496.3 496L486 489.2L485 488.5L485 481L474.7 474.2L473.6 473.5L474.7 472.8L485 466L474.7 459.2L473.6 458.5L463.3 455.4L456.7 451.1L452 444.2L451.7 443.6L440.7 439.4L429.3 438.4L418 438.1L413.3 436.1L406.7 431.7L395.3 428.8L394.3 428.6L384 425.5L372.7 421.3L371.6 421.1L361.3 418L354.7 413.6L350 406.8L349 406.1L349 398.6L343.4 391.1L349 383.6L350 383L361.3 383L372.7 379.3L384 378.3L395.3 379.3L406.7 383L407.7 383.6L418 390.5L419 391.1L429.3 397.9L440.7 397.9L452 394.3L462.3 391.1L463.3 390.8L464.4 391.1L474.7 397.9L486 397.9L487 398.6L497.3 401.7L503.9 406.1L505.4 413.6L498.4 421.1L508.7 427.9L520 425.5L531.3 428.4L542.7 428.4L543.7 428.6L554 435.4L554.3 436.1L562.1 443.6L565.3 450.4L566.4 451.1L576.7 457.9L577 458.5L576.7 459.2L565.3 462.9L554 462.9L542.7 459.2L531.3 462.9L521 466L531.3 472.8L532.4 473.5L531.3 474.2L521 481L521 488.5L520 489.2L509.7 496L508.7 496.7ZM513.8 376.2L520 378.3L526.2 376.2L531.3 372.7L542.7 370.8L548.8 368.7L554 365.3L560.2 361.2L554 359.8L542.7 359L531.3 357.1L529 353.7L526.2 346.2L526.2 338.7L531.3 335.3L536.5 338.7L542.7 340.8L554 340.1L557.2 338.7L561.8 331.2L554 326.1L542.7 327.1L537.5 323.7L537.5 316.2L531.3 312.1L526.2 308.7L520 304.7L508.7 304.7L503.5 301.3L497.3 297.2L492.2 293.8L492.2 286.3L492.2 278.8L492.2 271.3L495 263.8L495 256.3L492.2 248.8L486 244.7L480.8 241.3L474.7 237.2L469.5 233.8L463.3 229.8L452 229.8L445.8 233.8L445.8 241.3L448.8 248.8L445.7 256.3L449.9 263.8L452 267.9L457.2 271.3L452 273.6L440.7 276.6L429.3 276.6L418 275.6L414.2 271.3L406.7 266.3L395.3 264.9L384 264.9L381.6 263.8L372.7 260.7L361.3 262.4L359.6 263.8L361.3 265.9L369.4 271.3L372.7 273.4L377.7 278.8L384 283L395.3 285.2L400.5 286.3L406.7 290.4L409 293.8L415.9 301.3L418 305.3L423.2 308.7L429.3 312.8L431.7 316.2L434.5 323.7L440.7 327.8L445.8 331.2L452 335.3L463.3 337.1L468.5 338.7L468.5 346.2L468.5 353.7L463.3 357.1L458.2 353.7L452 349.6L440.7 349.6L434.5 353.7L440.7 357.8L445.8 361.2L452 363.3L463.3 365.3L468.5 368.7L474.7 370.8L486 370.8L492.2 368.7L497.3 365.3L508.7 365.3L513.8 368.7ZM520 376.5L519 376.2L519 368.7L508.7 361.9L497.3 361.9L487 368.7L486 369L474.7 369L473.6 368.7L463.3 361.9L452 361.5L451 361.2L440.7 354.4L439.6 353.7L440.7 353L452 353L453 353.7L463.3 360.5L473.6 353.7L473.6 346.2L473.6 338.7L463.3 335.6L452 331.9L451 331.2L440.7 324.4L439.6 323.7L434.1 316.2L429.3 309.4L428.3 308.7L418 301.9L417.7 301.3L411.4 293.8L406.7 287L405.6 286.3L395.3 284.1L384 281.9L379.3 278.8L372.7 271.6L372.1 271.3L361.3 264.2L361.1 263.8L361.3 263.6L372.7 261.5L379.3 263.8L384 265.9L395.3 265.9L406.7 267.1L413 271.3L418 277.1L429.3 277.6L440.7 277.6L452 276L462.3 271.3L452 264.5L451.7 263.8L447.3 256.3L451.5 248.8L451 241.3L451 233.8L452 233.2L463.3 233.2L464.4 233.8L474.7 240.7L475.7 241.3L486 248.1L487 248.8L492.6 256.3L492.6 263.8L487 271.3L487 278.8L487 286.3L487 293.8L497.3 300.6L498.4 301.3L508.7 308.1L520 308.1L521 308.7L531.3 315.6L532.4 316.2L532.4 323.7L542.7 330.5L554 328.4L558.2 331.2L554.5 338.7L554 338.9L542.7 339.1L541.6 338.7L531.3 331.9L521 338.7L521 346.2L526.6 353.7L531.3 360.5L542.7 360.8L554 360.9L555 361.2L554 361.9L543.7 368.7L542.7 369L531.3 369.3L521 376.2ZM426.1 233.8L429.3 236L435.5 233.8L429.3 229.8ZM429.3 234.2L428.8 233.8L429.3 233.2L430.4 233.8ZM447.3 211.4L452 217.3L461 211.4L452 207.2ZM452 215.7L448.6 211.4L452 208.3L458.6 211.4ZM457.2 158.9L463.3 160.3L474.7 161.1L480.8 158.9L486 155.5L489.2 151.5L486 147.4L480.8 144L474.7 141.8L463.3 141.8L457.2 144L457.2 151.5ZM463.3 159.2L462.3 158.9L462.3 151.5L462.3 144L463.3 143.6L474.7 143.6L475.7 144L486 150.8L486.5 151.5L486 152.1L475.7 158.9L474.7 159.3Z"/>
<path fill="#96e10f" stroke="#96e10f" stroke-width="0.6" fill-rule="evenodd" d="M485 780.6L486 781.3L486.5 780.6L497.3 773.5L508.7 773.8L520 773.8L521 773.1L521 765.6L520 765L508.7 765.3L497.3 765L487 758.1L486 757.5L475.7 750.7L474.7 750L463.3 746.3L452 746.3L440.7 746.3L429.3 750L428.8 750.7L429.3 751.3L439.6 758.1L440.7 758.5L452 762.5L456.7 765.6L463.3 768.7L468.4 773.1L474.7 778.5ZM474.7 777.4L469.6 773.1L463.3 767.6L459.1 765.6L452 761L444.2 758.1L440.7 755.8L432.8 750.7L440.7 747.9L452 747.9L463.3 747.9L471.2 750.7L474.7 753L482.5 758.1L486 760.5L493.8 765.6L493.8 773.1L486 778.3ZM496.3 720.7L497.3 720.9L497.6 720.7L497.3 720.3ZM496.3 675.8L497.3 676.1L508.7 680.1L520 680.1L531.3 680.1L542.7 676L554 676.1L554.5 675.8L560.6 668.3L558.7 660.8L554 656.4L543.7 653.3L542.7 652.9L531.3 650.2L520 647.9L509.7 645.8L508.7 645.1L498.4 638.3L497.3 637.6L487 630.8L486 630.1L474.7 626.4L463.3 630.1L452 626.4L440.7 625.5L429.3 628.5L418 627.7L406.7 624.9L395.3 624.9L384 626.7L375.9 630.8L379.3 638.3L384 641.4L395.3 643.7L405.6 645.8L406.7 646.5L417 653.3L418 654L429.3 657.7L439.6 660.8L440.7 661.1L452 666.1L456.7 668.3L463.3 672.6L474.7 668.9L486 672.6ZM508.7 678.6L500.8 675.8L497.3 674.5L486 671.1L478.2 668.3L474.7 667L471.2 668.3L463.3 671.1L459.1 668.3L452 665.1L442.6 660.8L440.7 658.5L429.3 656.1L421.5 653.3L418 651L410.2 645.8L406.7 644.5L395.3 642.6L384 640.3L381 638.3L377.5 630.8L384 627.5L395.3 625.7L406.7 625.7L418 628.8L429.3 629.4L440.7 626.5L452 628L459.8 630.8L463.3 633.1L466.8 630.8L474.7 628L482.5 630.8L486 633.1L493.8 638.3L497.3 639.6L506.8 645.8L508.7 646.6L520 649L531.3 651.3L539.2 653.3L542.7 654.5L554 658L557 660.8L558.2 668.3L554 673.5L542.7 674.5L539.2 675.8L531.3 678.6L520 678.6ZM541.6 570.9L542.7 571.1L543.2 570.9L543 563.4L542.7 562.7L541.6 563.4ZM451.7 555.9L452 556.1L463.3 556.6L464.4 555.9L463.3 555.2L453 548.4L452.5 540.9L452 540.3L451 540.9L451 548.4ZM485 555.9L486 556.3L487 555.9L486 555.6ZM496.3 496L497.3 496.7L508.7 496.7L509.7 496L520 489.2L521 488.5L521 481L531.3 474.2L532.4 473.5L531.3 472.8L521 466L531.3 462.9L542.7 459.2L554 462.9L565.3 462.9L576.7 459.2L577 458.5L576.7 457.9L566.4 451.1L565.3 450.4L562.1 443.6L554.3 436.1L554 435.4L543.7 428.6L542.7 428.4L531.3 428.4L520 425.5L508.7 427.9L498.4 421.1L505.4 413.6L503.9 406.1L497.3 401.7L487 398.6L486 397.9L474.7 397.9L464.4 391.1L463.3 390.8L462.3 391.1L452 394.3L440.7 397.9L429.3 397.9L419 391.1L418 390.5L407.7 383.6L406.7 383L395.3 379.3L384 378.3L372.7 379.3L361.3 383L350 383L349 383.6L343.4 391.1L349 398.6L349 406.1L350 406.8L354.7 413.6L361.3 418L371.6 421.1L372.7 421.3L384 425.5L394.3 428.6L395.3 428.8L406.7 431.7L413.3 436.1L418 438.1L429.3 438.4L440.7 439.4L451.7 443.6L452 444.2L456.7 451.1L463.3 455.4L473.6 458.5L474.7 459.2L485 466L474.7 472.8L473.6 473.5L474.7 474.2L485 481L485 488.5L486 489.2ZM486 463.7L478.2 458.5L474.7 457.3L463.3 453.9L459.1 451.1L453.9 443.6L452 442.7L440.7 438.7L429.3 437.5L418 437.3L415 436.1L406.7 430.6L398.8 428.6L395.3 427.3L384 423.9L376.2 421.1L372.7 419.8L361.3 416.4L357.1 413.6L353.5 406.1L351.9 398.6L350 396.3L345.8 391.1L350 385.9L361.3 384.9L364.8 383.6L372.7 380.8L384 379.4L395.3 380.8L403.2 383.6L406.7 384.9L416.1 391.1L418 393.4L425.8 398.6L429.3 400.9L440.7 400.9L444.2 398.6L452 395.8L463.3 393.4L471.2 398.6L474.7 399.9L486 399.9L497.3 403.3L501.6 406.1L503.8 413.6L497.3 419.8L493.8 421.1L497.3 423.4L505.2 428.6L508.7 429.4L512.2 428.6L520 426.6L527.8 428.6L531.3 429.4L542.7 429.8L552.1 436.1L554 437.3L560.5 443.6L563.4 451.1L565.3 453.4L573.2 458.5L565.3 461.4L554 461.4L546.2 458.5L542.7 457.3L539.2 458.5L531.3 461.4L520 463.7L508.7 463.7L497.3 463.7ZM519 376.2L520 376.5L521 376.2L531.3 369.3L542.7 369L543.7 368.7L554 361.9L555 361.2L554 360.9L542.7 360.8L531.3 360.5L526.6 353.7L521 346.2L521 338.7L531.3 331.9L541.6 338.7L542.7 339.1L554 338.9L554.5 338.7L558.2 331.2L554 328.4L542.7 330.5L532.4 323.7L532.4 316.2L531.3 315.6L521 308.7L520 308.1L508.7 308.1L498.4 301.3L497.3 300.6L487 293.8L487 286.3L487 278.8L487 271.3L492.6 263.8L492.6 256.3L487 248.8L486 248.1L475.7 241.3L474.7 240.7L464.4 233.8L463.3 233.2L452 233.2L451 233.8L451 241.3L451.5 248.8L447.3 256.3L451.7 263.8L452 264.5L462.3 271.3L452 276L440.7 277.6L429.3 277.6L418 277.1L413 271.3L406.7 267.1L395.3 265.9L384 265.9L379.3 263.8L372.7 261.5L361.3 263.6L361.1 263.8L361.3 264.2L372.1 271.3L372.7 271.6L379.3 278.8L384 281.9L395.3 284.1L405.6 286.3L406.7 287L411.4 293.8L417.7 301.3L418 301.9L428.3 308.7L429.3 309.4L434.1 316.2L439.6 323.7L440.7 324.4L451 331.2L452 331.9L463.3 335.6L473.6 338.7L473.6 346.2L473.6 353.7L463.3 360.5L453 353.7L452 353L440.7 353L439.6 353.7L440.7 354.4L451 361.2L452 361.5L463.3 361.9L473.6 368.7L474.7 369L486 369L487 368.7L497.3 361.9L508.7 361.9L519 368.7ZM520 358.9L512.2 353.7L508.7 351.4L500.8 346.2L500.8 338.7L497.3 336.4L486 336.4L474.7 336.4L463.3 334L455.5 331.2L452 328.9L444.2 323.7L440.7 321.4L436.4 316.2L431.2 308.7L429.3 306.4L421.5 301.3L418 298.9L413.8 293.8L410.2 286.3L406.7 285L395.3 283.1L384 280.8L381 278.8L374.6 271.3L372.7 269L364.8 263.8L372.7 262.3L376.9 263.8L384 267L395.3 267L406.7 268L411.7 271.3L418 278.5L429.3 278.6L440.7 278.6L452 278.3L463.3 277.3L466.8 271.3L463.3 270L453.9 263.8L452 261.5L449 256.3L452 251.1L455.5 248.8L463.3 243.6L471.2 248.8L474.7 250.1L486 251.1L490.2 256.3L490.2 263.8L486 269L482.5 271.3L474.7 276.5L465.6 278.8L474.7 281.1L482.5 286.3L482.5 293.8L486 296.1L493.8 301.3L497.3 303.6L505.2 308.7L508.7 311L520 311L527.8 316.2L530.1 323.7L520 330.4L516.5 331.2L516.5 338.7L516.5 346.2L520 348.5L524.2 353.7ZM554 332.7L551.7 331.2L554 330.7L554.7 331.2ZM428.8 233.8L429.3 234.2L430.4 233.8L429.3 233.2ZM448.6 211.4L452 215.7L458.6 211.4L452 208.3ZM452 214.2L449.8 211.4L452 209.4L456.2 211.4ZM462.3 158.9L463.3 159.2L474.7 159.3L475.7 158.9L486 152.1L486.5 151.5L486 150.8L475.7 144L474.7 143.6L463.3 143.6L462.3 144L462.3 151.5ZM474.7 152.9L472.4 151.5L474.7 150L476.9 151.5Z"/>
<path fill="#c8f014" stroke="#c8f014" stroke-width="0.6" fill-rule="evenodd" d="M469.6 773.1L474.7 777.4L486 778.3L493.8 773.1L493.8 765.6L486 760.5L482.5 758.1L474.7 753L471.2 750.7L463.3 747.9L452 747.9L440.7 747.9L432.8 750.7L440.7 755.8L444.2 758.1L452 761L459.1 765.6L463.3 767.6ZM474.7 776.3L470.9 773.1L463.3 766.5L461.4 765.6L452 759.4L448.5 758.1L440.7 753L437.2 750.7L440.7 749.4L452 749.4L463.3 749.4L466.8 750.7L474.7 755.8L478.2 758.1L486 763.3L489.5 765.6L489.5 773.1L486 775.4ZM500.8 675.8L508.7 678.6L520 678.6L531.3 678.6L539.2 675.8L542.7 674.5L554 673.5L558.2 668.3L557 660.8L554 658L542.7 654.5L539.2 653.3L531.3 651.3L520 649L508.7 646.6L506.8 645.8L497.3 639.6L493.8 638.3L486 633.1L482.5 630.8L474.7 628L466.8 630.8L463.3 633.1L459.8 630.8L452 628L440.7 626.5L429.3 629.4L418 628.8L406.7 625.7L395.3 625.7L384 627.5L377.5 630.8L381 638.3L384 640.3L395.3 642.6L406.7 644.5L410.2 645.8L418 651L421.5 653.3L429.3 656.1L440.7 658.5L442.6 660.8L452 665.1L459.1 668.3L463.3 671.1L471.2 668.3L474.7 667L478.2 668.3L486 671.1L497.3 674.5ZM508.7 677L505.2 675.8L497.3 672.9L486 669.5L482.5 668.3L474.7 665.5L466.8 668.3L463.3 669.5L461.4 668.3L452 664L444.9 660.8L440.7 655.6L429.3 654.5L425.8 653.3L418 648.1L414.5 645.8L406.7 643L395.3 641.5L384 639.2L382.7 638.3L379.1 630.8L384 628.3L395.3 626.5L406.7 626.5L418 629.9L429.3 630.2L440.7 627.6L452 629.6L455.5 630.8L463.3 636L471.2 630.8L474.7 629.6L478.2 630.8L486 636L489.5 638.3L497.3 641.1L504.4 645.8L508.7 647.7L520 650.1L531.3 652.4L534.8 653.3L542.7 656.1L554 659.5L555.3 660.8L555.9 668.3L554 670.6L542.7 672.9L534.8 675.8L531.3 677L520 677ZM478.2 458.5L486 463.7L497.3 463.7L508.7 463.7L520 463.7L531.3 461.4L539.2 458.5L542.7 457.3L546.2 458.5L554 461.4L565.3 461.4L573.2 458.5L565.3 453.4L563.4 451.1L560.5 443.6L554 437.3L552.1 436.1L542.7 429.8L531.3 429.4L527.8 428.6L520 426.6L512.2 428.6L508.7 429.4L505.2 428.6L497.3 423.4L493.8 421.1L497.3 419.8L503.8 413.6L501.6 406.1L497.3 403.3L486 399.9L474.7 399.9L471.2 398.6L463.3 393.4L452 395.8L444.2 398.6L440.7 400.9L429.3 400.9L425.8 398.6L418 393.4L416.1 391.1L406.7 384.9L403.2 383.6L395.3 380.8L384 379.4L372.7 380.8L364.8 383.6L361.3 384.9L350 385.9L345.8 391.1L350 396.3L351.9 398.6L353.5 406.1L357.1 413.6L361.3 416.4L372.7 419.8L376.2 421.1L384 423.9L395.3 427.3L398.8 428.6L406.7 430.6L415 436.1L418 437.3L429.3 437.5L440.7 438.7L452 442.7L453.9 443.6L459.1 451.1L463.3 453.9L474.7 457.3ZM486 460.8L482.5 458.5L474.7 455.7L463.3 452.3L461.4 451.1L456.2 443.6L452 441.7L440.7 438L429.3 436.7L418 436.6L416.7 436.1L406.7 429.5L403.2 428.6L395.3 425.8L384 422.3L380.5 421.1L372.7 418.3L361.3 414.9L359.4 413.6L357.8 406.1L354.2 398.6L350 393.4L348.1 391.1L350 388.8L361.3 386.5L369.2 383.6L372.7 382.4L384 380.4L395.3 382.4L398.8 383.6L406.7 386.5L413.8 391.1L418 396.3L421.5 398.6L429.3 403.8L440.7 403.8L448.5 398.6L452 397.4L463.3 396.3L466.8 398.6L474.7 401.4L486 401.4L497.3 404.9L499.2 406.1L502.2 413.6L497.3 418.3L489.5 421.1L497.3 426.3L500.8 428.6L508.7 430.5L516.5 428.6L520 427.7L523.5 428.6L531.3 430.5L542.7 431.4L549.8 436.1L554 438.9L558.9 443.6L561.1 451.1L565.3 456.2L568.8 458.5L565.3 459.8L554 459.8L550.5 458.5L542.7 455.7L534.8 458.5L531.3 459.8L520 460.8L508.7 460.8L497.3 460.8ZM512.2 353.7L520 358.9L524.2 353.7L520 348.5L516.5 346.2L516.5 338.7L516.5 331.2L520 330.4L530.1 323.7L527.8 316.2L520 311L508.7 311L505.2 308.7L497.3 303.6L493.8 301.3L486 296.1L482.5 293.8L482.5 286.3L474.7 281.1L465.6 278.8L474.7 276.5L482.5 271.3L486 269L490.2 263.8L490.2 256.3L486 251.1L474.7 250.1L471.2 248.8L463.3 243.6L455.5 248.8L452 251.1L449 256.3L452 261.5L453.9 263.8L463.3 270L466.8 271.3L463.3 277.3L452 278.3L440.7 278.6L429.3 278.6L418 278.5L411.7 271.3L406.7 268L395.3 267L384 267L376.9 263.8L372.7 262.3L364.8 263.8L372.7 269L374.6 271.3L381 278.8L384 280.8L395.3 283.1L406.7 285L410.2 286.3L413.8 293.8L418 298.9L421.5 301.3L429.3 306.4L431.2 308.7L436.4 316.2L440.7 321.4L444.2 323.7L452 328.9L455.5 331.2L463.3 334L474.7 336.4L486 336.4L497.3 336.4L500.8 338.7L500.8 346.2L508.7 351.4ZM520 356L516.5 353.7L520 351.4L521.9 353.7ZM474.7 273.6L471.2 271.3L463.3 268.5L456.2 263.8L452 258.6L450.7 256.3L452 254L459.8 248.8L463.3 246.5L466.8 248.8L474.7 251.6L486 254L487.9 256.3L487.9 263.8L486 266.1L478.2 271.3ZM372.7 266.1L369.2 263.8L372.7 263.2L374.6 263.8ZM508.7 348.5L505.2 346.2L505.2 338.7L497.3 333.5L486 333.5L474.7 333.5L463.3 332.5L459.8 331.2L452 326L448.5 323.7L440.7 318.5L438.8 316.2L433.6 308.7L429.3 303.6L425.8 301.3L418 296.1L416.1 293.8L414.5 286.3L406.7 283.5L395.3 282L384 279.7L382.7 278.8L376.9 271.3L384 268.1L395.3 268.1L406.7 268.8L410.4 271.3L415.6 278.8L418 282.5L429.3 282.5L440.7 280.4L452 279.7L463.3 279.7L474.7 284L478.2 286.3L478.2 293.8L486 298.9L489.5 301.3L497.3 306.4L500.8 308.7L508.7 313.9L520 313.9L523.5 316.2L528.5 323.7L520 329.3L512.2 331.2L512.2 338.7L512.2 346.2ZM551.7 331.2L554 332.7L554.7 331.2L554 330.7ZM449.8 211.4L452 214.2L456.2 211.4L452 209.4ZM452 212.6L451 211.4L452 210.5L453.9 211.4ZM472.4 151.5L474.7 152.9L476.9 151.5L474.7 150Z"/>
<path fill="#ffff0f" stroke="#ffff0f" stroke-width="0.6" fill-rule="evenodd" d="M470.9 773.1L474.7 776.3L486 775.4L489.5 773.1L489.5 765.6L486 763.3L478.2 758.1L474.7 755.8L466.8 750.7L463.3 749.4L452 749.4L440.7 749.4L437.2 750.7L440.7 753L448.5 758.1L452 759.4L461.4 765.6L463.3 766.5ZM474.7 775.3L472.1 773.1L464.4 765.6L463.3 765L453 758.1L463.3 751.3L473.6 758.1L474.7 758.8L485 765.6L485 773.1ZM505.2 675.8L508.7 677L520 677L531.3 677L534.8 675.8L542.7 672.9L554 670.6L555.9 668.3L555.3 660.8L554 659.5L542.7 656.1L534.8 653.3L531.3 652.4L520 650.1L508.7 647.7L504.4 645.8L497.3 641.1L489.5 638.3L486 636L478.2 630.8L474.7 629.6L471.2 630.8L463.3 636L455.5 630.8L452 629.6L440.7 627.6L429.3 630.2L418 629.9L406.7 626.5L395.3 626.5L384 628.3L379.1 630.8L382.7 638.3L384 639.2L395.3 641.5L406.7 643L414.5 645.8L418 648.1L425.8 653.3L429.3 654.5L440.7 655.6L444.9 660.8L452 664L461.4 668.3L463.3 669.5L466.8 668.3L474.7 665.5L482.5 668.3L486 669.5L497.3 672.9ZM497.3 671.4L487 668.3L486 667.9L474.7 663.9L463.3 667.6L452 662.9L447.3 660.8L441.7 653.3L440.7 652.6L429.3 652.6L419 645.8L418 645.5L406.7 641.4L395.3 640.4L385 638.3L384 637.6L380.8 630.8L384 629.2L395.3 627.3L406.7 627.3L417.5 630.8L418 631.1L429.3 631.1L430.4 630.8L440.7 628.7L451 630.8L452 631.5L462.3 638.3L463.3 638.6L474.7 639L486 639L497.3 642.7L502.1 645.8L508.7 648.7L520 651.1L530.3 653.3L531.3 654L542.7 657.7L553 660.8L553 668.3L542.7 671.4L531.3 675.4L520 675.1L508.7 675.1ZM482.5 458.5L486 460.8L497.3 460.8L508.7 460.8L520 460.8L531.3 459.8L534.8 458.5L542.7 455.7L550.5 458.5L554 459.8L565.3 459.8L568.8 458.5L565.3 456.2L561.1 451.1L558.9 443.6L554 438.9L549.8 436.1L542.7 431.4L531.3 430.5L523.5 428.6L520 427.7L516.5 428.6L508.7 430.5L500.8 428.6L497.3 426.3L489.5 421.1L497.3 418.3L502.2 413.6L499.2 406.1L497.3 404.9L486 401.4L474.7 401.4L466.8 398.6L463.3 396.3L452 397.4L448.5 398.6L440.7 403.8L429.3 403.8L421.5 398.6L418 396.3L413.8 391.1L406.7 386.5L398.8 383.6L395.3 382.4L384 380.4L372.7 382.4L369.2 383.6L361.3 386.5L350 388.8L348.1 391.1L350 393.4L354.2 398.6L357.8 406.1L359.4 413.6L361.3 414.9L372.7 418.3L380.5 421.1L384 422.3L395.3 425.8L403.2 428.6L406.7 429.5L416.7 436.1L418 436.6L429.3 436.7L440.7 438L452 441.7L456.2 443.6L461.4 451.1L463.3 452.3L474.7 455.7ZM474.7 454.2L464.4 451.1L463.3 450.4L458.6 443.6L452 440.7L440.7 437.4L430.4 436.1L429.3 435.7L418 435.4L407.7 428.6L406.7 428.3L395.3 424.2L385 421.1L384 420.8L372.7 416.7L362.4 413.6L362.4 406.1L361.3 405.4L356.6 398.6L351 391.1L361.3 388L372.7 384L373.7 383.6L384 381.5L394.3 383.6L395.3 384L406.7 388L411.4 391.1L417.5 398.6L418 399.3L428.3 406.1L429.3 406.8L439.6 413.6L440.7 414.3L452 414.3L453 413.6L463.3 406.8L464.4 406.1L474.7 403L486 403L496.3 406.1L497.3 406.8L500.6 413.6L497.3 416.7L487 413.6L486 412.9L474.7 412.9L473.6 413.6L473.6 421.1L474.7 421.8L486 421.8L496.3 428.6L497.3 429.3L508.7 431.5L520 428.9L531.3 431.5L542.7 433L547.4 436.1L554 440.4L557.2 443.6L558.7 451.1L554 457.9L542.7 454.2L531.3 458.2L520 458.2L508.7 458.2L497.3 458.2L486 457.9ZM516.5 353.7L520 356L521.9 353.7L520 351.4ZM505.2 346.2L508.7 348.5L512.2 346.2L512.2 338.7L512.2 331.2L520 329.3L528.5 323.7L523.5 316.2L520 313.9L508.7 313.9L500.8 308.7L497.3 306.4L489.5 301.3L486 298.9L478.2 293.8L478.2 286.3L474.7 284L463.3 279.7L452 279.7L440.7 280.4L429.3 282.5L418 282.5L415.6 278.8L410.4 271.3L406.7 268.8L395.3 268.1L384 268.1L376.9 271.3L382.7 278.8L384 279.7L395.3 282L406.7 283.5L414.5 286.3L416.1 293.8L418 296.1L425.8 301.3L429.3 303.6L433.6 308.7L438.8 316.2L440.7 318.5L448.5 323.7L452 326L459.8 331.2L463.3 332.5L474.7 333.5L486 333.5L497.3 333.5L505.2 338.7ZM395.3 280.9L385 278.8L384 278.1L379.3 271.3L384 269.2L395.3 269.2L406.7 269.6L409.2 271.3L412.6 278.8L406.7 281.9ZM486 330.5L475.7 323.7L474.7 323.4L463.3 323L452 323L441.7 316.2L440.7 315.6L435.9 308.7L430.4 301.3L429.3 300.6L419 293.8L429.3 287L430.4 286.3L440.7 282.3L452 281L463.3 281L474.2 286.3L473.6 293.8L474.7 294.4L485 301.3L486 301.9L496.3 308.7L497.3 309.4L507.6 316.2L508.7 316.6L520 316.6L526.9 323.7L520 328.3L508.7 330.9L497.8 323.7L497.3 323L496.3 323.7ZM462.3 301.3L463.3 301.9L464.4 301.3L463.3 300.6ZM471.2 271.3L474.7 273.6L478.2 271.3L486 266.1L487.9 263.8L487.9 256.3L486 254L474.7 251.6L466.8 248.8L463.3 246.5L459.8 248.8L452 254L450.7 256.3L452 258.6L456.2 263.8L463.3 268.5ZM463.3 266.9L458.6 263.8L463.3 257L464.4 256.3L474.7 253.2L485 256.3L485.5 263.8L474.7 271ZM369.2 263.8L372.7 266.1L374.6 263.8L372.7 263.2ZM451 211.4L452 212.6L453.9 211.4L452 210.5Z"/>
<path fill="#ffcd00" stroke="#ffcd00" stroke-width="0.6" fill-rule="evenodd" d="M472.1 773.1L474.7 775.3L485 773.1L485 765.6L474.7 758.8L473.6 758.1L463.3 751.3L453 758.1L463.3 765L464.4 765.6ZM474.7 774.2L473.4 773.1L469.5 765.6L474.7 762.2L479.8 765.6L479.8 773.1ZM463.3 761.6L458.2 758.1L463.3 754.7L468.5 758.1ZM487 668.3L497.3 671.4L508.7 675.1L520 675.1L531.3 675.4L542.7 671.4L553 668.3L553 660.8L542.7 657.7L531.3 654L530.3 653.3L520 651.1L508.7 648.7L502.1 645.8L497.3 642.7L486 639L474.7 639L463.3 638.6L462.3 638.3L452 631.5L451 630.8L440.7 628.7L430.4 630.8L429.3 631.1L418 631.1L417.5 630.8L406.7 627.3L395.3 627.3L384 629.2L380.8 630.8L384 637.6L385 638.3L395.3 640.4L406.7 641.4L418 645.5L419 645.8L429.3 652.6L440.7 652.6L441.7 653.3L447.3 660.8L452 662.9L463.3 667.6L474.7 663.9L486 667.9ZM497.3 669.8L492.2 668.3L486 666.3L474.7 662.3L463.3 664.2L452 661.8L449.6 660.8L446.8 653.3L440.7 649.2L429.3 649.2L424.2 645.8L418 643.8L406.7 639.9L395.3 639.4L390.2 638.3L384 634.2L382.4 630.8L384 630L395.3 628.1L406.7 628.1L415 630.8L418 632.8L429.3 632.8L435.5 630.8L440.7 629.7L445.8 630.8L452 634.9L457.2 638.3L463.3 640.3L474.7 642.4L486 642.4L497.3 644.2L499.7 645.8L508.7 649.8L520 652.2L525.2 653.3L531.3 657.4L542.7 659.2L547.8 660.8L547.8 668.3L542.7 669.8L531.3 673.8L520 671.7L508.7 671.7ZM464.4 451.1L474.7 454.2L486 457.9L497.3 458.2L508.7 458.2L520 458.2L531.3 458.2L542.7 454.2L554 457.9L558.7 451.1L557.2 443.6L554 440.4L547.4 436.1L542.7 433L531.3 431.5L520 428.9L508.7 431.5L497.3 429.3L496.3 428.6L486 421.8L474.7 421.8L473.6 421.1L473.6 413.6L474.7 412.9L486 412.9L487 413.6L497.3 416.7L500.6 413.6L497.3 406.8L496.3 406.1L486 403L474.7 403L464.4 406.1L463.3 406.8L453 413.6L452 414.3L440.7 414.3L439.6 413.6L429.3 406.8L428.3 406.1L418 399.3L417.5 398.6L411.4 391.1L406.7 388L395.3 384L394.3 383.6L384 381.5L373.7 383.6L372.7 384L361.3 388L351 391.1L356.6 398.6L361.3 405.4L362.4 406.1L362.4 413.6L372.7 416.7L384 420.8L385 421.1L395.3 424.2L406.7 428.3L407.7 428.6L418 435.4L429.3 435.7L430.4 436.1L440.7 437.4L452 440.7L458.6 443.6L463.3 450.4ZM474.7 452.6L469.5 451.1L463.3 447L461 443.6L452 439.6L440.7 436.7L435.5 436.1L429.3 434.1L418 432L412.8 428.6L406.7 426.6L395.3 422.7L390.2 421.1L384 419.1L372.7 415.2L367.5 413.6L367.5 406.1L361.3 402L359 398.6L356.2 391.1L361.3 389.6L372.7 385.6L378.8 383.6L384 382.6L389.2 383.6L395.3 385.6L406.7 389.6L409 391.1L415 398.6L418 402.7L423.2 406.1L429.3 410.2L434.5 413.6L440.7 417.7L452 417.7L458.2 413.6L463.3 410.2L468.5 413.6L468.5 421.1L474.7 425.2L486 425.2L491.2 428.6L497.3 432.7L508.7 432.5L520 430.5L531.3 432.5L542.7 434.5L545 436.1L554 442L555.6 443.6L556.4 451.1L554 454.5L542.7 452.6L531.3 456.6L520 456.6L508.7 456.6L497.3 456.6L486 454.5ZM474.7 409.5L469.5 406.1L474.7 404.6L486 404.6L491.2 406.1L486 409.5ZM497.3 415.2L492.2 413.6L497.3 410.2L499 413.6ZM475.7 323.7L486 330.5L496.3 323.7L497.3 323L497.8 323.7L508.7 330.9L520 328.3L526.9 323.7L520 316.6L508.7 316.6L507.6 316.2L497.3 309.4L496.3 308.7L486 301.9L485 301.3L474.7 294.4L473.6 293.8L474.2 286.3L463.3 281L452 281L440.7 282.3L430.4 286.3L429.3 287L419 293.8L429.3 300.6L430.4 301.3L435.9 308.7L440.7 315.6L441.7 316.2L452 323L463.3 323L474.7 323.4ZM486 327.1L480.8 323.7L474.7 321.8L463.3 319.6L452 319.6L446.8 316.2L440.7 312.1L438.3 308.7L435.5 301.3L429.3 297.2L424.2 293.8L429.3 290.4L435.5 286.3L440.7 284.3L452 282.2L463.3 282.2L471.7 286.3L468.5 293.8L463.3 297.2L457.2 301.3L463.3 305.3L469.5 301.3L474.7 297.8L479.8 301.3L486 305.3L491.2 308.7L497.3 312.8L502.5 316.2L508.7 318.2L520 318.2L525.4 323.7L520 327.3L508.7 329.3L500.3 323.7L497.3 319.6L491.2 323.7ZM463.3 301.9L462.3 301.3L463.3 300.6L464.4 301.3ZM385 278.8L395.3 280.9L406.7 281.9L412.6 278.8L409.2 271.3L406.7 269.6L395.3 269.2L384 269.2L379.3 271.3L384 278.1ZM395.3 279.9L390.2 278.8L384 274.7L381.6 271.3L384 270.2L395.3 270.2L406.7 270.5L407.9 271.3L409.6 278.8L406.7 280.3ZM458.6 263.8L463.3 266.9L474.7 271L485.5 263.8L485 256.3L474.7 253.2L464.4 256.3L463.3 257ZM463.3 265.4L461 263.8L463.3 260.4L469.5 256.3L474.7 254.8L479.8 256.3L483 263.8L474.7 269.3Z"/>
<path fill="#ff9b00" stroke="#ff9b00" stroke-width="0.6" fill-rule="evenodd" d="M473.4 773.1L474.7 774.2L479.8 773.1L479.8 765.6L474.7 762.2L469.5 765.6ZM458.2 758.1L463.3 761.6L468.5 758.1L463.3 754.7ZM492.2 668.3L497.3 669.8L508.7 671.7L520 671.7L531.3 673.8L542.7 669.8L547.8 668.3L547.8 660.8L542.7 659.2L531.3 657.4L525.2 653.3L520 652.2L508.7 649.8L499.7 645.8L497.3 644.2L486 642.4L474.7 642.4L463.3 640.3L457.2 638.3L452 634.9L445.8 630.8L440.7 629.7L435.5 630.8L429.3 632.8L418 632.8L415 630.8L406.7 628.1L395.3 628.1L384 630L382.4 630.8L384 634.2L390.2 638.3L395.3 639.4L406.7 639.9L418 643.8L424.2 645.8L429.3 649.2L440.7 649.2L446.8 653.3L449.6 660.8L452 661.8L463.3 664.2L474.7 662.3L486 666.3ZM531.3 672.2L520 668.3L520 668.3L508.7 668.3L497.3 668.3L486 664.7L474.7 660.8L474.7 660.8L463.3 660.8L452 653.3L452 645.8L463.3 641.9L474.7 645.8L474.7 645.8L486 645.8L497.3 645.8L508.7 650.8L520 653.3L520 653.3L531.3 660.8L531.3 660.8L542.7 668.3ZM418 642.2L406.7 638.3L406.7 638.3L395.3 638.3L384 630.8L395.3 628.9L406.7 628.9L412.6 630.8L418 634.4L429.3 634.4L440.7 638.3L429.3 645.8ZM469.5 451.1L474.7 452.6L486 454.5L497.3 456.6L508.7 456.6L520 456.6L531.3 456.6L542.7 452.6L554 454.5L556.4 451.1L555.6 443.6L554 442L545 436.1L542.7 434.5L531.3 432.5L520 430.5L508.7 432.5L497.3 432.7L491.2 428.6L486 425.2L474.7 425.2L468.5 421.1L468.5 413.6L463.3 410.2L458.2 413.6L452 417.7L440.7 417.7L434.5 413.6L429.3 410.2L423.2 406.1L418 402.7L415 398.6L409 391.1L406.7 389.6L395.3 385.6L389.2 383.6L384 382.6L378.8 383.6L372.7 385.6L361.3 389.6L356.2 391.1L359 398.6L361.3 402L367.5 406.1L367.5 413.6L372.7 415.2L384 419.1L390.2 421.1L395.3 422.7L406.7 426.6L412.8 428.6L418 432L429.3 434.1L435.5 436.1L440.7 436.7L452 439.6L461 443.6L463.3 447ZM497.3 455L486 451.1L486 451.1L474.7 451.1L463.3 443.6L463.3 443.6L452 438.6L440.7 436.1L440.7 436.1L429.3 432.5L418 428.6L418 428.6L406.7 425L395.3 421.1L395.3 421.1L384 417.5L372.7 413.6L372.7 406.1L372.7 406.1L361.3 398.6L361.3 391.1L372.7 387.2L384 383.6L395.3 387.2L406.7 391.1L406.7 391.1L412.6 398.6L418 406.1L418 406.1L429.3 413.6L429.3 421.1L429.3 421.1L440.7 421.1L452 421.1L463.3 421.1L474.7 428.6L474.7 428.6L486 436.1L486 436.1L497.3 436.1L497.3 436.1L508.7 433.6L520 432.2L531.3 433.6L542.7 436.1L542.7 436.1L554 443.6L542.7 451.1L542.7 451.1L531.3 455L520 455L508.7 455ZM492.2 413.6L497.3 415.2L499 413.6L497.3 410.2ZM469.5 406.1L474.7 409.5L486 409.5L491.2 406.1L486 404.6L474.7 404.6ZM480.8 323.7L486 327.1L491.2 323.7L497.3 319.6L500.3 323.7L508.7 329.3L520 327.3L525.4 323.7L520 318.2L508.7 318.2L502.5 316.2L497.3 312.8L491.2 308.7L486 305.3L479.8 301.3L474.7 297.8L469.5 301.3L463.3 305.3L457.2 301.3L463.3 297.2L468.5 293.8L471.7 286.3L463.3 282.2L452 282.2L440.7 284.3L435.5 286.3L429.3 290.4L424.2 293.8L429.3 297.2L435.5 301.3L438.3 308.7L440.7 312.1L446.8 316.2L452 319.6L463.3 319.6L474.7 321.8ZM508.7 327.6L502.8 323.7L508.7 319.8L520 319.8L523.8 323.7L520 326.2ZM440.7 301.3L429.3 293.8L440.7 286.3L440.7 286.3L452 283.4L463.3 283.4L469.2 286.3L463.3 293.8L463.3 293.8L452 301.3ZM452 316.2L440.7 308.7L452 301.3L463.3 308.7ZM474.7 320.1L463.3 316.2L474.7 308.7L486 308.7L497.3 316.2L486 323.7ZM390.2 278.8L395.3 279.9L406.7 280.3L409.6 278.8L407.9 271.3L406.7 270.5L395.3 270.2L384 270.2L381.6 271.3L384 274.7ZM461 263.8L463.3 265.4L474.7 269.3L483 263.8L479.8 256.3L474.7 254.8L469.5 256.3L463.3 260.4ZM474.7 267.7L463.3 263.8L474.7 256.3L480.6 263.8Z"/>
<path fill="#ff6400" stroke="#ff6400" stroke-width="0.6" fill-rule="evenodd" d="M520 668.3L531.3 672.2L542.7 668.3L531.3 660.8L531.3 660.8L520 653.3L520 653.3L508.7 650.8L497.3 645.8L486 645.8L474.7 645.8L474.7 645.8L463.3 641.9L452 645.8L452 653.3L463.3 660.8L474.7 660.8L474.7 660.8L486 664.7L497.3 668.3L508.7 668.3L520 668.3ZM531.3 670.5L524.7 668.3L520 665.1L508.7 665.1L497.3 665.1L486 663.1L479.4 660.8L474.7 657.7L463.3 657.7L456.7 653.3L456.7 645.8L463.3 643.5L469.9 645.8L474.7 648.9L486 648.9L497.3 648.9L508.7 651.8L515.3 653.3L520 656.4L526.6 660.8L531.3 663.9L537.9 668.3ZM406.7 638.3L418 642.2L429.3 645.8L440.7 638.3L429.3 634.4L418 634.4L412.6 630.8L406.7 628.9L395.3 628.9L384 630.8L395.3 638.3L406.7 638.3ZM418 640.6L411.4 638.3L418 636L429.3 636L435.9 638.3L429.3 642.7ZM395.3 635.2L388.7 630.8L395.3 629.7L406.7 629.7L410.1 630.8L406.7 635.2ZM486 451.1L497.3 455L508.7 455L520 455L531.3 455L542.7 451.1L542.7 451.1L554 443.6L542.7 436.1L542.7 436.1L531.3 433.6L520 432.2L508.7 433.6L497.3 436.1L497.3 436.1L486 436.1L486 436.1L474.7 428.6L474.7 428.6L463.3 421.1L452 421.1L440.7 421.1L429.3 421.1L429.3 421.1L429.3 413.6L418 406.1L418 406.1L412.6 398.6L406.7 391.1L406.7 391.1L395.3 387.2L384 383.6L372.7 387.2L361.3 391.1L361.3 398.6L372.7 406.1L372.7 406.1L372.7 413.6L384 417.5L395.3 421.1L395.3 421.1L406.7 425L418 428.6L418 428.6L429.3 432.5L440.7 436.1L440.7 436.1L452 438.6L463.3 443.6L463.3 443.6L474.7 451.1L486 451.1ZM497.3 453.3L490.7 451.1L486 447.9L474.7 447.9L468.1 443.6L463.3 440.4L452 437.5L445.4 436.1L440.7 433L429.3 430.9L422.7 428.6L418 425.5L406.7 423.4L400.1 421.1L395.3 418L384 415.9L377.4 413.6L377.4 406.1L372.7 403L366.1 398.6L366.1 391.1L372.7 388.9L384 386.8L395.3 388.9L401.9 391.1L406.7 394.3L410.1 398.6L413.3 406.1L418 409.2L424.6 413.6L424.6 421.1L429.3 424.2L440.7 424.2L452 424.2L463.3 424.2L469.9 428.6L474.7 431.7L481.3 436.1L486 439.2L497.3 439.2L502.1 436.1L508.7 434.6L520 433.8L531.3 434.6L537.9 436.1L542.7 439.2L549.3 443.6L542.7 447.9L537.9 451.1L531.3 453.3L520 453.3L508.7 453.3ZM502.8 323.7L508.7 327.6L520 326.2L523.8 323.7L520 319.8L508.7 319.8ZM508.7 326L505.2 323.7L508.7 321.4L520 321.4L522.2 323.7L520 325.2ZM463.3 316.2L474.7 320.1L486 323.7L497.3 316.2L486 308.7L474.7 308.7ZM474.7 318.5L468.1 316.2L474.7 311.9L486 311.9L492.6 316.2L486 320.6ZM440.7 308.7L452 316.2L463.3 308.7L452 301.3ZM452 313.1L445.4 308.7L452 304.4L458.6 308.7ZM429.3 293.8L440.7 301.3L452 301.3L463.3 293.8L463.3 293.8L469.2 286.3L463.3 283.4L452 283.4L440.7 286.3L440.7 286.3ZM440.7 298.1L434.1 293.8L440.7 289.4L445.4 286.3L452 284.6L463.3 284.6L466.8 286.3L463.3 290.6L458.6 293.8L452 298.1ZM463.3 263.8L474.7 267.7L480.6 263.8L474.7 256.3ZM474.7 266.1L468.1 263.8L474.7 259.4L478.1 263.8Z"/>
<path fill="#ff3200" stroke="#ff3200" stroke-width="0.6" fill-rule="evenodd" d="M524.7 668.3L531.3 670.5L537.9 668.3L531.3 663.9L526.6 660.8L520 656.4L515.3 653.3L508.7 651.8L497.3 648.9L486 648.9L474.7 648.9L469.9 645.8L463.3 643.5L456.7 645.8L456.7 653.3L463.3 657.7L474.7 657.7L479.4 660.8L486 663.1L497.3 665.1L508.7 665.1L520 665.1ZM531.3 668.9L529.4 668.3L531.3 667L533.2 668.3ZM486 661.4L484.1 660.8L474.7 654.5L463.3 654.5L461.4 653.3L461.4 645.8L463.3 645.1L465.2 645.8L474.7 652L486 652L497.3 652L508.7 652.9L510.6 653.3L520 659.5L521.9 660.8L520 662L508.7 662L497.3 662ZM411.4 638.3L418 640.6L429.3 642.7L435.9 638.3L429.3 636L418 636ZM418 639L416.1 638.3L418 637.7L429.3 637.7L431.2 638.3L429.3 639.6ZM388.7 630.8L395.3 635.2L406.7 635.2L410.1 630.8L406.7 629.7L395.3 629.7ZM395.3 632.1L393.4 630.8L395.3 630.5L406.7 630.5L407.7 630.8L406.7 632.1ZM490.7 451.1L497.3 453.3L508.7 453.3L520 453.3L531.3 453.3L537.9 451.1L542.7 447.9L549.3 443.6L542.7 439.2L537.9 436.1L531.3 434.6L520 433.8L508.7 434.6L502.1 436.1L497.3 439.2L486 439.2L481.3 436.1L474.7 431.7L469.9 428.6L463.3 424.2L452 424.2L440.7 424.2L429.3 424.2L424.6 421.1L424.6 413.6L418 409.2L413.3 406.1L410.1 398.6L406.7 394.3L401.9 391.1L395.3 388.9L384 386.8L372.7 388.9L366.1 391.1L366.1 398.6L372.7 403L377.4 406.1L377.4 413.6L384 415.9L395.3 418L400.1 421.1L406.7 423.4L418 425.5L422.7 428.6L429.3 430.9L440.7 433L445.4 436.1L452 437.5L463.3 440.4L468.1 443.6L474.7 447.9L486 447.9ZM497.3 451.7L495.4 451.1L486 444.8L474.7 444.8L472.8 443.6L463.3 437.3L452 436.5L450.1 436.1L440.7 429.8L429.3 429.2L427.4 428.6L429.3 427.3L440.7 427.3L452 427.3L463.3 427.3L465.2 428.6L474.7 434.8L476.6 436.1L486 442.3L497.3 442.3L506.8 436.1L508.7 435.7L520 435.4L531.3 435.7L533.2 436.1L542.7 442.3L544.6 443.6L542.7 444.8L533.2 451.1L531.3 451.7L520 451.7L508.7 451.7ZM406.7 421.7L404.8 421.1L395.3 414.9L384 414.3L382.1 413.6L382.1 406.1L372.7 399.9L370.8 398.6L370.8 391.1L372.7 390.5L384 389.9L395.3 390.5L397.2 391.1L406.7 397.4L407.7 398.6L408.6 406.1L418 412.4L419.9 413.6L419.9 421.1L418 422.3ZM505.2 323.7L508.7 326L520 325.2L522.2 323.7L520 321.4L508.7 321.4ZM508.7 324.4L507.7 323.7L508.7 323.1L520 323.1L520.6 323.7L520 324.1ZM468.1 316.2L474.7 318.5L486 320.6L492.6 316.2L486 311.9L474.7 311.9ZM474.7 316.9L472.8 316.2L474.7 315L486 315L487.9 316.2L486 317.5ZM445.4 308.7L452 313.1L458.6 308.7L452 304.4ZM452 310L450.1 308.7L452 307.5L453.9 308.7ZM434.1 293.8L440.7 298.1L452 298.1L458.6 293.8L463.3 290.6L466.8 286.3L463.3 284.6L452 284.6L445.4 286.3L440.7 289.4ZM440.7 295L438.8 293.8L440.7 292.5L450.1 286.3L452 285.8L463.3 285.8L464.3 286.3L463.3 287.5L453.9 293.8L452 295ZM468.1 263.8L474.7 266.1L478.1 263.8L474.7 259.4ZM474.7 264.5L472.8 263.8L474.7 262.6L475.7 263.8Z"/>
<path fill="#ff0000" stroke="#ff0000" stroke-width="0.6" fill-rule="evenodd" d="M529.4 668.3L531.3 668.9L533.2 668.3L531.3 667ZM484.1 660.8L486 661.4L497.3 662L508.7 662L520 662L521.9 660.8L520 659.5L510.6 653.3L508.7 652.9L497.3 652L486 652L474.7 652L465.2 645.8L463.3 645.1L461.4 645.8L461.4 653.3L463.3 654.5L474.7 654.5ZM416.1 638.3L418 639L429.3 639.6L431.2 638.3L429.3 637.7L418 637.7ZM393.4 630.8L395.3 632.1L406.7 632.1L407.7 630.8L406.7 630.5L395.3 630.5ZM495.4 451.1L497.3 451.7L508.7 451.7L520 451.7L531.3 451.7L533.2 451.1L542.7 444.8L544.6 443.6L542.7 442.3L533.2 436.1L531.3 435.7L520 435.4L508.7 435.7L506.8 436.1L497.3 442.3L486 442.3L476.6 436.1L474.7 434.8L465.2 428.6L463.3 427.3L452 427.3L440.7 427.3L429.3 427.3L427.4 428.6L429.3 429.2L440.7 429.8L450.1 436.1L452 436.5L463.3 437.3L472.8 443.6L474.7 444.8L486 444.8ZM404.8 421.1L406.7 421.7L418 422.3L419.9 421.1L419.9 413.6L418 412.4L408.6 406.1L407.7 398.6L406.7 397.4L397.2 391.1L395.3 390.5L384 389.9L372.7 390.5L370.8 391.1L370.8 398.6L372.7 399.9L382.1 406.1L382.1 413.6L384 414.3L395.3 414.9ZM507.7 323.7L508.7 324.4L520 324.1L520.6 323.7L520 323.1L508.7 323.1ZM472.8 316.2L474.7 316.9L486 317.5L487.9 316.2L486 315L474.7 315ZM450.1 308.7L452 310L453.9 308.7L452 307.5ZM438.8 293.8L440.7 295L452 295L453.9 293.8L463.3 287.5L464.3 286.3L463.3 285.8L452 285.8L450.1 286.3L440.7 292.5ZM472.8 263.8L474.7 264.5L475.7 263.8L474.7 262.6Z"/>
<path fill="none" stroke="#000" stroke-width="1.15" stroke-linejoin="round" d="M535.6 795.6L542.7 790.9L546.9 788.1L551.1 780.6L551.7 773.1L551.9 765.6L554 763.8L565.3 763.8L573.9 758.1L574.9 750.7L569.6 743.2L565.3 740.4L554 738.1L542.7 740.4L531.3 740.4L520 738L516.6 735.7L517.1 728.2L512.9 720.7L517.2 713.2L520 710.8L531.3 708.5L542.7 708.5L546.9 705.7L546.9 698.2L551 690.7L554 686.1L558.2 683.2L561.8 675.8L564 668.3L562.9 660.8L562.2 653.3L554 647.8L552.2 645.8L546.9 638.3L542.7 635.5L531.3 632.2L528.9 630.8L530 623.3L531.3 622L534.8 623.3L542.7 628.5L554 626.1L565.3 626.1L569.6 623.3L565.3 620.5L562.5 615.8L558.2 608.3L554 605.5L552.5 600.9L552.3 593.4L542.7 587L531.3 586.6L524.2 585.9L531.3 583.7L542.7 584.1L554 584.1L562.6 578.4L554 572.7L551.4 570.9L551.7 563.4L551.8 555.9L554 551.2L558.2 548.4L565.3 546.2L573.2 540.9L573.5 533.4L573.1 526L565.3 520.8L554 520.6L550.9 518.5L551.7 511L551.8 503.5L552 496L554 491.3L558.2 488.5L565.3 486.5L573.7 481L574.2 473.5L573.4 466L565.3 460.7L562.3 458.5L565.3 453.9L569.6 451.1L573.4 443.6L565.3 438.3L564 436.1L563.6 428.6L554 422.2L551.2 421.1L542.7 415.5L539.2 413.6L539.9 406.1L539.4 398.6L539.1 391.1L542.7 386.5L546.9 383.6L550.6 376.2L551.1 368.7L551 361.2L551.3 353.7L551.1 346.2L550.6 338.7L552.3 331.2L551.2 323.7L550.3 316.2L551 308.7L550.3 301.3L546.9 293.8L542.7 291L531.3 287.8L520 287.4L516.7 286.3L520 284.5L528.6 278.8L520 273.1L508.7 272.7L501.6 271.3L505.6 263.8L501.6 256.3L497.3 253.5L494.2 248.8L486 243.4L474.7 242.6L463.3 242.3L460.6 241.3L452 235.7L448.5 233.8L440.7 228.7L432.9 233.8L432.1 241.3L432.3 248.8L440.7 254.3L442.1 256.3L452 262.8L453.7 263.8L459.1 271.3L452 273.4L440.7 276L436.4 278.8L429.3 281L418 280.7L414.5 278.8L415.1 271.3L406.7 265.7L398.2 271.3L395.3 276L391.1 278.8L391.1 286.3L395.3 289.1L399.1 293.8L406.7 298.8L418 296.6L421.2 301.3L429.3 306.6L431.2 308.7L432.5 316.2L433 323.7L440.7 328.8L443.1 331.2L440.7 333L432.1 338.7L429.3 339.8L419.6 346.2L418 348.2L409.7 353.7L406.7 354.8L399.6 353.7L395.3 350.9L384 348.5L380.8 346.2L372.7 340.8L369.9 338.7L361.3 333L350 335.9L345.8 338.7L338.7 341.2L331.1 346.2L327.3 347.6L318.1 353.7L327.3 359.8L330.3 361.2L338.7 366.7L350 367.2L361.3 367.1L364.8 368.7L361.3 370.4L350 371L338.7 373.3L334.4 376.2L327.3 380.8L323.1 383.6L318.9 391.1L327.3 396.7L330.8 398.6L338.7 403.8L350 405.1L351.4 406.1L361.3 412.7L362.8 413.6L372.7 420.1L373.6 421.1L384 427.9L385.5 428.6L395.3 435.1L397.8 436.1L406.7 442L415.6 436.1L418 435.5L421.3 436.1L429.3 441.4L440.7 442.8L442.5 443.6L442.7 451.1L452 457.2L455.1 458.5L453.4 466L452 468L443.6 473.5L442.1 481L442.9 488.5L442.8 496L452 502.1L453.6 503.5L454.8 511L452 515.7L440.7 515.7L429.3 515.7L418 515.7L413.8 518.5L413.8 526L406.7 528.1L395.3 527.1L391.9 526L384 520.7L381.6 518.5L384 513.8L388.2 511L384 508.2L379.8 511L372.7 512.5L361.3 513L353.1 518.5L352.7 526L357.1 533.4L361.3 536.3L365 540.9L372.7 546L384 546.3L395.3 546.6L406.7 546.6L409.8 548.4L413.8 555.9L406.7 557L397 563.4L395.3 568.1L388.2 563.4L384 560.6L372.7 557.9L361.3 557.9L350 558.2L348.3 555.9L338.7 549.5L327.3 550.1L316 550.2L313.2 548.4L304.7 542.8L297.6 540.9L293.3 538.1L289.1 540.9L289.1 548.4L293.3 551.2L296.7 555.9L304.7 561.2L307.3 563.4L307.7 570.9L316 576.4L317.6 578.4L318.9 585.9L317.7 593.4L318.9 600.9L327.3 606.4L334.4 608.3L338.7 611.2L350 613.7L361.3 611.2L365.6 608.3L372.7 606.5L381.2 600.9L384 599.8L395.3 599.1L406.7 599L408.8 600.9L408.5 608.3L409.6 615.8L418 621.4L425.1 623.3L418 628L406.7 625.5L395.3 625.6L387.5 630.8L395.3 636L406.7 636.1L410.2 638.3L413.8 645.8L418 648.6L425.1 653.3L429.3 656.1L432.6 660.8L429.3 665.5L418 665.5L413.8 668.3L418 671.1L429.3 671.1L433.6 668.3L440.7 666.1L442.4 668.3L443.8 675.8L452 681.2L455.6 683.2L463.3 688.4L467.1 690.7L470.4 698.2L470.4 705.7L463.3 706.6L461.2 705.7L452 699.6L449.3 698.2L440.7 692.5L429.3 692.7L418 695.4L415.8 690.7L410.9 683.2L406.7 680.4L395.3 680.4L391.1 683.2L384 687.9L372.7 687.9L361.3 687.9L359.3 683.2L350 677.1L338.7 677.3L329.6 683.2L328.5 690.7L328.9 698.2L329.1 705.7L334.4 713.2L338.7 716L350 719.7L357.1 720.7L352.7 728.2L361.3 733.9L372.7 734.2L379.8 735.7L372.7 740.4L361.3 740.4L350 740.4L345.8 743.2L345.8 750.7L350 753.5L357.1 758.1L361.3 761L368.4 765.6L372.7 768.4L384 771.3L387.1 773.1L384 774.1L372.7 774.3L361.3 774.4L350 774.6L338.7 774.5L327.3 774.6L316 774.8L307.1 780.6L316 786.5L319.3 788.1L327.3 793.4L329.4 795.6M282 778.2L293.3 778.6L301.6 773.1L297.6 765.6L293.3 762.8L282 762.8M418 738.1L416.5 735.7L418 731L425.1 735.7L418 738.1M341.9 668.3L350 673.6L358.1 668.3L358.8 660.8L350 654.9L338.7 655.7L330.9 660.8L338.7 665.9L341.9 668.3M406.7 580.4L405.1 578.4L399.6 570.9L406.7 569.8L418 569.4L419.7 570.9L419.4 578.4L418 580.3L406.7 580.4M583.8 518.5L588 521.3L592.2 518.5L597.4 511L588 504.8L576.7 505.2L568 511L576.7 516.7L583.8 518.5M387 338.7L395.3 344.2L403.6 338.7L395.3 333.2L387 338.7M527.1 256.3L531.3 259.1L535.6 256.3L542.7 254.3L554 254.5L565.3 254.5L567 256.3L576.7 262.7L586.4 256.3L585.9 248.8L576.7 242.7L574.2 241.3L576.7 236.7L580.9 233.8L580.9 226.4L576.7 223.5L565.3 223.5L554 223.5L542.7 220.7L531.3 220.9L520 220L508.7 221L497.3 221L489.3 226.4L497.3 231.7L501 233.8L508.7 238.9L520 240L522.1 241.3L531.3 247.4L534.4 248.8L531.3 253.5L527.1 256.3M459.1 226.4L463.3 229.2L474.7 231.6L482.7 226.4L478.9 218.9L474.7 216.1L463.3 216.1L459.1 218.9L459.1 226.4M515.8 188.9L520 191.7L524.2 188.9L531.3 184.2L535.6 181.4L535.6 173.9L531.3 171.1L520 171.1L515.8 173.9L515.8 181.4L515.8 188.9M561.1 188.9L565.3 191.7L569.6 188.9L565.3 186.1L561.1 188.9M568 166.4L576.7 172.2L588 172.1L596.6 166.4L599.3 164.6L610.7 161.7L614.9 158.9L610.7 156.1L606.9 151.5L599.3 146.5L591.8 151.5L588 152.9L576.7 152.8L567.4 158.9L568 166.4M578.9 114L580.4 121.5L588 126.5L595.6 121.5L597.1 114M606.4 114L610.7 116.8L614.9 114M393.1 795.6L395.3 794.4L397.3 795.6M449.4 795.6L452 794.2L454.7 795.6M529.5 795.6L531.3 794.3L540.6 788.1L542.7 786.8L548.1 780.6L549.4 773.1L549.7 765.6L554 761.9L565.3 762L571.2 758.1L573.2 750.7L565.3 743.8L562.2 743.2L554 740.6L545.8 743.2L542.7 743.7L531.3 744.6L528.4 743.2L520 740.4L513.3 735.7L514.3 728.2L508.7 722L507.7 720.7L508.7 719.5L514.5 713.2L520 708.5L528.4 705.7L531.3 704.5L540.8 698.2L542.7 696.9L548 690.7L553 683.2L554 681.4L558.3 675.8L562.7 668.3L560.5 660.8L559.1 653.3L554 649.9L550.4 645.8L542.7 638.9L541.4 638.3L531.3 633.6L526.6 630.8L528.6 623.3L531.3 620.7L538.3 623.3L542.7 626.2L551.3 623.3L554 622.1L559.6 615.8L554 609.6L552.9 608.3L551 600.9L550.6 593.4L542.7 588.1L531.3 587.4L520 586.3L508.7 586.4L507.4 585.9L508.7 584.4L520 584.2L531.3 581.5L542.7 582.3L554 582.3L559.9 578.4L554 574.5L548.8 570.9L549.4 563.4L549.6 555.9L552.7 548.4L554 546.6L565.3 543.9L569.8 540.9L570.4 533.4L569.6 526L565.3 523.2L554 522.8L547.8 518.5L549.3 511L549.5 503.5L550 496L553 488.5L554 487.8L565.3 484.6L570.7 481L571.7 473.5L570.1 466L565.3 462.9L559.3 458.5L564.6 451.1L565.3 449.4L570 443.6L565.3 440.5L562.7 436.1L561.9 428.6L554 423.4L548.4 421.1L542.7 417.3L535.7 413.6L537.2 406.1L536.1 398.6L535.5 391.1L540.3 383.6L542.7 381.9L547.1 376.2L548.2 368.7L547.9 361.2L548.6 353.7L548.3 346.2L547.1 338.7L550.6 331.2L548.3 323.7L546.6 316.2L548 308.7L546.7 301.3L542.7 295.8L541.3 293.8L531.3 289.4L520 288.5L513.3 286.3L520 282.7L525.9 278.8L520 274.9L508.7 274L497.3 272L486 272.3L474.7 272.6L463.3 272.2L452 275.6L443.1 278.8L440.7 279.3L429.3 283.3L418 282.6L410.9 278.8L412.2 271.3L406.7 267.6L401.1 271.3L398.1 278.8L397.1 286.3L402.8 293.8L406.7 296.3L414.8 293.8L418 292.4L419 293.8L424.4 301.3L429.3 304.5L433.1 308.7L435.7 316.2L436.7 323.7L440.7 326.4L445.5 331.2L440.7 334.8L434.8 338.7L429.3 340.8L421.2 346.2L418 350.2L412.7 353.7L406.7 355.9L395.3 355.3L392.7 353.7L384 350.7L377.5 346.2L372.7 343L367.2 338.7L361.3 334.9L351.8 338.7L350 339.7L338.7 343.7L334.8 346.2L327.3 348.9L320.1 353.7L327.3 358.4L333.2 361.2L338.7 364.8L350 365.7L361.3 365.5L368.3 368.7L361.3 372.2L350 373.3L341.5 376.2L338.7 376.9L328.5 383.6L327.3 385L321.8 391.1L327.3 394.8L334.3 398.6L338.7 401.5L350 404L352.8 406.1L361.3 411.8L364.3 413.6L372.7 419.2L374.6 421.1L384 427.3L387 428.6L395.3 434.1L400.2 436.1L406.7 440.4L413.2 436.1L418 434.9L424.5 436.1L429.3 439.3L440.7 442.1L444.3 443.6L444.7 451.1L452 455.9L458.1 458.5L454.8 466L452 469.9L446.5 473.5L443.6 481L445.2 488.5L445 496L452 500.6L455.2 503.5L457.6 511L454.6 518.5L452 520.5L440.7 519.6L431.1 526L429.3 527.3L418 527.1L406.7 530.2L395.3 528.2L388.5 526L384 523L379.2 518.5L372.7 514.1L361.3 515.1L356.2 518.5L355.3 526L361.3 532.3L363.8 533.4L368.7 540.9L372.7 543.6L384 544.1L395.3 544.7L406.7 544.7L413 548.4L418 554.4L420 555.9L418 556.8L406.7 558.1L398.6 563.4L406.7 568.7L418 567.9L421.4 570.9L420.9 578.4L418 582.1L406.7 582.5L403.5 578.4L395.3 571.4L393.8 570.9L384 564.4L381.9 563.4L372.7 559.9L361.3 559.9L350 560.5L346.7 555.9L338.7 550.6L327.3 551.8L316 551.9L310.4 548.4L304.7 544.7L295.2 548.4L300.2 555.9L304.7 558.9L309.9 563.4L310.8 570.9L316 574.4L319.2 578.4L321.8 585.9L319.4 593.4L321.8 600.9L327.3 604.5L338.7 607.4L341 608.3L350 611.6L359 608.3L361.3 607.1L372.7 604.6L378.3 600.9L384 598.7L395.3 597.3L406.7 597.1L411 600.9L410.3 608.3L412.5 615.8L418 619.5L429.3 621.7L432.2 623.3L429.3 624.9L420.4 630.8L418 632.6L415.6 630.8L406.7 627.6L395.3 627.9L390.9 630.8L395.3 633.7L406.7 634L413.7 638.3L418 644L420.4 645.8L429.3 651.7L431.2 653.3L435.9 660.8L440.7 663.9L444.2 668.3L446.9 675.8L452 679.1L459.2 683.2L463.3 686L470.8 690.7L474.7 696.1L477.2 698.2L476.4 705.7L474.7 706.1L463.3 707.5L459.1 705.7L452 701.1L446.6 698.2L440.7 694.3L429.3 694.8L420.1 698.2L418 699.2L406.7 698.9L395.3 698.8L394.3 698.2L395.3 697.7L406.7 697.4L413.5 690.7L406.7 684.1L395.3 683.8L384.9 690.7L384 691.4L372.7 691.5L362.5 698.2L361.3 699.3L360.2 698.2L360.7 690.7L357.3 683.2L350 678.4L338.7 678.8L331.9 683.2L329.7 690.7L330.5 698.2L330.8 705.7L338.7 712.6L339.5 713.2L350 718.6L361.3 719.6L372.7 719.8L384 720.1L386.1 720.7L384 721.4L372.7 721.5L361.3 721.9L355.5 728.2L361.3 732.1L372.7 732.8L384 735L385.2 735.7L386.1 743.2L384 744.9L375.3 750.7L372.7 751.5L362.7 758.1L372.7 764.8L374.5 765.6L384 769.5L390.1 773.1L384 775.1L372.7 775.5L361.3 775.6L350 776.1L338.7 775.9L327.3 776.2L316 776.4L309.6 780.6L316 784.8L322.6 788.1L327.3 791.2L331.5 795.6M282 775.7L293.3 776.5L298.5 773.1L293.3 767.1L282 767.7M418 766.2L416.2 765.6L418 764L419.9 765.6L418 766.2M418 740.6L414.9 735.7L415 728.2L418 726.7L419.8 728.2L429.3 734.5L440.7 733.8L442.6 735.7L440.7 736.2L429.3 737.4L418 740.6M345.2 668.3L350 671.5L354.8 668.3L356.3 660.8L350 656.6L338.7 658.1L334.6 660.8L338.7 663.5L345.2 668.3M570.6 511L576.7 515L588 517.8L595.4 511L588 506.1L576.7 507L570.6 511M390.1 338.7L395.3 342.2L400.6 338.7L395.3 335.2L390.1 338.7M455.4 263.8L463.3 270.7L474.7 270.5L486 270.3L497.3 269.9L502.6 263.8L497.3 257.7L496.6 256.3L491.1 248.8L486 245.5L474.7 243.8L463.3 243.3L457.8 241.3L452 237.5L444.9 233.8L440.7 231L436.4 233.8L434.9 241.3L435.3 248.8L440.7 252.4L443.6 256.3L452 261.9L455.4 263.8M568.6 256.3L576.7 261.7L584.7 256.3L583.8 248.8L576.7 244.1L571.7 241.3L574.9 233.8L565.3 227.5L554 227.2L552.1 226.4L542.7 222.6L531.3 223L520 221.2L508.7 223.2L497.3 223.2L492.5 226.4L497.3 229.5L504.7 233.8L508.7 236.5L520 238.6L524.2 241.3L531.3 246.1L537.5 248.8L542.7 252.2L554 252.6L565.3 252.6L568.6 256.3M465.9 226.4L474.7 229.4L479.3 226.4L474.7 220.5L465.9 226.4M570.6 166.4L576.7 170.4L588 170.2L593.8 166.4L599.3 162.8L608.9 158.9L603.1 151.5L599.3 149L595.6 151.5L588 154.4L576.7 154.2L569.5 158.9L570.6 166.4M581.1 114L584.2 121.5L588 124L591.8 121.5L594.9 114M387.4 795.6L395.3 791.4L402 795.6M442.9 795.6L452 790.7L461.6 795.6M525.1 795.6L531.3 790.9L535.6 788.1L542.7 783.5L545.2 780.6L547.2 773.1L547.6 765.6L554 760.1L565.3 760.2L568.5 758.1L571.5 750.7L565.3 745.3L554.4 743.2L554 743L553.6 743.2L542.7 745L531.3 748.2L521.2 743.2L520 742.8L509.9 735.7L511.4 728.2L508.7 725.2L505.4 720.7L508.7 716.5L511.7 713.2L520 706.1L521.1 705.7L531.3 701.5L536.3 698.2L542.7 693.4L545 690.7L550.6 683.2L554 676.7L554.7 675.8L561.4 668.3L558.1 660.8L556 653.3L554 651.9L548.6 645.8L542.7 640.6L538.4 638.3L531.3 635L524.2 630.8L527.3 623.3L531.3 619.4L541.8 623.3L542.7 623.9L544.4 623.3L554 618.9L556.8 615.8L554 612.8L550.3 608.3L549.6 600.9L548.9 593.4L542.7 589.3L531.3 588.1L520 587.3L508.7 587.6L504.1 585.9L508.7 580.9L520 580.2L531.3 579.3L542.7 580.5L554 580.4L557.1 578.4L554 576.3L546.2 570.9L547.1 563.4L547.4 555.9L549.4 548.4L554 542.1L565.3 541.6L566.4 540.9L567.3 533.4L566 526L565.3 525.5L554 524.9L544.7 518.5L547 511L547.3 503.5L548 496L550.7 488.5L554 485.9L565.3 482.6L567.8 481L569.2 473.5L566.8 466L565.3 465L556.2 458.5L562.9 451.1L565.3 445.3L566.7 443.6L565.3 442.6L561.4 436.1L560.2 428.6L554 424.5L545.6 421.1L542.7 419.2L532.2 413.6L534.4 406.1L532.9 398.6L531.9 391.1L534.5 383.6L542.7 377.5L543.7 376.2L545.4 368.7L544.9 361.2L545.9 353.7L545.4 346.2L543.7 338.7L548.9 331.2L545.5 323.7L542.9 316.2L545 308.7L543 301.3L542.7 300.8L537.8 293.8L531.3 290.9L520 289.6L510 286.3L520 280.9L523.2 278.8L520 276.7L508.7 275.4L497.3 273.7L486 274.7L474.7 276L463.3 274.5L452 277.8L449.1 278.8L440.7 280.7L429.3 285.6L418 284.6L407.4 278.8L409.3 271.3L406.7 269.6L404 271.3L405.2 278.8L401.5 286.3L406.5 293.8L406.7 293.9L407 293.8L418 289.2L421.6 293.8L427.6 301.3L429.3 302.4L435 308.7L438.9 316.2L440.3 323.7L440.7 324L448 331.2L440.7 336.6L437.5 338.7L429.3 341.9L422.8 346.2L418 352.1L415.7 353.7L406.7 356.9L395.3 359.5L386.1 353.7L384 353L374.3 346.2L372.7 345.1L364.4 338.7L361.3 336.7L356.3 338.7L350 342.1L338.7 346.1L338.6 346.2L327.3 350.3L322.2 353.7L327.3 357.1L336.1 361.2L338.7 362.8L350 364.3L361.3 363.9L371.8 368.7L361.3 374L350 375.6L348.4 376.2L338.7 378.9L331.5 383.6L327.3 388.2L324.7 391.1L327.3 392.9L337.8 398.6L338.7 399.2L350 403L354.2 406.1L361.3 410.8L365.7 413.6L372.7 418.2L375.6 421.1L384 426.6L388.5 428.6L395.3 433.1L402.6 436.1L406.7 438.8L410.7 436.1L418 434.3L427.8 436.1L429.3 437.1L440.7 441.4L446.1 443.6L446.6 451.1L452 454.6L461.2 458.5L456.2 466L452 471.9L449.5 473.5L445.1 481L447.4 488.5L447.1 496L452 499.2L456.8 503.5L460.4 511L461.1 518.5L452 525.6L440.7 522.6L435.6 526L429.3 530.5L418 530L406.7 532.4L395.3 529.2L385 526L384 525.3L376.9 518.5L372.7 515.7L361.3 517.2L359.3 518.5L358 526L361.3 529.5L369.9 533.4L372.4 540.9L372.7 541.1L384 542L395.3 542.9L406.7 542.8L416.2 548.4L418 550.6L425.1 555.9L418 559L406.7 559.2L400.3 563.4L406.7 567.6L418 566.4L423 570.9L422.3 578.4L418 584L406.7 584.5L401.9 578.4L395.3 572.8L390.1 570.9L384 566.9L376.8 563.4L372.7 561.8L361.3 561.9L350 562.8L345 555.9L338.7 551.7L327.3 553.5L316 553.7L307.6 548.4L304.7 546.5L299.9 548.4L303.6 555.9L304.7 556.6L312.4 563.4L313.8 570.9L316 572.3L320.7 578.4L324.7 585.9L321 593.4L324.7 600.9L327.3 602.6L338.7 605.2L346.9 608.3L350 609.5L353.1 608.3L361.3 604.1L372.7 602.7L375.5 600.9L384 597.7L395.3 595.6L406.7 595.2L413.1 600.9L412.2 608.3L415.4 615.8L418 617.5L429.3 617.6L439.4 623.3L429.3 628.8L426.3 630.8L418 637.2L417.2 638.3L418 639.4L426.5 645.8L429.3 647.7L435.7 653.3L439.1 660.8L440.7 661.8L446 668.3L450.1 675.8L452 677L462.8 683.2L463.3 683.6L474.5 690.7L474.7 690.9L483.5 698.2L480.8 705.7L474.7 706.9L463.3 708.3L456.9 705.7L452 702.5L443.9 698.2L440.7 696.1L429.3 696.8L425.5 698.2L418 701.5L406.7 700.6L395.3 700.3L391.8 698.2L395.3 696.3L406.7 695.2L411.3 690.7L406.7 686.3L395.3 685.2L387 690.7L384 693.1L372.7 693.4L365.4 698.2L361.3 702.1L357.4 698.2L359 690.7L355.2 683.2L350 679.8L338.7 680.3L334.2 683.2L330.9 690.7L332.1 698.2L332.5 705.7L338.7 711.1L341.5 713.2L350 717.6L361.3 716.9L372.7 717.6L384 718.5L391.3 720.7L384 723.2L372.7 723.7L361.3 724.8L358.2 728.2L361.3 730.3L372.7 731.3L384 733.2L388.2 735.7L391.3 743.2L384 749.4L382.1 750.7L372.7 753.7L366 758.1L372.7 762.6L378.9 765.6L384 767.7L393.2 773.1L384 776.1L372.7 776.8L361.3 776.8L350 777.5L338.7 777.2L327.3 777.7L316 778L312.1 780.6L316 783.2L325.9 788.1L327.3 789L333.6 795.6M282 773.3L293.3 774.5L295.4 773.1L293.3 770.8L282 772.8M418 767.7L411.8 765.6L418 760L424.6 765.6L418 767.7M418 743L413.4 735.7L407.6 728.2L418 722.9L424.4 728.2L429.3 731.5L440.7 729.1L447.3 735.7L440.7 737.6L429.3 741.9L418 743M348.4 668.3L350 669.3L351.6 668.3L353.8 660.8L350 658.2L338.7 660.4L338.2 660.8L338.7 661.1L348.4 668.3M394.4 630.8L395.3 631.5L406.7 631.8L409.5 630.8L406.7 629.8L395.3 630.2L394.4 630.8M573.2 511L576.7 513.3L588 516L593.5 511L588 507.3L576.7 508.7L573.2 511M393.1 338.7L395.3 340.2L397.5 338.7L395.3 337.2L393.1 338.7M457.1 263.8L463.3 269.2L474.7 268.4L486 268L497.3 266.4L499.6 263.8L497.3 261.2L494.6 256.3L488 248.8L486 247.5L474.7 245L463.3 244.2L455 241.3L452 239.3L441.4 233.8L440.7 233.4L440 233.8L437.8 241.3L438.3 248.8L440.7 250.4L445.1 256.3L452 260.9L457.1 263.8M570.2 256.3L576.7 260.6L583.1 256.3L581.7 248.8L576.7 245.5L569.2 241.3L570.5 233.8L565.3 230.4L554 229.3L547.5 226.4L542.7 224.4L531.3 225.1L520 222.4L508.7 225.3L497.3 225.3L495.8 226.4L497.3 227.4L508.4 233.8L508.7 234L520 237.3L526.3 241.3L531.3 244.7L540.6 248.8L542.7 250.2L554 250.8L565.3 250.8L570.2 256.3M472.2 226.4L474.7 227.2L476 226.4L474.7 224.7L472.2 226.4M573.3 166.4L576.7 168.7L588 168.4L591 166.4L599.3 161L604.5 158.9L599.3 151.5L599.3 151.4L599.3 151.5L588 155.9L576.7 155.6L571.6 158.9L573.3 166.4M583.4 114L588 121.5L588 121.5L588 121.5L592.6 114M382.2 795.6L384 793.8L395.3 788.4L406.7 795L407.1 795.6M426.5 795.6L429.3 794.8L440.7 792.6L449.7 788.1L452 787.4L453.5 788.1L463.3 793.2L467.6 795.6M494.7 795.6L496.7 788.1L497.3 788L497.7 788.1L508.7 794.8L516.2 795.6M520.6 795.6L530.1 788.1L531.3 787.7L542.1 780.6L542.7 779.7L544.9 773.1L545.4 765.6L554 758.2L565.3 758.5L565.8 758.1L569.8 750.7L565.3 746.8L554 745L542.7 746.3L532.3 750.7L531.3 751.2L520.1 750.7L520 750.6L517 743.2L508.7 737.3L504.4 735.7L508.5 728.2L503.1 720.7L508.7 713.5L508.9 713.2L508.7 706.2L497.3 705.9L494.6 705.7L497.3 705.6L507.3 698.2L508.7 696.2L511.8 698.2L520 702.5L531.3 698.5L531.7 698.2L541.7 690.7L542.7 690.1L548.1 683.2L552.5 675.8L554 674.6L560 668.3L555.6 660.8L554 655.8L553.2 653.3L546.8 645.8L542.7 642.2L535.3 638.3L531.3 636.5L521.8 630.8L525.9 623.3L531.3 618.1L540.8 615.8L542.7 614.7L547.6 608.3L548.1 600.9L547.2 593.4L542.7 590.4L531.3 588.8L520 588.3L508.7 588.8L500.9 585.9L507.7 578.4L508.7 577.7L520 575.2L531.3 575.5L540.1 578.4L542.7 578.7L554 578.6L554.4 578.4L554 578.1L543.6 570.9L544.8 563.4L545.2 555.9L546 548.4L550.8 540.9L554 539.3L563.9 533.4L554 527.2L550.9 526L542.7 519.9L540.4 518.5L542.7 516.4L544.7 511L545 503.5L545.9 496L548.3 488.5L554 484.1L564.3 481L565.3 479.3L566.8 473.5L565.3 469.6L554.1 473.5L554 473.5L554 473.5L552.3 466L553.3 458.5L554 458.1L561.2 451.1L564.5 443.6L560.1 436.1L558.5 428.6L554 425.6L542.8 421.1L542.7 421L531.3 415.8L529.4 413.6L531.3 407.2L531.7 406.1L531.3 404.7L529.8 398.6L521.5 391.1L530 383.6L531.3 382L539.3 376.2L542.2 368.7L540.5 361.2L542.7 356.8L543.2 353.7L542.7 347.4L542.5 346.2L539.1 338.7L542.7 337.1L547.2 331.2L542.7 323.8L542.6 323.7L540.4 316.2L540.9 308.7L539.8 301.3L534.3 293.8L531.3 292.5L520 290.7L508.7 291.4L504.6 286.3L508.7 284L520 279.1L520.5 278.8L520 278.4L508.7 276.8L497.3 275.5L486 277.2L476.9 278.8L474.7 279.3L472.8 278.8L463.3 276.9L456.4 278.8L452 284.8L440.7 282.1L431.4 286.3L429.3 288.2L424.2 293.8L429.3 299.8L432.7 301.3L436.9 308.7L440.7 314.8L442.2 316.2L444.7 323.7L450.4 331.2L440.7 338.4L440.3 338.7L429.3 342.9L424.4 346.2L418.8 353.7L418 354.5L406.7 358L397.2 361.2L395.3 362.3L384 363.4L378.9 361.2L381.9 353.7L372.7 347.2L370.6 346.2L361.6 338.7L361.3 338.5L360.8 338.7L350 344.6L345.4 346.2L338.7 348.8L327.3 351.7L324.3 353.7L327.3 355.7L338.7 360.6L339.9 361.2L350 362.8L361.3 362.3L372.7 364.8L376.6 368.7L373.2 376.2L372.7 376.4L367.4 376.2L361.3 375.8L359 376.2L350 378L338.7 380.8L334.4 383.6L327.6 391.1L338.7 397.6L340.8 398.6L350 401.9L355.6 406.1L361.3 409.9L367.2 413.6L372.7 417.2L376.6 421.1L384 426L390 428.6L395.3 432.1L405 436.1L406.7 437.2L408.3 436.1L418 433.7L429.3 435.7L430.2 436.1L440.7 440.6L447.9 443.6L448.6 451.1L452 453.3L463.3 457.5L464.1 458.5L463.3 459.1L457.5 466L453.8 473.5L452 473.8L446.5 481L449.7 488.5L449.3 496L452 497.8L458.3 503.5L463.2 511L463.3 511.4L467.7 518.5L474.7 522.5L477.7 526L474.7 527.9L463.3 527.5L452 527.7L442.2 526L440.7 525.5L440 526L440.7 532.9L440.7 533.4L440.7 533.6L429.3 534L425.5 533.4L418 532.9L414.8 533.4L410.1 540.9L418 541.2L419.6 548.4L429.3 555.5L430 555.9L440.7 562.2L443.5 563.4L440.7 564.3L429.3 564.5L424.7 570.9L423.8 578.4L418 585.9L417.7 585.9L406.9 593.4L415.3 600.9L414 608.3L418 615.5L429.3 613.9L431 615.8L440.7 621.8L443.5 623.3L440.7 624.9L430.8 630.8L430.3 638.3L430.8 645.8L440.3 653.3L440.7 654.3L443.2 660.8L447.7 668.3L452 674.7L455.6 675.8L463.3 679.5L466.2 683.2L474.7 688.7L480.5 690.7L486 695.3L487.8 698.2L486 704L485.2 705.7L474.7 707.8L463.3 709.2L454.8 705.7L452 703.9L441.2 698.2L440.7 697.9L436.1 698.2L429.3 699.1L418 703.8L406.7 702.3L395.3 701.7L389.3 698.2L395.3 694.8L406.7 693L409.1 690.7L406.7 688.4L395.3 686.6L389.1 690.7L384 694.7L372.7 695.3L368.2 698.2L361.3 704.9L354.6 698.2L357.3 690.7L353.2 683.2L350 681.1L338.7 681.8L336.5 683.2L332.1 690.7L333.7 698.2L334.2 705.7L338.7 709.6L343.6 713.2L350 716.5L361.3 714.1L372.7 715.4L384 717L395.3 720.1L406.7 719.4L417.1 713.2L418 711.5L419.3 713.2L419.4 720.7L428.9 728.2L429.3 728.5L430.5 728.2L440.7 724.5L444.7 728.2L452 735.7L440.7 739L431.4 743.2L429.3 745.3L418 745.2L410.7 743.2L411.9 735.7L406.7 729.7L404.1 728.2L395.3 721.2L384 724.9L372.7 725.8L361.3 727.8L360.9 728.2L361.3 728.4L372.7 729.9L384 731.4L391.2 735.7L395.3 742.1L398.8 743.2L406.7 748.5L407.5 750.7L406.7 751L395.3 751L384 755.9L372.7 755.9L369.3 758.1L372.7 760.4L383.4 765.6L384 765.9L395.3 768.5L401.3 773.1L395.3 773.6L384 777.1L372.7 778L361.3 778L350 779L338.7 778.6L327.3 779.2L316 779.7L314.6 780.6L316 781.6L327.3 785.3L329 788.1L335.7 795.6M440.7 774.9L437.8 773.1L440.7 771.9L443 773.1L440.7 774.9M418 769.2L407.4 765.6L416.6 758.1L418 756.8L420.3 758.1L429.3 765.6L429.3 765.6L429.3 765.6L418 769.2M345.7 660.8L350 664.6L351.3 660.8L350 659.9L345.7 660.8M497.3 618.4L496.1 615.8L497.3 614L500.3 615.8L497.3 618.4M486 609.2L482 608.3L486 607.3L488.8 608.3L486 609.2M328.6 600.9L338.7 602.9L350 607.1L361.3 601L370.9 600.9L372.7 600.8L384 596.6L395.3 593.8L404.8 593.4L402.8 585.9L400.3 578.4L395.3 574.2L386.4 570.9L384 569.3L372.7 564L361.3 564.3L350 567.5L348 563.4L343.3 555.9L338.7 552.8L327.3 555.2L316 555.5L312.9 555.9L315 563.4L316 567.6L316.5 570.9L322.3 578.4L327.3 585.7L327.5 585.9L327.3 586.1L322.7 593.4L327.3 600.6L328.6 600.9M440.7 602.3L437.3 600.9L440.7 600.6L451.9 593.4L452 593.2L452.1 593.4L452.8 600.9L452 601.1L440.7 602.3M338.7 596.6L336.5 593.4L338.7 592.4L350 592.2L361.3 592.8L363.5 593.4L361.3 599.5L350 594.7L338.7 596.6M372.7 585.9L372.6 585.9L372.7 585.9L372.7 585.9L372.7 585.9M452 581.1L449.6 578.4L452 577.2L453.7 578.4L452 581.1M463.3 572.6L460.5 570.9L463.3 568.7L468 570.9L463.3 572.6M401.9 563.4L406.7 566.5L418 564.9L425.6 563.4L418 561.2L406.7 560.3L401.9 563.4M304.5 548.4L304.7 548.7L304.7 548.4L304.7 548.4L304.5 548.4M394.3 540.9L395.3 541L405.3 540.9L405 533.4L395.3 530.3L384 527.5L381.3 526L374.5 518.5L372.7 517.3L365 518.5L361.3 522.9L360.7 526L361.3 526.7L372.7 532L374.6 533.4L384 539.8L394.3 540.9M531.3 526.5L530.8 526L531.3 525.1L532.6 526L531.3 526.5M486 518.6L485.4 518.5L486 518.2L486.3 518.5L486 518.6M575.8 511L576.7 511.5L588 514.2L591.5 511L588 508.6L576.7 510.4L575.8 511M463.3 384L462.7 383.6L463.3 383.2L464.4 383.6L463.3 384M406.7 371.1L405.2 368.7L406.7 367.6L408.3 368.7L406.7 371.1M405.9 286.3L406.7 287.4L413.1 286.3L406.7 285L405.9 286.3M458.8 263.8L463.3 267.7L474.7 266.3L486 265.6L494.4 263.8L492.7 256.3L486 249.5L484.3 248.8L474.7 246.2L463.3 245.2L452.2 241.3L452 241.2L440.7 241L440.6 241.3L440.7 242.6L441.7 248.8L446.5 256.3L452 259.9L458.8 263.8M571.8 256.3L576.7 259.5L581.5 256.3L579.6 248.8L576.7 246.9L566.7 241.3L566.1 233.8L565.3 233.4L554 231.4L542.9 226.4L542.7 226.3L541.3 226.4L531.3 227.2L529.8 226.4L520 223.6L510.7 226.4L512.9 233.8L520 235.9L528.4 241.3L531.3 243.3L542.7 246.4L551.8 248.8L554 249L565.3 248.9L571.8 256.3M576 166.4L576.7 166.9L588 166.6L588.2 166.4L599.3 159.3L600.1 158.9L599.3 157.8L588 157.4L576.7 157L573.7 158.9L576 166.4M585.6 114L588 117.9L590.4 114M377.7 795.6L384 789.2L386.3 788.1L395.3 786.8L406.7 787L408.5 788.1L418 795.5L429.3 792.2L440.4 788.1L440.7 788L452 784.7L459.5 788.1L463.3 790.1L473.2 795.6M492 795.6L486.6 788.1L497.3 786.1L502.6 788.1L508.7 791.8L520 790L522.3 788.1L531.3 784.9L537.9 780.6L542.3 773.1L542.7 772.3L543.3 765.6L551.8 758.1L554 755.7L565.3 755.6L568.1 750.7L565.3 748.3L554 746.9L542.7 747.6L535.4 750.7L531.3 752.9L520 753.7L510.1 758.1L508.7 760.3L507.3 758.1L500.8 750.7L508.7 747.6L513.4 743.2L508.7 739.8L501.1 743.2L497.3 747.8L495.7 743.2L497.3 736.4L497.8 735.7L504.5 728.2L500.8 720.7L503.5 713.2L497.3 709.4L486 706.7L474.7 708.7L463.3 710.1L452.7 705.7L452 705.3L440.7 703.8L429.3 702.4L419.5 705.7L424.2 713.2L422.6 720.7L429.3 725.9L439.9 720.7L440.7 720.4L441.3 720.7L449.7 728.2L452 730.6L455.6 735.7L452 740.5L440.7 740.3L434.4 743.2L429.3 748.3L418 747.4L411.7 750.7L406.7 752.9L395.3 756.9L392.7 758.1L395.3 759.7L406.7 764L414.1 758.1L418 754.4L424.5 758.1L429.3 762.2L431.6 765.6L429.3 768.3L418 770.7L410.2 773.1L406.7 774.4L395.3 774.9L384 778.1L372.7 779.2L361.3 779.3L350 780.5L338.7 780L328.7 780.6L331.9 788.1L337.8 795.6M440.7 776.7L434.8 773.1L440.7 770.7L445.4 773.1L440.7 776.7M372.7 758.1L372.7 758.2L372.7 758.1L372.7 758.1L372.7 758.1M394.3 735.7L395.3 737.4L406.7 741.9L410.4 735.7L406.7 731.5L401.2 728.2L395.3 723.5L384 726.7L372.7 727.9L371 728.2L372.7 728.4L384 729.7L394.3 735.7M345.6 713.2L350 715.5L358.6 713.2L356.9 705.7L351.7 698.2L355.7 690.7L351.2 683.2L350 682.5L340 683.2L338.7 683.4L333.3 690.7L335.3 698.2L336 705.7L338.7 708.1L345.6 713.2M372.5 713.2L372.7 713.2L384 715.4L395.3 717.7L406.7 717.4L413.7 713.2L416.5 705.7L406.7 704L395.3 703.2L387.3 705.7L384 708.2L372.7 712.9L372.5 713.2M371.1 698.2L372.7 703.6L384 702.8L386.8 698.2L384 696.4L372.7 697.2L371.1 698.2M490.9 698.2L497.3 703.2L504 698.2L508.7 691.4L519.2 698.2L520 698.7L521.3 698.2L531.3 695L537 690.7L542.7 687L545.6 683.2L550.6 675.8L554 673.2L558.7 668.3L554 661.4L553.4 660.8L550.7 653.3L545 645.8L542.7 643.8L532.3 638.3L531.3 637.9L520 631.1L519.4 630.8L520 630.3L524.6 623.3L531.3 616.8L535.4 615.8L542.7 611.3L545 608.3L546.6 600.9L545.5 593.4L542.7 591.5L531.3 589.6L520 589.3L508.7 590L498.1 593.4L497.3 594L495.3 593.4L497.3 588.1L497.6 585.9L504.7 578.4L508.7 575.7L519 570.9L520 570.1L531.3 570.7L542.2 563.4L542.7 560.6L543 555.9L542.7 548.4L546.6 540.9L554 537L560.1 533.4L554 529.6L544.8 526L542.7 524.4L540 526L531.3 529.5L527.9 526L531.3 520.1L533.6 518.5L542.2 511L542.7 505.9L542.8 503.5L543.9 496L545.9 488.5L554 482.3L558.2 481L554 477.9L550.8 473.5L546.1 466L550.7 458.5L554 456.4L559.5 451.1L563.1 443.6L558.8 436.1L556.8 428.6L554 426.8L542.7 422.4L536.5 421.1L531.3 418.7L526.8 413.6L520 407.7L518.5 406.1L520 404.4L526.9 398.6L520 393.1L515.5 391.1L520 389.2L527.2 383.6L531.3 378.5L534.5 376.2L534.2 368.7L532.1 361.2L536.1 353.7L538.6 346.2L534 338.7L542.7 334.9L545.5 331.2L542.7 326.5L539.3 323.7L538 316.2L533 308.7L536.7 301.3L531.3 294.4L530.4 293.8L520 291.8L512 293.8L508.7 295.5L502.5 293.8L497.9 286.3L508.7 280.4L512.6 278.8L508.7 278.2L497.3 277.2L489.1 278.8L486 279.9L474.7 282.5L463.3 279.3L455.3 286.3L452 288.4L448.6 286.3L440.7 283.5L434.4 286.3L429.3 291L426.8 293.8L429.3 296.8L440.1 301.3L438.8 308.7L440.7 311.7L445.7 316.2L449.2 323.7L452 328.6L453.1 331.2L452 332.4L444.2 338.7L447 346.2L440.7 348.1L437.2 346.2L429.3 344L426 346.2L422.3 353.7L418 358.1L406.7 359.1L400.5 361.2L395.3 364.3L384 367L381.7 368.7L376.5 376.2L372.7 377.6L361.3 381.3L350 380.3L338.7 382.8L337.4 383.6L329.9 391.1L338.7 396.3L343.8 398.6L350 400.9L357 406.1L361.3 409L368.7 413.6L372.7 416.2L377.6 421.1L384 425.3L391.5 428.6L395.3 431.1L406.7 435.8L418 433.2L429.3 435L431.9 436.1L440.7 439.9L449.7 443.6L450.6 451.1L452 452L463.3 454.1L466.6 458.5L463.3 460.7L458.9 466L463.3 472.9L467.9 473.5L463.3 474.2L452 475.7L448 481L452 488.5L451.4 496L452 496.4L459.9 503.5L463.3 508.7L467.4 511L474.4 518.5L474.7 518.6L475.1 518.5L486 513.9L492.3 518.5L486 521.6L481.1 526L474.7 530.1L463.3 529.6L452 529.6L444.5 533.4L441.7 540.9L440.7 541.5L435.6 540.9L429.3 539.2L426.5 540.9L423.5 548.4L429.3 552.7L434.6 555.9L440.7 559.5L449.7 563.4L440.7 566.3L429.3 566.8L426.4 570.9L425.2 578.4L425.6 585.9L418 588.8L411.3 593.4L417.4 600.9L415.9 608.3L418 612.2L429.3 610.3L434 615.8L440.7 619.9L447 623.3L440.7 626.7L433.9 630.8L432.4 638.3L433.6 645.8L440.7 651.3L443.1 653.3L447.8 660.8L449.5 668.3L452 672.1L463.3 675.1L464.3 675.8L469.5 683.2L474.7 686.6L486 690.3L486.3 690.7L490.9 698.2M391.3 690.7L395.3 693.4L406.7 690.9L406.8 690.7L406.7 690.6L395.3 688L391.3 690.7M497.3 623.8L495.8 623.3L492.5 615.8L486 611.6L474.7 611.1L473.2 608.3L474.7 607.6L486 604.4L496.8 608.3L497.3 608.7L508.7 615.8L509.1 615.8L508.7 616L498.9 623.3L497.3 623.8M440.7 609.7L435.3 608.3L429.3 605.1L421.2 600.9L429.3 599.7L440.7 598.1L448 593.4L450.5 585.9L442.7 578.4L452 573.7L455.7 570.9L463.3 564.9L468.8 563.4L474.7 562.6L475.7 563.4L476.5 570.9L474.7 571.2L463.3 575.5L458.5 578.4L456.3 585.9L456.1 593.4L459.5 600.9L452 603.6L443 608.3L440.7 609.7M339.5 600.9L350 604.5L356.8 600.9L350 597.3L339.5 600.9M324.4 593.4L327.3 598L333.2 593.4L338.7 590.8L350 590L361.3 590.7L371.1 593.4L372.7 594.7L384 595.5L392.3 593.4L385.8 585.9L395.3 584.9L398.7 578.4L395.3 575.5L384.2 578.4L384 581.7L383.6 578.4L381.6 570.9L372.7 566.9L361.3 567.8L353.4 570.9L350 572.1L348.9 570.9L345.2 563.4L341.7 555.9L338.7 553.9L330.1 555.9L327.3 556.7L317.2 563.4L318.4 570.9L323.9 578.4L327.3 583.4L330.2 585.9L327.3 588.7L324.4 593.4M372.7 592.1L369.2 585.9L372.7 582.8L383.4 585.9L372.7 592.1M403.6 563.4L406.7 565.4L417.9 563.4L406.7 561.4L403.6 563.4M486 544.2L484.4 540.9L485.5 533.4L486 533.1L497.3 529L501.8 533.4L497.3 539.2L493.2 540.9L486 544.2M378.1 533.4L384 537.4L395.3 538.4L401.6 533.4L395.3 531.4L384 529.7L378.1 533.4M365.6 526L372.7 529.3L377.4 526L372.7 519.6L365.6 526M508.7 526L508.5 526L508.7 525.9L508.7 526L508.7 526M581.8 511L588 512.4L589.6 511L588 509.9L581.8 511M508.7 504.3L507.8 503.5L508.7 501.5L510.5 503.5L508.7 504.3M486 490.8L483.7 488.5L486 486.6L487.6 488.5L486 490.8M531.3 491L529.4 488.5L531.3 485.3L534.2 488.5L531.3 491M497.3 466.4L496.4 466L497.3 465.7L498.4 466L497.3 466.4M440.7 393.1L439.2 391.1L440.7 389.7L442 391.1L440.7 393.1M463.3 385.8L458.8 383.6L463.3 381L470.5 383.6L463.3 385.8M406.7 376.2L406.6 376.2L402.2 368.7L406.7 365.4L411.9 368.7L406.8 376.2L406.7 376.2M474.7 376.6L474.5 376.2L474.7 376L475.1 376.2L474.7 376.6M349.1 361.2L350 361.3L352.9 361.2L361.3 360.3L372.7 360.3L378.9 353.7L372.7 349.3L366.4 346.2L361.3 341.9L352.5 346.2L350 347L338.7 351.6L327.3 353L326.3 353.7L327.3 354.3L338.7 356.7L349.1 361.2M474.7 361.8L474 361.2L474.7 359.1L475.1 361.2L474.7 361.8M520 362.2L518.2 361.2L520 359.8L530.1 361.2L520 362.2M474.7 349.6L468.7 346.2L474.7 345.1L479.1 346.2L474.7 349.6M520 332L518 331.2L520 330.4L521 331.2L520 332M463.3 325.2L457 323.7L463.3 322.4L472.3 323.7L463.3 325.2M508.7 325.9L503.7 323.7L508.7 321.8L510.9 323.7L508.7 325.9M474.7 319.3L474.2 316.2L463.3 309.2L462 308.7L463.3 307.6L474.7 308.6L478.9 308.7L475.2 316.2L474.7 319.3M497.3 316.4L497.3 316.2L497.3 316.2L497.4 316.2L497.3 316.4M486 297L483 293.8L486 291.6L492.5 293.8L486 297M460.5 263.8L463.3 266.3L474.7 264.2L479.9 263.8L486 263.1L490.8 256.3L486 251.5L479.8 248.8L474.7 247.4L463.3 246.1L452 245L447 248.8L448 256.3L452 259L460.5 263.8M573.5 256.3L576.7 258.4L579.9 256.3L577.5 248.8L576.7 248.3L573.2 248.8L573.5 256.3M530.5 241.3L531.3 241.9L538 241.3L542.7 235.6L543.7 241.3L554 246.9L563.7 241.3L555.6 233.8L554 233.6L542.7 233.2L531.3 229.3L525.6 226.4L520 224.8L514.6 226.4L517.4 233.8L520 234.6L530.5 241.3M575.8 158.9L576.7 161.6L587.9 158.9L576.7 158.4L575.8 158.9M587.9 114L588 114.2L588.1 114M359.9 795.6L361.3 794.7L368 795.6M373.2 795.6L380.9 788.1L384 785.7L395.3 785.3L406.7 785.2L411.6 788.1L418 793L429.3 789.6L433.4 788.1L440.7 784.5L452 781.9L463.3 787.2L466.8 788.1L474.7 792.1L479 795.6M489.2 795.6L486 791.4L480.1 788.1L486 780.8L497.3 784.1L507.5 788.1L508.7 788.8L511.6 788.1L520 784.9L531.3 782.1L533.6 780.6L531.3 773.3L531.3 773.1L531.3 773.1L539.5 765.6L542.7 764.2L549.5 758.1L554 753.2L565.3 752.5L566.4 750.7L565.3 749.8L554 748.8L542.7 748.9L538.5 750.7L531.3 754.5L520 756.7L516.8 758.1L513.2 765.6L508.7 766.3L507.3 765.6L501.2 758.1L497.3 754.2L495.6 750.7L493.1 743.2L491.8 735.7L497.3 731.7L500.5 728.2L498.5 720.7L497.8 713.2L497.3 712.9L486 707.9L474.7 709.6L463.3 711L452 708.2L440.7 707.5L429.4 705.7L429.3 705.7L429.3 705.7L429.2 713.2L425.9 720.7L429.3 723.4L434.8 720.7L440.7 718.2L445.3 720.7L452 726.4L463.3 726.3L466.6 728.2L463.3 731.6L459.3 735.7L462 743.2L452 744L448.6 743.2L440.7 741.7L437.4 743.2L432.5 750.7L429.3 755.1L428.7 758.1L429.3 758.7L433.8 765.6L440.7 769.5L447.8 773.1L440.7 778.6L431.8 773.1L429.3 770.9L418 772.3L415.1 773.1L406.7 776.2L395.3 776.3L384 779.1L372.7 780.4L361.3 780.5L360.1 780.6L350 784.5L338.7 782.8L334.8 788.1L338.7 793.3L342.3 795.6M398.7 758.1L406.7 762L411.5 758.1L406.7 754.7L398.7 758.1M415.9 750.7L418 751.9L425.8 750.7L418 749.6L415.9 750.7M506.9 743.2L508.7 744.2L509.8 743.2L508.7 742.4L506.9 743.2M398.9 735.7L406.7 739.3L408.8 735.7L406.7 733.2L398.9 735.7M385.6 728.2L395.3 732.8L398.3 728.2L395.3 725.8L385.6 728.2M486 730.3L484.4 728.2L486 727.7L489.7 728.2L486 730.3M347.6 713.2L350 714.4L354.7 713.2L350.6 705.7L350 704.2L347.1 698.2L350 697.2L354 690.7L350 684.4L338.7 685L334.5 690.7L336.9 698.2L337.7 705.7L338.7 706.6L347.6 713.2M380.7 713.2L384 713.9L395.3 715.2L406.7 715.4L410.4 713.2L406.7 705.8L406.5 705.7L395.3 704.7L392 705.7L384 711.8L380.7 713.2M382 698.2L384 698.6L384.3 698.2L384 698.1L382 698.2M494 698.2L497.3 700.8L500.8 698.2L505.2 690.7L508.7 688.1L511.6 690.7L520 696.2L531.3 691.5L532.4 690.7L542.7 683.9L543.2 683.2L548.6 675.8L554 671.9L557.4 668.3L554 663.3L551.7 660.8L548.3 653.3L543.2 645.8L542.7 645.4L531.3 639.5L530.1 638.3L520 632.2L517 630.8L520 628.3L523.2 623.3L526.8 615.8L531.3 614.5L541.7 608.3L542.7 607.8L545.1 600.9L543.8 593.4L542.7 592.6L531.3 590.3L520 590.3L508.7 591.3L502 593.4L497.3 597.5L486 595.7L485.6 593.4L486 592L489.7 585.9L497.3 582.9L501.6 578.4L508.7 573.6L514.6 570.9L520 566.4L531.3 567.2L537.1 563.4L539.3 555.9L538.6 548.4L542.2 540.9L534.5 533.4L531.3 532.5L524.9 526L528.9 518.5L531.3 516.9L539.1 511L537.9 503.5L531.3 496.4L530.9 496L524.9 488.5L524.3 481L531.3 477.8L540.1 481L540.5 488.5L542.7 492.1L543.5 488.5L545.8 481L547.6 473.5L542.7 467.7L531.3 467L530 466L531.3 465L542.7 464.7L548.1 458.5L554 454.7L557.7 451.1L561.7 443.6L557.5 436.1L555.1 428.6L554 427.9L542.7 423.8L531.3 421.7L531 421.1L524.2 413.6L520 410L516.4 406.1L520 402L524.1 398.6L520 395.4L510.4 391.1L520 387L524.3 383.6L527.8 376.2L529.5 368.7L520 363.7L515.9 361.2L520 358L529.6 353.7L531.3 351.3L534.7 346.2L531.3 341.3L528.9 338.7L531.3 337.5L542.7 332.7L543.8 331.2L542.7 329.3L535.9 323.7L535.6 316.2L531.3 311L525.5 308.7L531.3 304.8L533.5 301.3L531.3 298.4L523.4 301.3L520 303.4L518 301.3L520 299.1L524.4 293.8L520 292.9L516.6 293.8L508.7 297.9L497.3 294.8L486 301.1L479.4 293.8L486 288.9L491.9 286.3L486 283.1L474.7 285.8L463.3 282.6L459.1 286.3L463.3 290.8L467.4 293.8L463.3 298.5L459.2 293.8L452 290.8L444.7 286.3L440.7 284.8L437.5 286.3L429.4 293.8L440.7 299.2L452 298.2L459.6 301.3L463.3 303.1L474.7 305.1L486 301.6L490.1 308.7L486 311.2L478.9 316.2L486 323.4L493.4 316.2L497.3 313.4L503.8 316.2L508.7 318.6L514.4 323.7L520 327.8L523.9 331.2L520 334.5L512.8 338.7L520 345.8L521.2 346.2L520 346.5L508.7 348.8L501.4 353.7L497.8 361.2L497.3 361.5L496.7 361.2L492.3 353.7L486 348.9L479.2 353.7L478.3 361.2L474.7 365.6L469.8 361.2L471.9 353.7L463.3 348.2L452 346.9L440.7 350.3L433.4 346.2L429.3 345.1L427.6 346.2L425.8 353.7L419.3 361.2L418 362.5L415.4 368.7L418 373L420.4 376.2L418 378.6L406.7 377.9L402.1 376.2L399.1 368.7L395.3 366.3L387.5 368.7L384 370.9L379.7 376.2L372.7 378.9L362.9 383.6L361.3 384.3L354.5 383.6L350 382.7L345.2 383.6L338.7 384.9L332.2 391.1L338.7 394.9L346.7 398.6L350 399.8L358.4 406.1L361.3 408.1L370.1 413.6L372.7 415.3L378.6 421.1L384 424.7L393 428.6L395.3 430.1L406.7 434.9L418 432.6L429.3 434.3L433.5 436.1L440.7 439.2L451.5 443.6L452 447.2L463.3 450.9L463.6 451.1L469.1 458.5L463.3 462.4L460.3 466L463.3 470.8L471.5 466L474.7 464L481 466L477.6 473.5L474.7 475.4L463.3 476.6L452 477.7L449.5 481L452 485.8L453.9 488.5L454.5 496L461.5 503.5L463.3 506.3L471.6 511L474.7 514.2L482.6 511L486 509.3L491.2 511L497.3 516.2L508.7 517.7L509.6 518.5L513 526L508.7 531L506.4 533.4L500.9 540.9L497.3 543.3L487.9 548.4L486 549.3L474.7 550.5L463.3 551.8L453.6 548.4L463.3 542.2L474.7 546.4L481.5 540.9L478.3 533.4L474.7 532.3L463.3 531.6L452 531.5L448.2 533.4L445.5 540.9L440.7 543.7L429.3 545.2L427.3 548.4L429.3 549.9L439.1 555.9L440.7 556.8L452 561.3L463.3 560.1L474.7 560.6L478.3 563.4L486 570.4L486.6 570.9L486 575.5L474.7 573.3L463.3 578.4L464.5 585.9L463.3 588.1L460.1 593.4L463.3 598.3L465.3 600.9L463.3 602.6L452 606L447.5 608.3L440.7 612.5L437.1 615.8L440.7 618.1L450.4 623.3L440.7 628.5L436.9 630.8L434.4 638.3L436.3 645.8L440.7 649.2L445.7 653.3L452 660.5L452.3 660.8L452 662.3L451.3 668.3L452 669.4L463.3 670.9L470.2 675.8L472.8 683.2L474.7 684.4L486 685.8L490 690.7L494 698.2M393.4 690.7L395.3 692L400.9 690.7L395.3 689.5L393.4 690.7M497.3 625.3L491.3 623.3L488.8 615.8L486 614L478.5 615.8L474.7 618.8L472.9 615.8L469.1 608.3L474.7 605.3L486 601.5L497.3 604.7L499.3 608.3L508.7 614.4L517 615.8L508.7 619.3L503.2 623.3L497.3 625.3M417.7 608.3L418 608.9L421.2 608.3L418 606.9L417.7 608.3M346.9 600.9L350 601.9L352 600.9L350 599.8L346.9 600.9M326.1 593.4L327.3 595.3L329.8 593.4L327.3 591.4L326.1 593.4M377.6 593.4L384 594.5L388.2 593.4L384 589.5L377.6 593.4M415.6 593.4L418 596.6L429.3 598L440.7 595.6L444.1 593.4L446.9 585.9L440.7 580.6L437.5 578.4L440.7 575.8L450.5 570.9L440.7 568.2L429.3 569.1L428.1 570.9L426.7 578.4L429.3 584.3L431.9 585.9L429.3 587L418 591.8L415.6 593.4M332.8 585.9L338.7 589.3L350 587.8L361.3 588.6L365.8 585.9L361.3 580.5L357.8 578.4L350 575.1L346.1 570.9L342.4 563.4L340 555.9L338.7 555L334.8 555.9L327.3 558L319.2 563.4L320.2 570.9L325.5 578.4L327.3 581.1L332.8 585.9M367.7 578.4L372.7 579.6L375.8 578.4L375 570.9L372.7 569.9L363.9 570.9L367.7 578.4M389.6 578.4L395.3 581.8L397.1 578.4L395.3 576.9L389.6 578.4M405.3 563.4L406.7 564.3L411.8 563.4L406.7 562.5L405.3 563.4M508.7 548.8L507.6 548.4L508.7 547.7L510.1 548.4L508.7 548.8M520 543.1L517.4 540.9L520 539.1L522.1 540.9L520 543.1M381.6 533.4L384 535.1L395.3 535.7L398.1 533.4L395.3 532.5L384 531.9L381.6 533.4M549.3 533.4L554 534.8L556.3 533.4L554 532L549.3 533.4M371.3 526L372.7 526.6L373.6 526L372.7 524.7L371.3 526M484.5 526L486 528.2L492.6 526L486 524.6L484.5 526M508.7 506.5L505.4 503.5L508.5 496L508.7 495.9L509 496L515.6 503.5L508.7 506.5M486 495.8L478.7 488.5L486 482.4L491.3 488.5L486 495.8M497.3 469.1L490.1 466L497.3 463.5L505 466L497.3 469.1M440.7 397.3L436.2 391.1L440.7 386.7L444.9 391.1L440.7 397.3M486 392.4L482.5 391.1L474.7 385.7L463.3 387.5L455 383.6L463.3 378.7L469.2 376.2L474.7 371.9L486 376L497.3 374.3L505.5 376.2L497.3 380.4L489.1 383.6L491.5 391.1L486 392.4M440.7 368.7L440.3 368.7L440.7 368.6L449.2 368.7L440.7 368.7M463.3 370.1L452.2 368.7L463.3 367.6L466.2 368.7L463.3 370.1M403.7 361.2L406.7 363.2L416.4 361.2L406.7 360.2L403.7 361.2M339.8 353.7L350 358.8L361.3 357.1L372.7 357.2L375.9 353.7L372.7 351.4L362.2 346.2L361.3 345.4L359.8 346.2L350 349.3L339.8 353.7M448.4 338.7L452 344.4L459 338.7L463.3 337.3L467.6 338.7L474.7 341.7L486 344.7L497.3 344.9L504.9 338.7L508.7 333.9L512 331.2L508.7 329.3L497.3 325L486 324.6L474.7 328.2L463.3 327L456.2 331.2L452 335.8L448.4 338.7M449.1 316.2L452 321.5L463.3 320.8L471.4 316.2L463.3 311.1L457.1 308.7L452 304.6L441.1 308.7L449.1 316.2M462.2 263.8L463.3 264.8L468.5 263.8L474.7 262.9L486 260.4L488.9 256.3L486 253.4L475.2 248.8L474.7 248.7L463.3 247.1L452.3 248.8L452 249L449.4 256.3L452 258L462.2 263.8M575.1 256.3L576.7 257.4L578.2 256.3L576.7 251.6L575.1 256.3M547.5 241.3L554 244.9L560.2 241.3L554 236.3L547.5 241.3M523.2 233.8L531.3 238.7L537.5 233.8L531.3 231.5L523.2 233.8M518.6 226.4L520 229.7L521.5 226.4L520 225.9L518.6 226.4M337.7 788.1L338.7 789.4L346.6 788.1L338.7 786.7L337.7 788.1M352.3 795.6L350 790.6L348.2 795.6M353.8 788.1L361.3 789.6L372.7 792.2L376.9 788.1L372.7 783.8L361.3 786.2L353.8 788.1M414.8 788.1L418 790.6L426 788.1L429.3 786L440.7 781L442.6 780.6L440.7 780.4L429.3 774.2L418 779L406.7 778.1L395.3 777.7L384 780L379.2 780.6L384 782.5L395.3 783.8L406.7 783.3L414.8 788.1M486.5 795.6L486 795L484.9 795.6M454.5 780.6L463.3 784.9L474.7 787.9L484.1 780.6L486 777.5L492.2 780.6L497.3 782.2L503.7 780.6L508.7 779.4L520 780.5L527.9 773.1L531.3 769L535 765.6L542.7 762.2L547.3 758.1L554 750.7L554.1 750.7L554 750.7L542.7 750.2L541.5 750.7L531.3 756.2L523.4 758.1L523.4 765.6L520 766.6L508.7 767.9L504.3 765.6L497.3 759.2L496.6 758.1L492.6 750.7L490.6 743.2L486 735.7L485.8 735.7L480.2 728.2L486 726.5L496.2 720.7L495 713.2L486 709L474.7 710.5L463.3 711.8L452 711.8L440.7 710L434.2 713.2L440.7 716L449.2 720.7L452 723L463.3 724.3L470 728.2L463.3 735.2L462.9 735.7L463.3 736.5L474.7 740.7L476 743.2L474.7 744.4L463.3 744.7L452 746L441.2 743.2L440.7 743.1L440.4 743.2L440.7 744.3L442.3 750.7L440.7 751.8L432.3 758.1L436 765.6L440.7 768.2L450.2 773.1L452 777.5L454.5 780.6M497.3 775.8L494.5 773.1L497.3 771.9L498.7 773.1L497.3 775.8M402.9 758.1L406.7 760L409 758.1L406.7 756.5L402.9 758.1M404.4 735.7L406.7 736.8L407.3 735.7L406.7 734.9L404.4 735.7M395.1 728.2L395.3 728.3L395.4 728.2L395.3 728.1L395.1 728.2M429.1 720.7L429.3 720.9L429.7 720.7L429.3 720.1L429.1 720.7M349.7 713.2L350 713.4L350.7 713.2L350 712L349.7 713.2M403.1 713.2L406.7 713.4L407 713.2L406.7 712.6L403.1 713.2M338.5 698.2L338.7 699.9L339.7 698.2L350 694.5L352.3 690.7L350 687L338.7 686.7L335.7 690.7L338.5 698.2M497.2 698.2L497.3 698.4L497.5 698.2L501.2 690.7L508.7 685L515.1 690.7L520 694L527.3 690.7L531.3 687.9L538.3 683.2L542.7 681.2L546.7 675.8L542.7 669L542.3 668.3L542.7 667.9L544.1 668.3L554 670.5L556.1 668.3L554 665.2L549.9 660.8L545.8 653.3L542.7 648.5L540.2 645.8L531.3 641.2L528.3 638.3L520 633.3L514.5 630.8L520 626.2L521.9 623.3L520 618.1L508.7 622.6L507.6 623.3L497.3 626.7L486.8 623.3L486 619.9L482.4 623.3L474.7 625.5L473 623.3L468.4 615.8L465.1 608.3L463.3 606.6L452.6 608.3L452 609.4L440.7 615.3L440.1 615.8L440.7 616.2L452 617.4L454.2 623.3L452 624.9L440.7 630.4L439.9 630.8L436.5 638.3L439.1 645.8L440.7 647L448.3 653.3L452 657.5L454.7 660.8L463.3 667.5L465.3 668.3L474.7 674.9L475.3 675.8L486 682.5L487.2 683.2L493.7 690.7L497.2 698.2M463.3 639.3L462.1 638.3L463.3 634.6L463.9 638.3L463.3 639.3M486 631.4L481.9 630.8L486 625.2L487.8 630.8L486 631.4M501.4 608.3L508.7 613.1L520 614.3L531.3 609.5L533.2 608.3L542.7 603.7L543.7 600.9L542.7 596L541.5 593.4L531.3 591.1L520 591.3L508.7 592.5L505.9 593.4L497.3 600.9L501.4 608.3M470 600.9L474.7 603.1L481.1 600.9L481.6 593.4L483.4 585.9L481.8 578.4L474.7 575.4L468 578.4L468.1 585.9L464.4 593.4L470 600.9M383.9 593.4L384 593.4L384.1 593.4L384 593.3L383.9 593.4M420.3 593.4L429.3 596.3L439.9 593.4L440.7 592.2L443.3 585.9L440.7 583.7L437 585.9L429.3 589.3L420.3 593.4M335.5 585.9L338.7 587.7L348.8 585.9L350 581.7L350.8 578.4L350 578L343.2 570.9L339.6 563.4L338.7 558.7L327.3 559.3L321.1 563.4L322.1 570.9L327.1 578.4L327.3 578.8L335.5 585.9M353.4 585.9L361.3 586.6L362.4 585.9L361.3 584.5L353.4 585.9M394.9 578.4L395.3 578.6L395.5 578.4L395.3 578.3L394.9 578.4M428.1 578.4L429.3 581L433 578.4L429.3 572.6L428.1 578.4M493.8 578.4L497.3 579.7L498.5 578.4L508.7 571.6L510.1 570.9L508.7 568.6L497.3 564.5L495.1 563.4L497.3 562.4L508.7 561.2L517.1 555.9L520 549.4L524.5 555.9L526.5 563.4L531.3 563.8L532 563.4L535.3 555.9L534.5 548.4L536.5 540.9L531.3 536.7L527 540.9L520 548L519.2 548.4L508.7 551.3L501 548.4L497.3 546.6L494 548.4L486 552L474.7 552.8L465 555.9L474.7 558.6L480.8 563.4L486 568.1L489.3 570.9L493.8 578.4M433.8 570.9L440.7 572.2L443.3 570.9L440.7 570.2L433.8 570.9M446.6 555.9L452 558L460.2 555.9L452 552.9L447.1 548.4L440.7 545.9L432.6 548.4L440.7 553.2L446.6 555.9M449.3 540.9L452 544.3L457.1 540.9L452 533.4L449.3 540.9M467.7 540.9L474.7 544.1L478.7 540.9L474.7 535.4L467.7 540.9M506.1 540.9L508.7 543.1L511.5 540.9L508.7 537.2L506.1 540.9M515.4 533.4L520 534.9L523.7 533.4L521.9 526L525.3 518.5L531.3 514.4L535.9 511L532.8 503.5L531.3 501.9L525.5 496L520.5 488.5L520 487.5L515.4 481L520 478.7L528.9 473.5L520 467.4L511.5 473.5L508.7 476.1L503.5 473.5L497.3 471.7L486 468.4L482.5 473.5L486 477.5L492.2 481L495 488.5L489.1 496L486 502.9L484.7 503.5L486 503.9L497.3 509.4L501.5 511L508.7 514.4L513.8 518.5L517.2 526L515.4 533.4M463.1 503.5L463.3 503.8L465.5 503.5L474.7 499.8L479.3 496L474.7 490.3L474.1 488.5L474.7 486.9L480.8 481L474.7 478.6L463.3 478.9L452 479.6L450.9 481L452 483L455.9 488.5L458 496L463.1 503.5M508.7 508.6L502.9 503.5L505.4 496L508.7 493.8L514.5 496L520 502.6L523.4 503.5L520 507L508.7 508.6M536.6 473.5L542.7 476.4L544.4 473.5L542.7 471.4L536.6 473.5M461.7 466L463.3 468.6L467.8 466L463.3 464.1L461.7 466M471.7 458.5L474.7 461.5L486 462.8L497.3 461.4L508.7 459L509.1 458.5L520 457.6L531.3 457.9L535 458.5L542.7 461.7L545.4 458.5L554 453L556 451.1L560.3 443.6L556.1 436.1L554 430L552.4 428.6L542.7 425.2L531.3 424.6L529.2 421.1L521.6 413.6L520 412.2L514.2 406.1L520 399.6L521.2 398.6L520 397.7L508.7 393.9L502.3 398.6L497.3 404.9L491.6 398.6L486 395.7L474.7 392.6L473.2 391.1L463.3 389.3L452 384.5L447.7 391.1L444.6 398.6L440.7 401.7L437.6 398.6L433.2 391.1L440.7 383.7L441.1 383.6L440.7 382.1L440.3 376.2L429.3 371.6L424.8 376.2L418 383.3L406.7 379.6L397.5 376.2L396 368.7L395.3 368.2L393.9 368.7L384 374.9L383 376.2L372.7 380.1L365.5 383.6L361.3 385.3L350 384.6L338.7 387.2L334.6 391.1L338.7 393.5L349.6 398.6L350 398.8L359.8 406.1L361.3 407.1L371.6 413.6L372.7 414.3L379.5 421.1L384 424L394.5 428.6L395.3 429.2L406.7 434.1L418 432L429.3 433.6L435.2 436.1L440.7 438.5L452 443L454.2 443.6L463.3 449L466.4 451.1L471.7 458.5M463.3 399.7L458.9 398.6L463.3 395.2L469.8 398.6L463.3 399.7M502.2 383.6L508.7 386.7L520 384.8L521.4 383.6L520 378.3L508.7 380.6L502.2 383.6M460.7 376.2L463.3 376.4L463.9 376.2L463.3 375.5L460.7 376.2M477.8 368.7L486 371.4L497.3 372.2L508.7 374.9L520 375.6L526.7 368.7L520 365.2L513.5 361.2L520 356.1L525.4 353.7L520 349.6L508.7 352.4L506.8 353.7L501.4 361.2L497.3 364.2L492.3 361.2L486 354.1L481.5 361.2L477.8 368.7M427.3 361.2L429.3 363.2L440.7 363.7L449.4 361.2L452 360.5L454.4 361.2L463.3 363.4L465.6 361.2L467.4 353.7L463.3 351.1L452 349.6L440.7 352.4L429.4 353.7L429.3 353.8L427.3 361.2M345.1 353.7L350 356.1L361.3 354L372.7 354L373 353.7L372.7 353.5L361.3 352.8L350 351.6L345.1 353.7M429.2 346.2L429.3 353.4L429.6 346.2L429.3 346.1L429.2 346.2M475.7 338.7L486 341.7L497.3 341.8L501.1 338.7L497.3 331.3L486 333.3L475.7 338.7M517 338.7L520 341.7L523.8 338.7L520 336.9L517 338.7M459.2 331.2L463.3 334.7L471.7 331.2L463.3 328.8L459.2 331.2M526.8 331.2L531.3 335L540.7 331.2L532.6 323.7L533.2 316.2L531.3 313.9L520 310L510.5 316.2L518 323.7L520 325.2L526.8 331.2M452.8 316.2L463.3 319.2L468.5 316.2L463.3 312.9L452.8 316.2M482.6 316.2L486 319.7L489.6 316.2L486 313.8L482.6 316.2M451.6 308.7L452 310.5L452.2 308.7L452 308.6L451.6 308.7M494.4 308.7L497.3 310.6L504.5 308.7L508.7 304.9L511.1 301.3L508.7 300.4L497.3 297.5L490.6 301.3L494.4 308.7M472.7 301.3L474.7 301.7L476 301.3L475.7 293.8L474.7 291.9L473.1 293.8L472.7 301.3M434 293.8L440.7 297L452 294.6L453.3 293.8L452 293.2L440.9 286.3L440.7 286.2L440.5 286.3L434 293.8M463 286.3L463.3 286.7L464.5 286.3L463.3 286L463 286.3M450.9 256.3L452 257L463.3 263L474.7 261.8L486 257.7L486.9 256.3L486 255.4L474.7 249.9L468.7 248.8L463.3 248.1L458.5 248.8L452 253.2L450.9 256.3M551.2 241.3L554 242.8L556.6 241.3L554 239.2L551.2 241.3M530.6 233.8L531.3 234.3L531.9 233.8L531.3 233.6L530.6 233.8M371.9 788.1L372.7 788.3L372.9 788.1L372.7 787.9L371.9 788.1M418 788.1L418 788.1L418 788.1L418 788.1L418 788.1M387.1 780.6L395.3 782.3L406.7 781.4L410.3 780.6L406.7 779.9L395.3 779.1L387.1 780.6M428.8 780.6L429.3 780.8L429.9 780.6L429.3 780.3L428.8 780.6M459.4 780.6L463.3 782.6L474.7 786.4L482.1 780.6L486 774.3L488.3 773.1L497.3 769.1L501.2 765.6L497.3 762L494.4 758.1L489.5 750.7L488.1 743.2L486 739.8L481.5 743.2L474.7 749.2L463.3 746.4L452 747.9L446.2 750.7L440.7 754.5L435.8 758.1L438.3 765.6L440.7 767L452 772.1L452.7 773.1L459.4 780.6M501.7 773.1L508.7 777.5L520 777.3L524.5 773.1L520 769.4L508.7 769.5L501.7 773.1M529.9 758.1L531.3 762.2L542.7 760.2L545 758.1L542.7 753.5L531.3 757.8L529.9 758.1M473.5 728.2L474.7 731.3L476.1 728.2L486 725.3L494.1 720.7L492.4 713.2L486 710.2L474.7 711.3L463.3 712.7L457.9 713.2L455.2 720.7L463.3 722.3L473.5 728.2M439.1 713.2L440.7 713.9L444.4 713.2L440.7 712.5L439.1 713.2M336.9 690.7L338.7 695.5L350 691.8L350.6 690.7L350 689.7L338.7 688.3L336.9 690.7M518.6 690.7L520 691.7L522.2 690.7L520 687.2L518.6 690.7M489.9 683.2L497.3 690.7L507.1 683.2L504.8 675.8L508.7 673.9L513.9 675.8L520 680.5L527.4 683.2L531.3 684.2L532.7 683.2L542.7 678.7L544.8 675.8L542.7 672.2L540.5 668.3L542.7 666.2L548.2 660.8L543.3 653.3L542.7 652.3L536.9 645.8L531.3 642.9L526.5 638.3L520 634.4L512.1 630.8L508.7 626L497.3 628.2L491.2 630.8L486 632.4L474.7 630.9L466.8 638.3L463.3 644L456.1 638.3L458.4 630.8L463.3 628L468.8 623.3L463.9 615.8L463.3 614.5L461.9 615.8L458.1 623.3L452 627.8L445.4 630.8L440.7 634L438.5 638.3L440.7 643.6L441.9 645.8L451 653.3L452 654.5L457.2 660.8L463.3 665.6L470.3 668.3L474.7 671.4L478 675.8L486 680.8L489.9 683.2M550.4 668.3L554 669.1L554.8 668.3L554 667.2L550.4 668.3M516.1 623.3L520 624.2L520.5 623.3L520 621.8L516.1 623.3M503.5 608.3L508.7 611.7L520 611.7L527.2 608.3L531.3 603.1L537.1 600.9L538.3 593.4L531.3 591.8L520 592.3L511.1 593.4L508.7 593.8L499.2 600.9L503.5 608.3M474.6 600.9L474.7 600.9L474.7 600.9L477.7 593.4L478.8 585.9L476.9 578.4L474.7 577.4L472.6 578.4L471.6 585.9L470.2 593.4L474.6 600.9M425.3 593.4L429.3 594.7L434.1 593.4L429.3 591.5L425.3 593.4M338.1 585.9L338.7 586.2L340.4 585.9L347.6 578.4L340.4 570.9L338.7 567.3L336 563.4L327.3 560.6L323.1 563.4L323.9 570.9L327.3 576.1L329.6 578.4L338.1 585.9M492 570.9L497.3 576.6L505.8 570.9L497.3 566.6L492 570.9M483.4 563.4L486 565.8L490.6 563.4L497.3 560.2L508.7 558.4L512.5 555.9L508.7 553.8L497.3 549.8L486 554.7L474.7 555.1L472.2 555.9L474.7 556.6L483.4 563.4M439.5 548.4L440.7 549.1L441.6 548.4L440.7 548.1L439.5 548.4M472.7 540.9L474.7 541.8L475.8 540.9L474.7 539.4L472.7 540.9M518 518.5L520 522.8L521.7 518.5L520 515.8L518 518.5M508.2 511L508.7 511.2L509.4 511L508.7 510.8L508.2 511M527.5 511L531.3 512L532.7 511L531.3 508.1L527.5 511M490.7 503.5L497.3 506.8L500.5 503.5L502.2 496L508.7 491.7L515.8 488.5L509.3 481L508.7 480.5L506.4 481L499.5 488.5L497.3 489.9L492.3 496L490.7 503.5M461.4 496L463.3 499L470.4 496L471.2 488.5L463.3 481.4L457.9 488.5L461.4 496M519.9 496L520 496.1L520.1 496L520 495.9L519.9 496M516.3 473.5L520 475.8L523.8 473.5L520 470.9L516.3 473.5M463.1 466L463.3 466.4L464 466L463.3 465.8L463.1 466M474.2 458.5L474.7 459L477.6 458.5L486 457.6L493.3 458.5L497.3 459.2L500 458.5L508.7 456.4L520 456.2L531.3 456.6L542.3 458.5L542.7 458.7L542.8 458.5L542.7 457.9L541.3 451.1L542.7 449.7L551.5 451.1L554 451.3L554.3 451.1L558.9 443.6L554.8 436.1L554 433.7L548.3 428.6L542.7 426.7L531.3 427.5L527.4 421.1L520 414.3L518.7 413.6L512.1 406.1L510.7 398.6L508.7 398.1L508 398.6L501.2 406.1L497.3 408.7L492.6 406.1L486 399.4L478 406.1L474.7 406.8L473.5 406.1L463.3 400.9L453.7 398.6L463.3 391.2L463.4 391.1L463.3 391.1L452 388.9L450.6 391.1L450.2 398.6L440.7 406.1L440.7 406.1L440.7 406.1L433.2 398.6L430.2 391.1L434 383.6L429.6 376.2L429.3 376L429.2 376.2L424.5 383.6L418 386.2L413.3 383.6L406.7 381.4L395.3 378.4L384 378.9L372.7 381.3L368 383.6L361.3 386.3L350 386.1L338.7 389.4L336.9 391.1L338.7 392.2L350 397L351.1 398.6L361.2 406.1L361.3 406.2L372.7 412.9L373 413.6L380.5 421.1L384 423.4L395.3 428.1L396.2 428.6L406.7 433.2L418 431.4L429.3 432.9L436.9 436.1L440.7 437.7L452 442.2L457.3 443.6L463.3 447.2L469.1 451.1L474.2 458.5M490.2 368.7L497.3 370.1L508.7 373.1L520 372.7L523.9 368.7L520 366.6L511.1 361.2L508.7 356.6L505 361.2L497.3 366.8L490.2 368.7M484.6 361.2L486 365L487.9 361.2L486 359L484.6 361.2M445.7 353.7L452 356L461.6 353.7L452 352.3L445.7 353.7M516.4 353.7L520 354.2L521.3 353.7L520 352.7L516.4 353.7M485.8 338.7L486 338.8L497.3 338.7L497.4 338.7L497.3 338.7L486 338.6L485.8 338.7M462.3 331.2L463.3 332.1L465.4 331.2L463.3 330.6L462.3 331.2M529.8 331.2L531.3 332.5L534.6 331.2L531.3 327.8L529.8 331.2M458.6 316.2L463.3 317.5L465.6 316.2L463.3 314.8L458.6 316.2M518.3 316.2L520 318.7L525.7 316.2L520 315.1L518.3 316.2M495.5 301.3L497.3 305.2L501.6 301.3L497.3 300.2L495.5 301.3M438.5 293.8L440.7 294.8L445 293.8L440.7 291.2L438.5 293.8M453.3 256.3L463.3 260.8L474.7 260.7L484.7 256.3L474.7 251.2L463.3 249.6L453.3 256.3M394.4 780.6L395.3 780.8L397.4 780.6L395.3 780.4L394.4 780.6M464 780.6L474.7 784.8L480.1 780.6L484.7 773.1L486 770.9L497.3 766.4L498.2 765.6L497.3 764.9L492.3 758.1L486.5 750.7L486 747L483.7 750.7L474.7 751.8L471.2 750.7L463.3 748.1L452 749.8L450.2 750.7L440.7 757.2L439.4 758.1L440.5 765.6L440.7 765.7L452 767.9L455.8 773.1L463.3 780.1L464 780.6M504.7 773.1L508.7 775.6L520 774.1L521.1 773.1L520 772.2L508.7 771L504.7 773.1M542.1 758.1L542.7 758.2L542.8 758.1L542.7 758L542.1 758.1M476.8 720.7L486 724.1L492 720.7L489.9 713.2L486 711.4L474.7 712.2L466.5 713.2L474.7 717.9L476.8 720.7M338.1 690.7L338.7 692.3L343.7 690.7L338.7 689.9L338.1 690.7M492.6 683.2L497.3 688L503.6 683.2L499.2 675.8L508.7 671.1L520 674.5L521 675.8L531.3 681.3L542.7 676.1L542.9 675.8L542.7 675.4L538.8 668.3L542.7 664.5L546.4 660.8L542.7 655.2L536.8 653.3L533.6 645.8L531.3 644.7L524.7 638.3L520 635.4L509.7 630.8L508.7 629.4L497.3 629.6L494.6 630.8L486 633.4L474.7 633.7L469.8 638.3L474.7 645.6L474.9 645.8L474.7 647L463.3 646.7L461.1 645.8L452 639.1L441.6 638.3L440.7 638.2L440.6 638.3L440.7 638.5L444.7 645.8L452 651.9L453.3 653.3L459.7 660.8L463.3 663.6L474.7 667.8L475 668.3L480.7 675.8L486 679.1L492.6 683.2M497.3 654.2L495.8 653.3L497.3 652.4L499.3 653.3L497.3 654.2M451.7 630.8L452 631.8L452.3 630.8L452 630.7L451.7 630.8M462.1 623.3L463.3 624.4L464.6 623.3L463.3 621.4L462.1 623.3M505.6 608.3L508.7 610.3L520 609.2L521.8 608.3L530 600.9L531.3 598.1L535 593.4L531.3 592.5L520 593.4L519.9 593.4L508.7 595.2L501.1 600.9L505.6 608.3M332.2 578.4L338.7 584L345 578.4L338.7 572L335 570.9L332 563.4L327.3 561.9L325.1 563.4L325.8 570.9L327.3 573.3L332.2 578.4M494.6 570.9L497.3 573.8L501.6 570.9L497.3 568.7L494.6 570.9M485.9 563.4L486 563.5L486.1 563.4L486 563.1L485.9 563.4M489.9 555.9L497.3 558.1L507.2 555.9L497.3 552.8L489.9 555.9M495.9 503.5L497.3 504.2L498 503.5L499.1 496L497.3 493.8L495.5 496L495.9 503.5M459.9 488.5L463.3 494.5L468.4 488.5L463.3 483.9L459.9 488.5M505.6 488.5L508.7 489.6L511.1 488.5L508.7 485.8L505.6 488.5M471.9 451.1L474.7 455.2L486 455.9L497.3 456.7L508.7 454.2L520 454.8L531.3 455.4L539 451.1L542.7 447.5L554 449.2L557.5 443.6L554 437L552.7 436.1L544.2 428.6L542.7 428.1L538.5 428.6L531.3 430L529.7 428.6L525.6 421.1L520 415.9L515.3 413.6L510 406.1L508.7 403L505.8 406.1L497.3 411.9L486.9 406.1L486 405.2L484.9 406.1L474.7 408.4L471.2 406.1L463.3 402.1L452 400.8L444.9 406.1L440.7 407.1L438.2 406.1L429.3 398.9L418 399.1L415.9 398.6L418 395.4L423.9 391.1L418 389L408.3 383.6L406.7 383.1L395.3 382.7L384 382.8L372.7 382.6L370.5 383.6L361.3 387.3L350 387.7L339.8 391.1L350 395.1L352.4 398.6L361.3 405.3L365.2 406.1L372.7 410.4L374.2 413.6L381.5 421.1L384 422.7L395.3 426.9L398.1 428.6L406.7 432.4L418 430.8L429.3 432.2L438.5 436.1L440.7 437L452 441.3L460.3 443.6L463.3 445.4L471.9 451.1M499.4 368.7L508.7 371.3L520 369.8L521.1 368.7L520 368.1L508.7 361.2L508.7 361.1L508.6 361.2L499.4 368.7M458.4 256.3L463.3 258.5L474.7 259.7L482.3 256.3L474.7 252.5L463.3 253L458.4 256.3M467.9 780.6L474.7 783.3L478.1 780.6L482.7 773.1L486 767.3L490.5 765.6L490.2 758.1L486 752.9L474.7 753.4L466.1 750.7L463.3 749.7L457.6 750.7L452 751.9L442.8 758.1L452 764.5L453.4 765.6L458.8 773.1L463.3 777.3L467.9 780.6M507.7 773.1L508.7 773.7L512.3 773.1L508.7 772.6L507.7 773.1M463.3 759.4L461.2 758.1L463.3 754.1L465.3 758.1L463.3 759.4M480 720.7L486 722.9L489.9 720.7L487.4 713.2L486 712.6L474.7 713.1L473.7 713.2L474.7 713.7L480 720.7M495.3 683.2L497.3 685.3L500 683.2L497.3 679.3L495.3 683.2M483.4 675.8L486 677.4L492.7 675.8L497.3 672.8L508.7 668.4L520 668.5L526 675.8L531.3 678.6L537.6 675.8L537 668.3L542.7 662.8L544.7 660.8L542.7 657.8L531.3 654.3L529.3 653.3L526.9 645.8L522.9 638.3L520 636.5L508.7 631.8L497.3 631.2L486 634.4L474.7 636.4L472.7 638.3L474.7 641.3L480 645.8L477 653.3L474.7 656.8L472.7 653.3L463.3 648L457.7 645.8L452 641.6L447.4 645.8L452 649.6L455.3 653.3L462.2 660.8L463.3 661.7L474.7 664L477.7 668.3L483.4 675.8M508.7 668L506.5 660.8L508.7 658.5L517.8 660.8L508.7 668M497.3 655.7L493.4 653.3L497.3 651L502.6 653.3L497.3 655.7M507.7 608.3L508.7 609L513.4 608.3L520 607.3L528.1 600.9L531.3 593.9L531.7 593.4L531.3 593.3L530.1 593.4L520 594.8L508.7 596.6L503 600.9L507.7 608.3M334.9 578.4L338.7 581.7L342.3 578.4L338.7 574.7L334.9 578.4M497.3 570.9L497.3 570.9L497.4 570.9L497.3 570.9L497.3 570.9M327 563.4L327.3 567.3L328 563.4L327.3 563.2L327 563.4M496.9 555.9L497.3 556L497.9 555.9L497.3 555.7L496.9 555.9M461.8 488.5L463.3 491.1L465.5 488.5L463.3 486.5L461.8 488.5M474.6 451.1L474.7 451.1L486 454.2L497.3 454L508.7 452.1L520 453.5L531.3 454.1L536.7 451.1L542.7 445.4L554 447L556.1 443.6L554 439.6L549 436.1L542.7 430.6L531.3 432.2L527.2 428.6L523.8 421.1L520 417.6L512 413.6L508.7 408.2L500.8 413.6L501.3 421.1L497.3 421.3L496.2 421.1L496 413.6L486 407.6L474.7 409.9L468.8 406.1L463.3 403.3L452 403.9L449.1 406.1L440.7 408L435.6 406.1L429.3 400.9L418 400L412.4 398.6L416.6 391.1L406.7 385.8L397.2 391.1L395.3 391.7L384 391.4L383.2 391.1L372.7 383.8L361.3 388.3L350 389.3L344.5 391.1L350 393.3L353.6 398.6L361.3 404.3L369.6 406.1L372.7 407.9L375.4 413.6L382.5 421.1L384 422.1L395.3 425.6L400 428.6L406.7 431.5L418 430.2L429.3 431.6L440.2 436.1L440.7 436.3L452 440.5L463.3 443.5L463.4 443.6L474.6 451.1M505.9 368.7L508.7 369.5L513.4 368.7L508.7 366.4L505.9 368.7M463.5 256.3L474.7 258.6L479.8 256.3L474.7 253.7L463.5 256.3M471.7 780.6L474.7 781.8L476.2 780.6L480.7 773.1L484.2 765.6L486 763L488.1 758.1L486 755.6L474.7 755L468.5 758.1L463.3 761.3L457.7 758.1L452 754.2L446.2 758.1L452 762.2L456.5 765.6L461.8 773.1L463.3 774.5L471.7 780.6M483.3 720.7L486 721.7L487.8 720.7L486 715.9L483.3 720.7M530.9 675.8L531.3 676L531.8 675.8L535.3 668.3L542.7 661L542.9 660.8L542.7 660.4L531.3 657.3L524.6 660.8L523.4 668.3L530.9 675.8M480.4 668.3L486 675.6L497.3 668.3L497.3 668.2L503.8 660.8L497.3 657.2L490.9 653.3L497.3 649.5L505.8 653.3L508.7 655.7L520 656.4L523.3 653.3L520 649.3L517.1 645.8L520 642.6L521.1 638.3L520 637.6L508.7 633.4L497.3 633.5L486 635.4L475.8 638.3L485.1 645.8L480 653.3L475.3 660.8L480.4 668.3M457.4 653.3L463.3 659.6L470.3 653.3L463.3 649.4L457.4 653.3M450.2 645.8L452 647.3L454.2 645.8L452 644.2L450.2 645.8M504.8 600.9L508.7 606.8L520 605.7L526.1 600.9L520 596.3L508.7 598L504.8 600.9M337.6 578.4L338.7 579.3L339.7 578.4L338.7 577.4L337.6 578.4M480.7 451.1L486 452.5L497.3 451.4L499.4 451.1L508.7 450.4L513.4 451.1L520 452.1L531.3 452.8L534.5 451.1L541.9 443.6L542.7 442.1L545.4 436.1L542.7 433.7L531.3 434.4L524.8 428.6L522.1 421.1L520 419.2L512.5 421.1L508.7 421.8L497.3 422L491.1 421.1L493 413.6L486 409.5L474.7 411.4L466.5 406.1L463.3 404.5L454.1 406.1L452 406.6L440.7 409L433.1 406.1L429.3 403L418 400.8L408.9 398.6L410.7 391.1L406.7 389L402.8 391.1L395.3 393.5L384 392.1L381.6 391.1L372.7 385L361.3 389.3L350 390.9L349.2 391.1L350 391.4L354.9 398.6L361.3 403.4L372.7 405.8L373.7 406.1L376.5 413.6L383.5 421.1L384 421.4L395.3 424.4L402 428.6L406.7 430.7L418 429.7L429.3 430.9L440.7 434.9L442.3 436.1L452 439.7L463.3 442.1L466.2 443.6L474.7 449.2L480.7 451.1M545.5 443.6L554 444.7L554.7 443.6L554 442.2L545.5 443.6M469 256.3L474.7 257.5L477.3 256.3L474.7 255L469 256.3M465.6 773.1L474.7 779.8L478.7 773.1L480.9 765.6L485.6 758.1L474.7 756.6L471.6 758.1L463.3 763.2L459.5 765.6L463.3 771L465.6 773.1M449.7 758.1L452 759.8L454.3 758.1L452 756.6L449.7 758.1M483 668.3L486 672.1L491.9 668.3L497.3 665.2L501.2 660.8L497.3 658.6L488.4 653.3L486 649.2L483 653.3L480.7 660.8L483 668.3M526.9 668.3L531.3 672.6L533.5 668.3L533.3 660.8L531.3 660.2L530.3 660.8L526.9 668.3M459.5 653.3L463.3 657.4L467.8 653.3L463.3 650.8L459.5 653.3M489.9 645.8L497.3 648.1L508.7 651.4L511 645.8L518.2 638.3L508.7 635.1L497.3 635.7L486 636.4L479.4 638.3L486 643.5L489.9 645.8M506.7 600.9L508.7 603.9L520 604.2L524.1 600.9L520 597.8L508.7 599.4L506.7 600.9M524.2 451.1L531.3 451.6L532.2 451.1L537.4 443.6L531.3 437.2L531 436.1L522.3 428.6L520.3 421.1L520 420.8L519 421.1L508.7 423L497.3 422.7L486 421.1L489.9 413.6L486 411.3L474.7 413L464.1 406.1L463.3 405.7L461.1 406.1L452 408.1L440.7 410L430.6 406.1L429.3 405L418 401.6L406.7 399L404.8 398.6L395.3 395.3L384 392.8L379.9 391.1L372.7 386.1L361.3 390.3L355.7 391.1L356.2 398.6L361.3 402.5L372.7 404.7L377 406.1L377.7 413.6L384 420.5L386.4 421.1L395.3 423.2L403.9 428.6L406.7 429.8L418 429.1L429.3 430.2L440.7 433.2L444.5 436.1L452 438.9L463.3 440.6L468.9 443.6L474.7 447.4L486 449.1L497.3 449.5L508.7 449.1L520 450.4L524.2 451.1M474.4 256.3L474.7 256.4L474.8 256.3L474.7 256.2L474.4 256.3M470.2 773.1L474.7 776.4L476.6 773.1L477.6 765.6L474.7 758.5L463.3 765.2L462.6 765.6L463.3 766.7L470.2 773.1M485.7 668.3L486 668.7L486.6 668.3L486 660.9L485.7 668.3M530.4 668.3L531.3 669.2L531.8 668.3L531.3 666.4L530.4 668.3M486 660.8L497.3 662.2L498.5 660.8L497.3 660.1L486 660.8M461.6 653.3L463.3 655.1L465.4 653.3L463.3 652.2L461.6 653.3M494.5 645.8L497.3 646.7L502.9 645.8L508.7 642.9L513.4 638.3L508.7 636.7L497.3 638L486 637.4L482.9 638.3L486 640.7L494.5 645.8M508.6 600.9L508.7 601L520 602.6L522.2 600.9L520 599.2L508.7 600.8L508.6 600.9M471.7 443.6L474.7 445.5L481.9 443.6L486 442.7L488.4 443.6L497.3 447.7L508.7 447.9L520 447.6L531.3 446.2L532.8 443.6L531.3 442L529.3 436.1L520 428.7L519.7 428.6L508.7 424.2L497.3 423.5L486 422L483.8 421.1L486 415.3L486.9 413.6L486 413.1L482.2 413.6L474.7 414.5L472.8 413.6L463.3 407.5L452 409.6L440.7 410.9L429.3 406.7L428.2 406.1L418 402.5L406.7 400.1L399.6 398.6L395.3 397.1L384 393.5L378.3 391.1L372.7 387.3L361.9 391.1L361.3 391.6L357.5 398.6L361.3 401.5L372.7 403.7L380.4 406.1L378.9 413.6L384 419.2L391.5 421.1L395.3 422L405.8 428.6L406.7 428.9L414.8 428.6L418 428.4L419.3 428.6L429.3 429.5L440.7 431.6L446.7 436.1L452 438.1L463.3 439.1L471.7 443.6M518.9 600.9L520 601L520.2 600.9L520 600.7L518.9 600.9M474.5 443.6L474.7 443.7L475.1 443.6L486 441.3L492.3 443.6L497.3 445.9L508.7 446.7L520 444.8L524.5 443.6L527.7 436.1L520 430L516.7 428.6L508.7 425.4L497.3 424.2L486 422.8L481.6 421.1L474.7 416.1L469.7 413.6L463.3 409.5L452 411.2L440.7 411.9L429.3 407.9L425.9 406.1L418 403.3L406.7 401.2L395.3 399.1L395.1 398.6L384 394.1L376.6 391.1L372.7 388.4L365.1 391.1L361.3 393.9L358.7 398.6L361.3 400.6L372.7 402.6L383.8 406.1L380.1 413.6L384 417.9L395.3 420.7L396.1 421.1L406.7 427.6L418 427.5L427.1 428.6L429.3 428.8L440.7 429.9L448.9 436.1L452 437.2L463.3 437.7L474.5 443.6M496.1 443.6L497.3 444.1L508.7 445.4L516.9 443.6L520 442.6L526.1 436.1L520 431.2L513.6 428.6L508.7 426.6L497.3 425L486 423.7L479.3 421.1L474.7 417.7L466.6 413.6L463.3 411.5L452 412.7L440.7 412.8L429.3 409.1L423.5 406.1L418 404.1L406.7 402.3L395.3 402.3L393.4 398.6L384 394.8L374.9 391.1L372.7 389.6L368.3 391.1L361.3 396.2L360 398.6L361.3 399.6L372.7 401.5L384 405.1L388.9 406.1L384 408.3L381.3 413.6L384 416.6L395.3 419L399 421.1L406.7 425.8L418 426.5L427.8 421.1L429.3 419.7L440.7 419.2L445.8 421.1L441.7 428.6L451.1 436.1L452 436.4L463.3 436.2L474.7 442L486 439.8L496.1 443.6M406.7 414.8L405.1 413.6L406.7 412.6L408.7 413.6L406.7 414.8M503.9 443.6L508.7 444.2L511.4 443.6L520 440.9L524.5 436.1L520 432.5L510.5 428.6L508.7 427.9L497.3 425.7L486 424.6L477.1 421.1L474.7 419.3L463.5 413.6L463.3 413.5L462.3 413.6L453.6 421.1L452 423.9L446.6 428.6L452 433.5L463.3 433L466.2 436.1L474.7 440.4L486 438.4L497.3 441.9L503.9 443.6M508.7 438.7L507.5 436.1L508.7 433.8L509.7 436.1L508.7 438.7M401.9 421.1L406.7 424L418 425.6L426.1 421.1L429.3 418.1L439.9 413.6L429.3 410.2L421.2 406.1L418 405L406.7 403.4L395.3 405.5L391.8 398.6L384 395.5L373.3 391.1L372.7 390.7L371.5 391.1L361.3 398.5L361.3 398.6L361.3 398.7L372.7 400.5L384 403.9L394.2 406.1L384 410.6L382.5 413.6L384 415.3L395.3 417.3L401.9 421.1M406.7 417.2L402 413.6L406.7 410.8L412.5 413.6L406.7 417.2M469.4 436.1L474.7 438.8L486 437L497.3 439.5L503.3 436.1L507.3 428.6L497.3 426.5L486 425.5L474.9 421.1L474.7 420.9L463.3 415.3L455.9 421.1L452 428.2L451.5 428.6L452 429L463.3 429.6L469.4 436.1M513.4 436.1L520 439.1L522.9 436.1L520 433.8L513.4 436.1M404.9 421.1L406.7 422.2L418 424.7L424.4 421.1L429.3 416.5L436.2 413.6L429.3 411.4L418.8 406.1L418 405.8L406.7 404.5L399.3 406.1L406.7 408.9L416.4 413.6L406.7 419.6L404.9 421.1M383.6 413.6L384 414L395.3 415.6L398.9 413.6L395.3 409.1L384 412.9L383.6 413.6M367.8 398.6L372.7 399.4L384 402.8L390.1 398.6L384 396.1L372.7 394.7L367.8 398.6M472.6 436.1L474.7 437.1L481.7 436.1L486 435.1L491.7 436.1L497.3 437L499 436.1L503.8 428.6L497.3 427.2L486 426.3L474.7 423.3L471.4 421.1L463.3 417.1L458.1 421.1L463.3 426.8L466 428.6L472.6 436.1M517.1 436.1L520 437.4L521.3 436.1L520 435.1L517.1 436.1M408 421.1L418 423.7L422.7 421.1L418 414.9L408 421.1M393.1 413.6L395.3 413.9L395.9 413.6L395.3 413L393.1 413.6M422.8 413.6L429.3 414.9L432.4 413.6L429.3 412.6L422.8 413.6M404.3 406.1L406.7 407L411.4 406.1L406.7 405.6L404.3 406.1M373.7 398.6L384 401.7L388.5 398.6L384 396.8L373.7 398.6M469.9 428.6L474.7 434.4L486 432.5L497.3 433L500.4 428.6L497.3 427.9L486 427.2L474.7 425.7L469.9 428.6M411.6 421.1L418 422.8L421 421.1L418 417.1L411.6 421.1M460.4 421.1L463.3 424.3L467.8 421.1L463.3 418.9L460.4 421.1M377.5 398.6L384 400.5L386.8 398.6L384 397.5L377.5 398.6M473.8 428.6L474.7 429.6L486 430L495.2 428.6L486 428.1L474.7 428.1L473.8 428.6M415.2 421.1L418 421.8L419.3 421.1L418 419.3L415.2 421.1M462.7 421.1L463.3 421.7L464.3 421.1L463.3 420.6L462.7 421.1M381.4 398.6L384 399.4L385.2 398.6L384 398.2L381.4 398.6M377.6 219L378.4 217.9L379.2 219L378.4 220.1ZM376.7 219L378.4 216.8L380.1 219L378.4 221.2ZM375.9 219L378.4 215.8L380.9 219L378.4 222.2ZM375.1 219L378.4 214.7L381.7 219L378.4 223.3ZM374.2 219L378.4 213.6L382.6 219L378.4 224.4ZM373.4 219L378.4 212.5L383.4 219L378.4 225.5ZM281.1 548L282 546.9L282.9 548L282 549.1ZM280.2 548L282 545.8L283.8 548L282 550.2ZM279.2 548L282 544.8L284.8 548L282 551.2ZM278.3 548L282 543.7L285.7 548L282 552.3ZM277.4 548L282 542.6L286.6 548L282 553.4ZM276.5 548L282 541.5L287.5 548L282 554.5ZM570.7 316.4L572.8 314.7L574.9 316.4L572.8 318.1ZM568.5 316.4L572.8 312.9L577.1 316.4L572.8 319.9ZM566.4 316.4L572.8 311.2L579.2 316.4L572.8 321.6ZM598.8 294L601.6 291.8L604.4 294L601.6 296.2ZM596 294L601.6 289.6L607.2 294L601.6 298.4ZM549 316.2L551 314.5L553 316.2L551 317.9ZM547 316.2L551 312.9L555 316.2L551 319.5ZM545 316.2L551 311.2L557 316.2L551 321.2ZM467.9 148.1L472.2 151.3L472.2 160.8L477.5 167.2L474.3 171.4L465.8 160.8L465.8 151.3Z"/>
</g>
<rect x="282" y="114" width="408" height="681.6" fill="none" stroke="#000" stroke-width="2.1"/>
<path d="M282 795.6v15.2M282 114v-15M384 795.6v15.2M384 114v-15M486 795.6v15.2M486 114v-15M588 795.6v15.2M588 114v-15M690 795.6v15.2M690 114v-15M282 795.3h-15M690 795.3h15M282 690.6h-15M690 690.6h15M282 563.4h-15M690 563.4h15M282 458.7h-15M690 458.7h15M282 331.5h-15M690 331.5h15M282 226.7h-15M690 226.7h15" stroke="#000" stroke-width="2.1" fill="none"/>
<path d="M316 795.6v8.2M316 114v-8M350 795.6v8.2M350 114v-8M418 795.6v8.2M418 114v-8M452 795.6v8.2M452 114v-8M520 795.6v8.2M520 114v-8M554 795.6v8.2M554 114v-8M622 795.6v8.2M622 114v-8M656 795.6v8.2M656 114v-8M282 765.4h-8M690 765.4h8M282 728h-8M690 728h8M282 653.2h-8M690 653.2h8M282 615.8h-8M690 615.8h8M282 533.5h-8M690 533.5h8M282 496.1h-8M690 496.1h8M282 421.3h-8M690 421.3h8M282 383.8h-8M690 383.8h8M282 301.6h-8M690 301.6h8M282 264.1h-8M690 264.1h8M282 189.3h-8M690 189.3h8M282 151.9h-8M690 151.9h8M282 114.5h-8M690 114.5h8" stroke="#000" stroke-width="1.2" fill="none"/>
<text class="big" x="250.5" y="801.9" text-anchor="end">1 Jul</text>
<text class="big" x="250.5" y="697.2" text-anchor="end">15 Jul</text>
<text class="big" x="250.5" y="570" text-anchor="end">1 Aug</text>
<text class="big" x="250.5" y="465.3" text-anchor="end">15 Aug</text>
<text class="big" x="250.5" y="338.1" text-anchor="end">1 Sep</text>
<text class="big" x="250.5" y="233.3" text-anchor="end">15 Sep</text>
<text class="big" x="282" y="845.7" text-anchor="middle">0</text>
<text class="big" x="384" y="845.7" text-anchor="middle">45E</text>
<text class="big" x="486" y="845.7" text-anchor="middle">90E</text>
<text class="big" x="588" y="845.7" text-anchor="middle">135E</text>
<text class="big" x="690" y="845.7" text-anchor="middle">180</text>
<text class="ttl" x="486" y="65.8" text-anchor="middle">2003</text>
<text class="sm" x="281" y="94.5" textLength="376" lengthAdjust="spacingAndGlyphs">Area CO&gt;130 ppb (color) and PV&lt;0.3PVU (black), 15-35N, 360K</text>
<rect x="509.5" y="861.3" width="180" height="12.8" fill="#fff" stroke="#000" stroke-width="1"/>
<text class="info" x="599.7" y="871.7" text-anchor="middle" textLength="175" lengthAdjust="spacing">CONTOUR FROM .05 TO 1 BY .05</text>
<rect x="312.2" y="889.5" width="16.55" height="61" fill="#ffffff" stroke="#000" stroke-width="0.9"/>
<rect x="328.7" y="889.5" width="16.55" height="61" fill="#c8c8ff" stroke="#000" stroke-width="0.9"/>
<rect x="345.3" y="889.5" width="16.55" height="61" fill="#9999ff" stroke="#000" stroke-width="0.9"/>
<rect x="361.8" y="889.5" width="16.55" height="61" fill="#6868ff" stroke="#000" stroke-width="0.9"/>
<rect x="378.4" y="889.5" width="16.55" height="61" fill="#3c3cff" stroke="#000" stroke-width="0.9"/>
<rect x="394.9" y="889.5" width="16.55" height="61" fill="#0000ff" stroke="#000" stroke-width="0.9"/>
<rect x="411.5" y="889.5" width="16.55" height="61" fill="#0a28d2" stroke="#000" stroke-width="0.9"/>
<rect x="428" y="889.5" width="16.55" height="61" fill="#0a50a5" stroke="#000" stroke-width="0.9"/>
<rect x="444.6" y="889.5" width="16.55" height="61" fill="#0a6e6e" stroke="#000" stroke-width="0.9"/>
<rect x="461.1" y="889.5" width="16.55" height="61" fill="#0a8c46" stroke="#000" stroke-width="0.9"/>
<rect x="477.7" y="889.5" width="16.55" height="61" fill="#0aaf19" stroke="#000" stroke-width="0.9"/>
<rect x="494.2" y="889.5" width="16.55" height="61" fill="#32b91e" stroke="#000" stroke-width="0.9"/>
<rect x="510.8" y="889.5" width="16.55" height="61" fill="#64cd14" stroke="#000" stroke-width="0.9"/>
<rect x="527.3" y="889.5" width="16.55" height="61" fill="#96e10f" stroke="#000" stroke-width="0.9"/>
<rect x="543.9" y="889.5" width="16.55" height="61" fill="#c8f014" stroke="#000" stroke-width="0.9"/>
<rect x="560.4" y="889.5" width="16.55" height="61" fill="#ffff0f" stroke="#000" stroke-width="0.9"/>
<rect x="577" y="889.5" width="16.55" height="61" fill="#ffcd00" stroke="#000" stroke-width="0.9"/>
<rect x="593.5" y="889.5" width="16.55" height="61" fill="#ff9b00" stroke="#000" stroke-width="0.9"/>
<rect x="610.1" y="889.5" width="16.55" height="61" fill="#ff6400" stroke="#000" stroke-width="0.9"/>
<rect x="626.6" y="889.5" width="16.55" height="61" fill="#ff3200" stroke="#000" stroke-width="0.9"/>
<rect x="643.2" y="889.5" width="16.55" height="61" fill="#ff0000" stroke="#000" stroke-width="0.9"/>
<rect x="312.2" y="889.5" width="347.5" height="61" fill="none" stroke="#000" stroke-width="1.3"/>
<text class="cb" x="345.3" y="979.8" text-anchor="middle">0.1</text>
<text class="cb" x="378.4" y="979.8" text-anchor="middle">0.2</text>
<text class="cb" x="411.5" y="979.8" text-anchor="middle">0.3</text>
<text class="cb" x="444.6" y="979.8" text-anchor="middle">0.4</text>
<text class="cb" x="477.7" y="979.8" text-anchor="middle">0.5</text>
<text class="cb" x="510.8" y="979.8" text-anchor="middle">0.6</text>
<text class="cb" x="543.9" y="979.8" text-anchor="middle">0.7</text>
<text class="cb" x="577" y="979.8" text-anchor="middle">0.8</text>
<text class="cb" x="610.1" y="979.8" text-anchor="middle">0.9</text>
<text class="cb" x="643.2" y="979.8" text-anchor="middle">1</text>
<text class="cbt" x="486.3" y="1031.4" text-anchor="middle">Area [100%]</text>
</svg></body></html>
